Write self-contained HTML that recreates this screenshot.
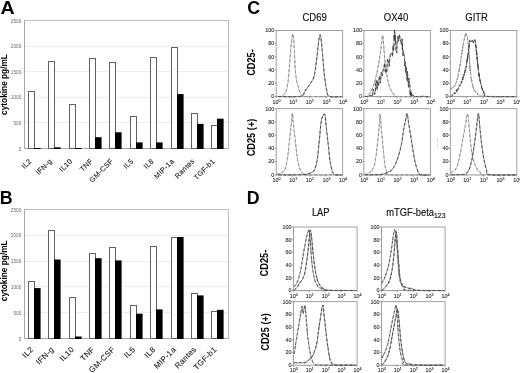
<!DOCTYPE html>
<html><head><meta charset="utf-8"><style>html,body{margin:0;padding:0;background:#fff;overflow:hidden}svg{display:block;will-change:transform}</style></head>
<body><svg width="520" height="373" viewBox="0 0 520 373">
<rect width="520" height="373" fill="#fff"/>
<line x1="24.5" y1="122.50" x2="228.5" y2="122.50" stroke="#ededed" stroke-width="1"/>
<line x1="24.5" y1="97.50" x2="228.5" y2="97.50" stroke="#ededed" stroke-width="1"/>
<line x1="24.5" y1="71.50" x2="228.5" y2="71.50" stroke="#ededed" stroke-width="1"/>
<line x1="24.5" y1="46.50" x2="228.5" y2="46.50" stroke="#ededed" stroke-width="1"/>
<rect x="24.5" y="20.5" width="204.0" height="128.0" fill="none" stroke="#bdbdbd" stroke-width="1"/>
<line x1="24.5" y1="20.5" x2="24.5" y2="148.5" stroke="#a8a8a8" stroke-width="1"/>
<line x1="24.5" y1="148.5" x2="228.5" y2="148.5" stroke="#a8a8a8" stroke-width="1"/>
<text x="21.3" y="150.50" font-family="Liberation Sans, sans-serif" font-size="4.7" fill="#666" text-anchor="end">0</text>
<text x="21.3" y="124.90" font-family="Liberation Sans, sans-serif" font-size="4.7" fill="#666" text-anchor="end">500</text>
<text x="21.3" y="99.30" font-family="Liberation Sans, sans-serif" font-size="4.7" fill="#666" text-anchor="end">1000</text>
<text x="21.3" y="73.70" font-family="Liberation Sans, sans-serif" font-size="4.7" fill="#666" text-anchor="end">1500</text>
<text x="21.3" y="48.10" font-family="Liberation Sans, sans-serif" font-size="4.7" fill="#666" text-anchor="end">2000</text>
<text x="21.3" y="22.50" font-family="Liberation Sans, sans-serif" font-size="4.7" fill="#666" text-anchor="end">2500</text>
<rect x="28.50" y="91.50" width="6" height="57.00" fill="#fff" stroke="#606060" stroke-width="1"/>
<rect x="34.00" y="148.00" width="6.6" height="1.00" fill="#000"/>
<text transform="translate(32.10,161.60) rotate(-45)" font-family="Liberation Sans, sans-serif" font-size="7.2" fill="#222" stroke="#222" stroke-width="0.12" letter-spacing="0.3" text-anchor="end">IL2</text>
<rect x="48.50" y="61.50" width="6" height="87.00" fill="#fff" stroke="#606060" stroke-width="1"/>
<rect x="54.00" y="147.30" width="6.6" height="1.70" fill="#000"/>
<text transform="translate(52.47,161.60) rotate(-45)" font-family="Liberation Sans, sans-serif" font-size="7.2" fill="#222" stroke="#222" stroke-width="0.12" letter-spacing="0.3" text-anchor="end">IFN-g</text>
<rect x="69.50" y="104.50" width="6" height="44.00" fill="#fff" stroke="#606060" stroke-width="1"/>
<rect x="75.00" y="148.00" width="6.6" height="1.00" fill="#000"/>
<text transform="translate(72.84,161.60) rotate(-45)" font-family="Liberation Sans, sans-serif" font-size="7.2" fill="#222" stroke="#222" stroke-width="0.12" letter-spacing="0.3" text-anchor="end">IL10</text>
<rect x="89.50" y="58.50" width="6" height="90.00" fill="#fff" stroke="#606060" stroke-width="1"/>
<rect x="95.00" y="137.20" width="6.6" height="11.80" fill="#000"/>
<text transform="translate(93.21,161.60) rotate(-45)" font-family="Liberation Sans, sans-serif" font-size="7.2" fill="#222" stroke="#222" stroke-width="0.12" letter-spacing="0.3" text-anchor="end">TNF</text>
<rect x="109.50" y="62.50" width="6" height="86.00" fill="#fff" stroke="#606060" stroke-width="1"/>
<rect x="115.00" y="132.30" width="6.6" height="16.70" fill="#000"/>
<text transform="translate(113.58,161.60) rotate(-45)" font-family="Liberation Sans, sans-serif" font-size="7.2" fill="#222" stroke="#222" stroke-width="0.12" letter-spacing="0.3" text-anchor="end">GM-CSF</text>
<rect x="130.50" y="116.50" width="6" height="32.00" fill="#fff" stroke="#606060" stroke-width="1"/>
<rect x="136.00" y="142.40" width="6.6" height="6.60" fill="#000"/>
<text transform="translate(133.95,161.60) rotate(-45)" font-family="Liberation Sans, sans-serif" font-size="7.2" fill="#222" stroke="#222" stroke-width="0.12" letter-spacing="0.3" text-anchor="end">IL5</text>
<rect x="150.50" y="57.50" width="6" height="91.00" fill="#fff" stroke="#606060" stroke-width="1"/>
<rect x="156.00" y="142.40" width="6.6" height="6.60" fill="#000"/>
<text transform="translate(154.32,161.60) rotate(-45)" font-family="Liberation Sans, sans-serif" font-size="7.2" fill="#222" stroke="#222" stroke-width="0.12" letter-spacing="0.3" text-anchor="end">IL8</text>
<rect x="171.50" y="47.50" width="6" height="101.00" fill="#fff" stroke="#606060" stroke-width="1"/>
<rect x="177.00" y="94.10" width="6.6" height="54.90" fill="#000"/>
<text transform="translate(174.69,161.60) rotate(-45)" font-family="Liberation Sans, sans-serif" font-size="7.2" fill="#222" stroke="#222" stroke-width="0.12" letter-spacing="0.3" text-anchor="end">MIP-1a</text>
<rect x="191.50" y="113.50" width="6" height="35.00" fill="#fff" stroke="#606060" stroke-width="1"/>
<rect x="197.00" y="123.90" width="6.6" height="25.10" fill="#000"/>
<text transform="translate(195.06,161.60) rotate(-45)" font-family="Liberation Sans, sans-serif" font-size="7.2" fill="#222" stroke="#222" stroke-width="0.12" letter-spacing="0.3" text-anchor="end">Rantes</text>
<rect x="211.50" y="125.50" width="6" height="23.00" fill="#fff" stroke="#606060" stroke-width="1"/>
<rect x="217.00" y="118.70" width="6.6" height="30.30" fill="#000"/>
<text transform="translate(215.43,161.60) rotate(-45)" font-family="Liberation Sans, sans-serif" font-size="7.2" fill="#222" stroke="#222" stroke-width="0.12" letter-spacing="0.3" text-anchor="end">TGF-b1</text>
<text transform="translate(6.7,84.5) rotate(-90)" font-family="Liberation Sans, sans-serif" font-size="8.3" font-weight="bold" fill="#000" text-anchor="middle">cytokine pg/mL</text>
<text transform="translate(0.6,13.5) scale(1.1,1)" font-family="Liberation Sans, sans-serif" font-size="17.8" font-weight="bold" fill="#000">A</text>
<line x1="24.5" y1="312.50" x2="228.5" y2="312.50" stroke="#ededed" stroke-width="1"/>
<line x1="24.5" y1="286.50" x2="228.5" y2="286.50" stroke="#ededed" stroke-width="1"/>
<line x1="24.5" y1="261.50" x2="228.5" y2="261.50" stroke="#ededed" stroke-width="1"/>
<line x1="24.5" y1="235.50" x2="228.5" y2="235.50" stroke="#ededed" stroke-width="1"/>
<rect x="24.5" y="209.5" width="204.0" height="129.0" fill="none" stroke="#bdbdbd" stroke-width="1"/>
<line x1="24.5" y1="209.5" x2="24.5" y2="338.5" stroke="#a8a8a8" stroke-width="1"/>
<line x1="24.5" y1="338.5" x2="228.5" y2="338.5" stroke="#a8a8a8" stroke-width="1"/>
<text x="21.3" y="340.50" font-family="Liberation Sans, sans-serif" font-size="4.7" fill="#666" text-anchor="end">0</text>
<text x="21.3" y="314.70" font-family="Liberation Sans, sans-serif" font-size="4.7" fill="#666" text-anchor="end">500</text>
<text x="21.3" y="288.90" font-family="Liberation Sans, sans-serif" font-size="4.7" fill="#666" text-anchor="end">1000</text>
<text x="21.3" y="263.10" font-family="Liberation Sans, sans-serif" font-size="4.7" fill="#666" text-anchor="end">1500</text>
<text x="21.3" y="237.30" font-family="Liberation Sans, sans-serif" font-size="4.7" fill="#666" text-anchor="end">2000</text>
<text x="21.3" y="211.50" font-family="Liberation Sans, sans-serif" font-size="4.7" fill="#666" text-anchor="end">2500</text>
<rect x="28.50" y="281.50" width="6" height="57.00" fill="#fff" stroke="#606060" stroke-width="1"/>
<rect x="34.00" y="288.10" width="6.6" height="50.90" fill="#000"/>
<text transform="translate(33.90,350.00) rotate(-45)" font-family="Liberation Sans, sans-serif" font-size="7.9" fill="#222" stroke="#222" stroke-width="0.12" letter-spacing="0.3" text-anchor="end">IL2</text>
<rect x="48.50" y="230.50" width="6" height="108.00" fill="#fff" stroke="#606060" stroke-width="1"/>
<rect x="54.00" y="259.50" width="6.6" height="79.50" fill="#000"/>
<text transform="translate(54.27,350.00) rotate(-45)" font-family="Liberation Sans, sans-serif" font-size="7.9" fill="#222" stroke="#222" stroke-width="0.12" letter-spacing="0.3" text-anchor="end">IFN-g</text>
<rect x="69.50" y="297.50" width="6" height="41.00" fill="#fff" stroke="#606060" stroke-width="1"/>
<rect x="75.00" y="336.50" width="6.6" height="2.50" fill="#000"/>
<text transform="translate(74.64,350.00) rotate(-45)" font-family="Liberation Sans, sans-serif" font-size="7.9" fill="#222" stroke="#222" stroke-width="0.12" letter-spacing="0.3" text-anchor="end">IL10</text>
<rect x="89.50" y="253.50" width="6" height="85.00" fill="#fff" stroke="#606060" stroke-width="1"/>
<rect x="95.00" y="258.20" width="6.6" height="80.80" fill="#000"/>
<text transform="translate(95.01,350.00) rotate(-45)" font-family="Liberation Sans, sans-serif" font-size="7.9" fill="#222" stroke="#222" stroke-width="0.12" letter-spacing="0.3" text-anchor="end">TNF</text>
<rect x="109.50" y="247.50" width="6" height="91.00" fill="#fff" stroke="#606060" stroke-width="1"/>
<rect x="115.00" y="260.40" width="6.6" height="78.60" fill="#000"/>
<text transform="translate(115.38,350.00) rotate(-45)" font-family="Liberation Sans, sans-serif" font-size="7.9" fill="#222" stroke="#222" stroke-width="0.12" letter-spacing="0.3" text-anchor="end">GM-CSF</text>
<rect x="130.50" y="305.50" width="6" height="33.00" fill="#fff" stroke="#606060" stroke-width="1"/>
<rect x="136.00" y="313.70" width="6.6" height="25.30" fill="#000"/>
<text transform="translate(135.75,350.00) rotate(-45)" font-family="Liberation Sans, sans-serif" font-size="7.9" fill="#222" stroke="#222" stroke-width="0.12" letter-spacing="0.3" text-anchor="end">IL5</text>
<rect x="150.50" y="246.50" width="6" height="92.00" fill="#fff" stroke="#606060" stroke-width="1"/>
<rect x="156.00" y="309.40" width="6.6" height="29.60" fill="#000"/>
<text transform="translate(156.12,350.00) rotate(-45)" font-family="Liberation Sans, sans-serif" font-size="7.9" fill="#222" stroke="#222" stroke-width="0.12" letter-spacing="0.3" text-anchor="end">IL8</text>
<rect x="171.50" y="237.50" width="6" height="101.00" fill="#fff" stroke="#606060" stroke-width="1"/>
<rect x="177.00" y="237.00" width="6.6" height="102.00" fill="#000"/>
<text transform="translate(176.49,350.00) rotate(-45)" font-family="Liberation Sans, sans-serif" font-size="7.9" fill="#222" stroke="#222" stroke-width="0.12" letter-spacing="0.3" text-anchor="end">MIP-1a</text>
<rect x="191.50" y="293.50" width="6" height="45.00" fill="#fff" stroke="#606060" stroke-width="1"/>
<rect x="197.00" y="295.40" width="6.6" height="43.60" fill="#000"/>
<text transform="translate(196.86,350.00) rotate(-45)" font-family="Liberation Sans, sans-serif" font-size="7.9" fill="#222" stroke="#222" stroke-width="0.12" letter-spacing="0.3" text-anchor="end">Rantes</text>
<rect x="211.50" y="311.50" width="6" height="27.00" fill="#fff" stroke="#606060" stroke-width="1"/>
<rect x="217.00" y="309.80" width="6.6" height="29.20" fill="#000"/>
<text transform="translate(217.23,350.00) rotate(-45)" font-family="Liberation Sans, sans-serif" font-size="7.9" fill="#222" stroke="#222" stroke-width="0.12" letter-spacing="0.3" text-anchor="end">TGF-b1</text>
<text transform="translate(6.7,270.8) rotate(-90)" font-family="Liberation Sans, sans-serif" font-size="8.3" font-weight="bold" fill="#000" text-anchor="middle">cytokine pg/mL</text>
<text transform="translate(-0.3,203.7) scale(1.0,1)" font-family="Liberation Sans, sans-serif" font-size="17.8" font-weight="bold" fill="#000">B</text>
<rect x="276.2" y="30.4" width="66.5" height="66.2" fill="none" stroke="#8a8a8a" stroke-width="0.8"/>
<line x1="274.4" y1="96.60" x2="276.2" y2="96.60" stroke="#777" stroke-width="0.6"/>
<text x="274.30" y="98.40" font-family="Liberation Sans, sans-serif" font-size="5.4" fill="#333" stroke="#333" stroke-width="0.12" text-anchor="end">0</text>
<line x1="274.4" y1="83.36" x2="276.2" y2="83.36" stroke="#777" stroke-width="0.6"/>
<text x="274.30" y="85.16" font-family="Liberation Sans, sans-serif" font-size="5.4" fill="#333" stroke="#333" stroke-width="0.12" text-anchor="end">20</text>
<line x1="274.4" y1="70.12" x2="276.2" y2="70.12" stroke="#777" stroke-width="0.6"/>
<text x="274.30" y="71.92" font-family="Liberation Sans, sans-serif" font-size="5.4" fill="#333" stroke="#333" stroke-width="0.12" text-anchor="end">40</text>
<line x1="274.4" y1="56.88" x2="276.2" y2="56.88" stroke="#777" stroke-width="0.6"/>
<text x="274.30" y="58.68" font-family="Liberation Sans, sans-serif" font-size="5.4" fill="#333" stroke="#333" stroke-width="0.12" text-anchor="end">60</text>
<line x1="274.4" y1="43.64" x2="276.2" y2="43.64" stroke="#777" stroke-width="0.6"/>
<text x="274.30" y="45.44" font-family="Liberation Sans, sans-serif" font-size="5.4" fill="#333" stroke="#333" stroke-width="0.12" text-anchor="end">80</text>
<line x1="274.4" y1="30.40" x2="276.2" y2="30.40" stroke="#777" stroke-width="0.6"/>
<text x="274.30" y="32.20" font-family="Liberation Sans, sans-serif" font-size="5.4" fill="#333" stroke="#333" stroke-width="0.12" text-anchor="end">100</text>
<line x1="275.3" y1="89.98" x2="276.2" y2="89.98" stroke="#999" stroke-width="0.5"/>
<line x1="275.3" y1="76.74" x2="276.2" y2="76.74" stroke="#999" stroke-width="0.5"/>
<line x1="275.3" y1="63.50" x2="276.2" y2="63.50" stroke="#999" stroke-width="0.5"/>
<line x1="275.3" y1="50.26" x2="276.2" y2="50.26" stroke="#999" stroke-width="0.5"/>
<line x1="275.3" y1="37.02" x2="276.2" y2="37.02" stroke="#999" stroke-width="0.5"/>
<line x1="276.20" y1="96.6" x2="276.20" y2="98.39999999999999" stroke="#777" stroke-width="0.6"/>
<text x="272.60" y="103.60" font-family="Liberation Sans, sans-serif" font-size="5.4" fill="#333" stroke="#333" stroke-width="0.12">10<tspan font-size="3.6" dy="-2">0</tspan></text>
<line x1="281.20" y1="96.6" x2="281.20" y2="97.5" stroke="#999" stroke-width="0.5"/>
<line x1="284.13" y1="96.6" x2="284.13" y2="97.5" stroke="#999" stroke-width="0.5"/>
<line x1="286.21" y1="96.6" x2="286.21" y2="97.5" stroke="#999" stroke-width="0.5"/>
<line x1="287.82" y1="96.6" x2="287.82" y2="97.5" stroke="#999" stroke-width="0.5"/>
<line x1="289.14" y1="96.6" x2="289.14" y2="97.5" stroke="#999" stroke-width="0.5"/>
<line x1="290.25" y1="96.6" x2="290.25" y2="97.5" stroke="#999" stroke-width="0.5"/>
<line x1="291.21" y1="96.6" x2="291.21" y2="97.5" stroke="#999" stroke-width="0.5"/>
<line x1="292.06" y1="96.6" x2="292.06" y2="97.5" stroke="#999" stroke-width="0.5"/>
<line x1="292.82" y1="96.6" x2="292.82" y2="98.39999999999999" stroke="#777" stroke-width="0.6"/>
<text x="289.22" y="103.60" font-family="Liberation Sans, sans-serif" font-size="5.4" fill="#333" stroke="#333" stroke-width="0.12">10<tspan font-size="3.6" dy="-2">1</tspan></text>
<line x1="297.83" y1="96.6" x2="297.83" y2="97.5" stroke="#999" stroke-width="0.5"/>
<line x1="300.76" y1="96.6" x2="300.76" y2="97.5" stroke="#999" stroke-width="0.5"/>
<line x1="302.83" y1="96.6" x2="302.83" y2="97.5" stroke="#999" stroke-width="0.5"/>
<line x1="304.45" y1="96.6" x2="304.45" y2="97.5" stroke="#999" stroke-width="0.5"/>
<line x1="305.76" y1="96.6" x2="305.76" y2="97.5" stroke="#999" stroke-width="0.5"/>
<line x1="306.87" y1="96.6" x2="306.87" y2="97.5" stroke="#999" stroke-width="0.5"/>
<line x1="307.84" y1="96.6" x2="307.84" y2="97.5" stroke="#999" stroke-width="0.5"/>
<line x1="308.69" y1="96.6" x2="308.69" y2="97.5" stroke="#999" stroke-width="0.5"/>
<line x1="309.45" y1="96.6" x2="309.45" y2="98.39999999999999" stroke="#777" stroke-width="0.6"/>
<text x="305.85" y="103.60" font-family="Liberation Sans, sans-serif" font-size="5.4" fill="#333" stroke="#333" stroke-width="0.12">10<tspan font-size="3.6" dy="-2">2</tspan></text>
<line x1="314.45" y1="96.6" x2="314.45" y2="97.5" stroke="#999" stroke-width="0.5"/>
<line x1="317.38" y1="96.6" x2="317.38" y2="97.5" stroke="#999" stroke-width="0.5"/>
<line x1="319.46" y1="96.6" x2="319.46" y2="97.5" stroke="#999" stroke-width="0.5"/>
<line x1="321.07" y1="96.6" x2="321.07" y2="97.5" stroke="#999" stroke-width="0.5"/>
<line x1="322.39" y1="96.6" x2="322.39" y2="97.5" stroke="#999" stroke-width="0.5"/>
<line x1="323.50" y1="96.6" x2="323.50" y2="97.5" stroke="#999" stroke-width="0.5"/>
<line x1="324.46" y1="96.6" x2="324.46" y2="97.5" stroke="#999" stroke-width="0.5"/>
<line x1="325.31" y1="96.6" x2="325.31" y2="97.5" stroke="#999" stroke-width="0.5"/>
<line x1="326.07" y1="96.6" x2="326.07" y2="98.39999999999999" stroke="#777" stroke-width="0.6"/>
<text x="322.47" y="103.60" font-family="Liberation Sans, sans-serif" font-size="5.4" fill="#333" stroke="#333" stroke-width="0.12">10<tspan font-size="3.6" dy="-2">3</tspan></text>
<line x1="331.08" y1="96.6" x2="331.08" y2="97.5" stroke="#999" stroke-width="0.5"/>
<line x1="334.01" y1="96.6" x2="334.01" y2="97.5" stroke="#999" stroke-width="0.5"/>
<line x1="336.08" y1="96.6" x2="336.08" y2="97.5" stroke="#999" stroke-width="0.5"/>
<line x1="337.70" y1="96.6" x2="337.70" y2="97.5" stroke="#999" stroke-width="0.5"/>
<line x1="339.01" y1="96.6" x2="339.01" y2="97.5" stroke="#999" stroke-width="0.5"/>
<line x1="340.12" y1="96.6" x2="340.12" y2="97.5" stroke="#999" stroke-width="0.5"/>
<line x1="341.09" y1="96.6" x2="341.09" y2="97.5" stroke="#999" stroke-width="0.5"/>
<line x1="341.94" y1="96.6" x2="341.94" y2="97.5" stroke="#999" stroke-width="0.5"/>
<line x1="342.70" y1="96.6" x2="342.70" y2="98.39999999999999" stroke="#777" stroke-width="0.6"/>
<text x="339.10" y="103.60" font-family="Liberation Sans, sans-serif" font-size="5.4" fill="#333" stroke="#333" stroke-width="0.12">10<tspan font-size="3.6" dy="-2">4</tspan></text>
<rect x="363.9" y="30.4" width="66.5" height="66.2" fill="none" stroke="#8a8a8a" stroke-width="0.8"/>
<line x1="362.09999999999997" y1="96.60" x2="363.9" y2="96.60" stroke="#777" stroke-width="0.6"/>
<text x="362.00" y="98.40" font-family="Liberation Sans, sans-serif" font-size="5.4" fill="#333" stroke="#333" stroke-width="0.12" text-anchor="end">0</text>
<line x1="362.09999999999997" y1="83.36" x2="363.9" y2="83.36" stroke="#777" stroke-width="0.6"/>
<text x="362.00" y="85.16" font-family="Liberation Sans, sans-serif" font-size="5.4" fill="#333" stroke="#333" stroke-width="0.12" text-anchor="end">20</text>
<line x1="362.09999999999997" y1="70.12" x2="363.9" y2="70.12" stroke="#777" stroke-width="0.6"/>
<text x="362.00" y="71.92" font-family="Liberation Sans, sans-serif" font-size="5.4" fill="#333" stroke="#333" stroke-width="0.12" text-anchor="end">40</text>
<line x1="362.09999999999997" y1="56.88" x2="363.9" y2="56.88" stroke="#777" stroke-width="0.6"/>
<text x="362.00" y="58.68" font-family="Liberation Sans, sans-serif" font-size="5.4" fill="#333" stroke="#333" stroke-width="0.12" text-anchor="end">60</text>
<line x1="362.09999999999997" y1="43.64" x2="363.9" y2="43.64" stroke="#777" stroke-width="0.6"/>
<text x="362.00" y="45.44" font-family="Liberation Sans, sans-serif" font-size="5.4" fill="#333" stroke="#333" stroke-width="0.12" text-anchor="end">80</text>
<line x1="362.09999999999997" y1="30.40" x2="363.9" y2="30.40" stroke="#777" stroke-width="0.6"/>
<text x="362.00" y="32.20" font-family="Liberation Sans, sans-serif" font-size="5.4" fill="#333" stroke="#333" stroke-width="0.12" text-anchor="end">100</text>
<line x1="363.0" y1="89.98" x2="363.9" y2="89.98" stroke="#999" stroke-width="0.5"/>
<line x1="363.0" y1="76.74" x2="363.9" y2="76.74" stroke="#999" stroke-width="0.5"/>
<line x1="363.0" y1="63.50" x2="363.9" y2="63.50" stroke="#999" stroke-width="0.5"/>
<line x1="363.0" y1="50.26" x2="363.9" y2="50.26" stroke="#999" stroke-width="0.5"/>
<line x1="363.0" y1="37.02" x2="363.9" y2="37.02" stroke="#999" stroke-width="0.5"/>
<line x1="363.90" y1="96.6" x2="363.90" y2="98.39999999999999" stroke="#777" stroke-width="0.6"/>
<text x="360.30" y="103.60" font-family="Liberation Sans, sans-serif" font-size="5.4" fill="#333" stroke="#333" stroke-width="0.12">10<tspan font-size="3.6" dy="-2">0</tspan></text>
<line x1="368.90" y1="96.6" x2="368.90" y2="97.5" stroke="#999" stroke-width="0.5"/>
<line x1="371.83" y1="96.6" x2="371.83" y2="97.5" stroke="#999" stroke-width="0.5"/>
<line x1="373.91" y1="96.6" x2="373.91" y2="97.5" stroke="#999" stroke-width="0.5"/>
<line x1="375.52" y1="96.6" x2="375.52" y2="97.5" stroke="#999" stroke-width="0.5"/>
<line x1="376.84" y1="96.6" x2="376.84" y2="97.5" stroke="#999" stroke-width="0.5"/>
<line x1="377.95" y1="96.6" x2="377.95" y2="97.5" stroke="#999" stroke-width="0.5"/>
<line x1="378.91" y1="96.6" x2="378.91" y2="97.5" stroke="#999" stroke-width="0.5"/>
<line x1="379.76" y1="96.6" x2="379.76" y2="97.5" stroke="#999" stroke-width="0.5"/>
<line x1="380.52" y1="96.6" x2="380.52" y2="98.39999999999999" stroke="#777" stroke-width="0.6"/>
<text x="376.92" y="103.60" font-family="Liberation Sans, sans-serif" font-size="5.4" fill="#333" stroke="#333" stroke-width="0.12">10<tspan font-size="3.6" dy="-2">1</tspan></text>
<line x1="385.53" y1="96.6" x2="385.53" y2="97.5" stroke="#999" stroke-width="0.5"/>
<line x1="388.46" y1="96.6" x2="388.46" y2="97.5" stroke="#999" stroke-width="0.5"/>
<line x1="390.53" y1="96.6" x2="390.53" y2="97.5" stroke="#999" stroke-width="0.5"/>
<line x1="392.15" y1="96.6" x2="392.15" y2="97.5" stroke="#999" stroke-width="0.5"/>
<line x1="393.46" y1="96.6" x2="393.46" y2="97.5" stroke="#999" stroke-width="0.5"/>
<line x1="394.57" y1="96.6" x2="394.57" y2="97.5" stroke="#999" stroke-width="0.5"/>
<line x1="395.54" y1="96.6" x2="395.54" y2="97.5" stroke="#999" stroke-width="0.5"/>
<line x1="396.39" y1="96.6" x2="396.39" y2="97.5" stroke="#999" stroke-width="0.5"/>
<line x1="397.15" y1="96.6" x2="397.15" y2="98.39999999999999" stroke="#777" stroke-width="0.6"/>
<text x="393.55" y="103.60" font-family="Liberation Sans, sans-serif" font-size="5.4" fill="#333" stroke="#333" stroke-width="0.12">10<tspan font-size="3.6" dy="-2">2</tspan></text>
<line x1="402.15" y1="96.6" x2="402.15" y2="97.5" stroke="#999" stroke-width="0.5"/>
<line x1="405.08" y1="96.6" x2="405.08" y2="97.5" stroke="#999" stroke-width="0.5"/>
<line x1="407.16" y1="96.6" x2="407.16" y2="97.5" stroke="#999" stroke-width="0.5"/>
<line x1="408.77" y1="96.6" x2="408.77" y2="97.5" stroke="#999" stroke-width="0.5"/>
<line x1="410.09" y1="96.6" x2="410.09" y2="97.5" stroke="#999" stroke-width="0.5"/>
<line x1="411.20" y1="96.6" x2="411.20" y2="97.5" stroke="#999" stroke-width="0.5"/>
<line x1="412.16" y1="96.6" x2="412.16" y2="97.5" stroke="#999" stroke-width="0.5"/>
<line x1="413.01" y1="96.6" x2="413.01" y2="97.5" stroke="#999" stroke-width="0.5"/>
<line x1="413.77" y1="96.6" x2="413.77" y2="98.39999999999999" stroke="#777" stroke-width="0.6"/>
<text x="410.17" y="103.60" font-family="Liberation Sans, sans-serif" font-size="5.4" fill="#333" stroke="#333" stroke-width="0.12">10<tspan font-size="3.6" dy="-2">3</tspan></text>
<line x1="418.78" y1="96.6" x2="418.78" y2="97.5" stroke="#999" stroke-width="0.5"/>
<line x1="421.71" y1="96.6" x2="421.71" y2="97.5" stroke="#999" stroke-width="0.5"/>
<line x1="423.78" y1="96.6" x2="423.78" y2="97.5" stroke="#999" stroke-width="0.5"/>
<line x1="425.40" y1="96.6" x2="425.40" y2="97.5" stroke="#999" stroke-width="0.5"/>
<line x1="426.71" y1="96.6" x2="426.71" y2="97.5" stroke="#999" stroke-width="0.5"/>
<line x1="427.82" y1="96.6" x2="427.82" y2="97.5" stroke="#999" stroke-width="0.5"/>
<line x1="428.79" y1="96.6" x2="428.79" y2="97.5" stroke="#999" stroke-width="0.5"/>
<line x1="429.64" y1="96.6" x2="429.64" y2="97.5" stroke="#999" stroke-width="0.5"/>
<line x1="430.40" y1="96.6" x2="430.40" y2="98.39999999999999" stroke="#777" stroke-width="0.6"/>
<text x="426.80" y="103.60" font-family="Liberation Sans, sans-serif" font-size="5.4" fill="#333" stroke="#333" stroke-width="0.12">10<tspan font-size="3.6" dy="-2">4</tspan></text>
<rect x="450.3" y="30.4" width="66.5" height="66.2" fill="none" stroke="#8a8a8a" stroke-width="0.8"/>
<line x1="448.5" y1="96.60" x2="450.3" y2="96.60" stroke="#777" stroke-width="0.6"/>
<text x="448.40" y="98.40" font-family="Liberation Sans, sans-serif" font-size="5.4" fill="#333" stroke="#333" stroke-width="0.12" text-anchor="end">0</text>
<line x1="448.5" y1="83.36" x2="450.3" y2="83.36" stroke="#777" stroke-width="0.6"/>
<text x="448.40" y="85.16" font-family="Liberation Sans, sans-serif" font-size="5.4" fill="#333" stroke="#333" stroke-width="0.12" text-anchor="end">20</text>
<line x1="448.5" y1="70.12" x2="450.3" y2="70.12" stroke="#777" stroke-width="0.6"/>
<text x="448.40" y="71.92" font-family="Liberation Sans, sans-serif" font-size="5.4" fill="#333" stroke="#333" stroke-width="0.12" text-anchor="end">40</text>
<line x1="448.5" y1="56.88" x2="450.3" y2="56.88" stroke="#777" stroke-width="0.6"/>
<text x="448.40" y="58.68" font-family="Liberation Sans, sans-serif" font-size="5.4" fill="#333" stroke="#333" stroke-width="0.12" text-anchor="end">60</text>
<line x1="448.5" y1="43.64" x2="450.3" y2="43.64" stroke="#777" stroke-width="0.6"/>
<text x="448.40" y="45.44" font-family="Liberation Sans, sans-serif" font-size="5.4" fill="#333" stroke="#333" stroke-width="0.12" text-anchor="end">80</text>
<line x1="448.5" y1="30.40" x2="450.3" y2="30.40" stroke="#777" stroke-width="0.6"/>
<text x="448.40" y="32.20" font-family="Liberation Sans, sans-serif" font-size="5.4" fill="#333" stroke="#333" stroke-width="0.12" text-anchor="end">100</text>
<line x1="449.40000000000003" y1="89.98" x2="450.3" y2="89.98" stroke="#999" stroke-width="0.5"/>
<line x1="449.40000000000003" y1="76.74" x2="450.3" y2="76.74" stroke="#999" stroke-width="0.5"/>
<line x1="449.40000000000003" y1="63.50" x2="450.3" y2="63.50" stroke="#999" stroke-width="0.5"/>
<line x1="449.40000000000003" y1="50.26" x2="450.3" y2="50.26" stroke="#999" stroke-width="0.5"/>
<line x1="449.40000000000003" y1="37.02" x2="450.3" y2="37.02" stroke="#999" stroke-width="0.5"/>
<line x1="450.30" y1="96.6" x2="450.30" y2="98.39999999999999" stroke="#777" stroke-width="0.6"/>
<text x="446.70" y="103.60" font-family="Liberation Sans, sans-serif" font-size="5.4" fill="#333" stroke="#333" stroke-width="0.12">10<tspan font-size="3.6" dy="-2">0</tspan></text>
<line x1="455.30" y1="96.6" x2="455.30" y2="97.5" stroke="#999" stroke-width="0.5"/>
<line x1="458.23" y1="96.6" x2="458.23" y2="97.5" stroke="#999" stroke-width="0.5"/>
<line x1="460.31" y1="96.6" x2="460.31" y2="97.5" stroke="#999" stroke-width="0.5"/>
<line x1="461.92" y1="96.6" x2="461.92" y2="97.5" stroke="#999" stroke-width="0.5"/>
<line x1="463.24" y1="96.6" x2="463.24" y2="97.5" stroke="#999" stroke-width="0.5"/>
<line x1="464.35" y1="96.6" x2="464.35" y2="97.5" stroke="#999" stroke-width="0.5"/>
<line x1="465.31" y1="96.6" x2="465.31" y2="97.5" stroke="#999" stroke-width="0.5"/>
<line x1="466.16" y1="96.6" x2="466.16" y2="97.5" stroke="#999" stroke-width="0.5"/>
<line x1="466.93" y1="96.6" x2="466.93" y2="98.39999999999999" stroke="#777" stroke-width="0.6"/>
<text x="463.32" y="103.60" font-family="Liberation Sans, sans-serif" font-size="5.4" fill="#333" stroke="#333" stroke-width="0.12">10<tspan font-size="3.6" dy="-2">1</tspan></text>
<line x1="471.93" y1="96.6" x2="471.93" y2="97.5" stroke="#999" stroke-width="0.5"/>
<line x1="474.86" y1="96.6" x2="474.86" y2="97.5" stroke="#999" stroke-width="0.5"/>
<line x1="476.93" y1="96.6" x2="476.93" y2="97.5" stroke="#999" stroke-width="0.5"/>
<line x1="478.55" y1="96.6" x2="478.55" y2="97.5" stroke="#999" stroke-width="0.5"/>
<line x1="479.86" y1="96.6" x2="479.86" y2="97.5" stroke="#999" stroke-width="0.5"/>
<line x1="480.97" y1="96.6" x2="480.97" y2="97.5" stroke="#999" stroke-width="0.5"/>
<line x1="481.94" y1="96.6" x2="481.94" y2="97.5" stroke="#999" stroke-width="0.5"/>
<line x1="482.79" y1="96.6" x2="482.79" y2="97.5" stroke="#999" stroke-width="0.5"/>
<line x1="483.55" y1="96.6" x2="483.55" y2="98.39999999999999" stroke="#777" stroke-width="0.6"/>
<text x="479.95" y="103.60" font-family="Liberation Sans, sans-serif" font-size="5.4" fill="#333" stroke="#333" stroke-width="0.12">10<tspan font-size="3.6" dy="-2">2</tspan></text>
<line x1="488.55" y1="96.6" x2="488.55" y2="97.5" stroke="#999" stroke-width="0.5"/>
<line x1="491.48" y1="96.6" x2="491.48" y2="97.5" stroke="#999" stroke-width="0.5"/>
<line x1="493.56" y1="96.6" x2="493.56" y2="97.5" stroke="#999" stroke-width="0.5"/>
<line x1="495.17" y1="96.6" x2="495.17" y2="97.5" stroke="#999" stroke-width="0.5"/>
<line x1="496.49" y1="96.6" x2="496.49" y2="97.5" stroke="#999" stroke-width="0.5"/>
<line x1="497.60" y1="96.6" x2="497.60" y2="97.5" stroke="#999" stroke-width="0.5"/>
<line x1="498.56" y1="96.6" x2="498.56" y2="97.5" stroke="#999" stroke-width="0.5"/>
<line x1="499.41" y1="96.6" x2="499.41" y2="97.5" stroke="#999" stroke-width="0.5"/>
<line x1="500.18" y1="96.6" x2="500.18" y2="98.39999999999999" stroke="#777" stroke-width="0.6"/>
<text x="496.57" y="103.60" font-family="Liberation Sans, sans-serif" font-size="5.4" fill="#333" stroke="#333" stroke-width="0.12">10<tspan font-size="3.6" dy="-2">3</tspan></text>
<line x1="505.18" y1="96.6" x2="505.18" y2="97.5" stroke="#999" stroke-width="0.5"/>
<line x1="508.11" y1="96.6" x2="508.11" y2="97.5" stroke="#999" stroke-width="0.5"/>
<line x1="510.18" y1="96.6" x2="510.18" y2="97.5" stroke="#999" stroke-width="0.5"/>
<line x1="511.80" y1="96.6" x2="511.80" y2="97.5" stroke="#999" stroke-width="0.5"/>
<line x1="513.11" y1="96.6" x2="513.11" y2="97.5" stroke="#999" stroke-width="0.5"/>
<line x1="514.22" y1="96.6" x2="514.22" y2="97.5" stroke="#999" stroke-width="0.5"/>
<line x1="515.19" y1="96.6" x2="515.19" y2="97.5" stroke="#999" stroke-width="0.5"/>
<line x1="516.04" y1="96.6" x2="516.04" y2="97.5" stroke="#999" stroke-width="0.5"/>
<line x1="516.80" y1="96.6" x2="516.80" y2="98.39999999999999" stroke="#777" stroke-width="0.6"/>
<text x="513.20" y="103.60" font-family="Liberation Sans, sans-serif" font-size="5.4" fill="#333" stroke="#333" stroke-width="0.12">10<tspan font-size="3.6" dy="-2">4</tspan></text>
<rect x="276.2" y="108.7" width="66.5" height="66.2" fill="none" stroke="#8a8a8a" stroke-width="0.8"/>
<line x1="274.4" y1="174.90" x2="276.2" y2="174.90" stroke="#777" stroke-width="0.6"/>
<text x="274.30" y="176.70" font-family="Liberation Sans, sans-serif" font-size="5.4" fill="#333" stroke="#333" stroke-width="0.12" text-anchor="end">0</text>
<line x1="274.4" y1="161.66" x2="276.2" y2="161.66" stroke="#777" stroke-width="0.6"/>
<text x="274.30" y="163.46" font-family="Liberation Sans, sans-serif" font-size="5.4" fill="#333" stroke="#333" stroke-width="0.12" text-anchor="end">20</text>
<line x1="274.4" y1="148.42" x2="276.2" y2="148.42" stroke="#777" stroke-width="0.6"/>
<text x="274.30" y="150.22" font-family="Liberation Sans, sans-serif" font-size="5.4" fill="#333" stroke="#333" stroke-width="0.12" text-anchor="end">40</text>
<line x1="274.4" y1="135.18" x2="276.2" y2="135.18" stroke="#777" stroke-width="0.6"/>
<text x="274.30" y="136.98" font-family="Liberation Sans, sans-serif" font-size="5.4" fill="#333" stroke="#333" stroke-width="0.12" text-anchor="end">60</text>
<line x1="274.4" y1="121.94" x2="276.2" y2="121.94" stroke="#777" stroke-width="0.6"/>
<text x="274.30" y="123.74" font-family="Liberation Sans, sans-serif" font-size="5.4" fill="#333" stroke="#333" stroke-width="0.12" text-anchor="end">80</text>
<line x1="274.4" y1="108.70" x2="276.2" y2="108.70" stroke="#777" stroke-width="0.6"/>
<text x="274.30" y="110.50" font-family="Liberation Sans, sans-serif" font-size="5.4" fill="#333" stroke="#333" stroke-width="0.12" text-anchor="end">100</text>
<line x1="275.3" y1="168.28" x2="276.2" y2="168.28" stroke="#999" stroke-width="0.5"/>
<line x1="275.3" y1="155.04" x2="276.2" y2="155.04" stroke="#999" stroke-width="0.5"/>
<line x1="275.3" y1="141.80" x2="276.2" y2="141.80" stroke="#999" stroke-width="0.5"/>
<line x1="275.3" y1="128.56" x2="276.2" y2="128.56" stroke="#999" stroke-width="0.5"/>
<line x1="275.3" y1="115.32" x2="276.2" y2="115.32" stroke="#999" stroke-width="0.5"/>
<line x1="276.20" y1="174.9" x2="276.20" y2="176.70000000000002" stroke="#777" stroke-width="0.6"/>
<text x="272.60" y="181.90" font-family="Liberation Sans, sans-serif" font-size="5.4" fill="#333" stroke="#333" stroke-width="0.12">10<tspan font-size="3.6" dy="-2">0</tspan></text>
<line x1="281.20" y1="174.9" x2="281.20" y2="175.8" stroke="#999" stroke-width="0.5"/>
<line x1="284.13" y1="174.9" x2="284.13" y2="175.8" stroke="#999" stroke-width="0.5"/>
<line x1="286.21" y1="174.9" x2="286.21" y2="175.8" stroke="#999" stroke-width="0.5"/>
<line x1="287.82" y1="174.9" x2="287.82" y2="175.8" stroke="#999" stroke-width="0.5"/>
<line x1="289.14" y1="174.9" x2="289.14" y2="175.8" stroke="#999" stroke-width="0.5"/>
<line x1="290.25" y1="174.9" x2="290.25" y2="175.8" stroke="#999" stroke-width="0.5"/>
<line x1="291.21" y1="174.9" x2="291.21" y2="175.8" stroke="#999" stroke-width="0.5"/>
<line x1="292.06" y1="174.9" x2="292.06" y2="175.8" stroke="#999" stroke-width="0.5"/>
<line x1="292.82" y1="174.9" x2="292.82" y2="176.70000000000002" stroke="#777" stroke-width="0.6"/>
<text x="289.22" y="181.90" font-family="Liberation Sans, sans-serif" font-size="5.4" fill="#333" stroke="#333" stroke-width="0.12">10<tspan font-size="3.6" dy="-2">1</tspan></text>
<line x1="297.83" y1="174.9" x2="297.83" y2="175.8" stroke="#999" stroke-width="0.5"/>
<line x1="300.76" y1="174.9" x2="300.76" y2="175.8" stroke="#999" stroke-width="0.5"/>
<line x1="302.83" y1="174.9" x2="302.83" y2="175.8" stroke="#999" stroke-width="0.5"/>
<line x1="304.45" y1="174.9" x2="304.45" y2="175.8" stroke="#999" stroke-width="0.5"/>
<line x1="305.76" y1="174.9" x2="305.76" y2="175.8" stroke="#999" stroke-width="0.5"/>
<line x1="306.87" y1="174.9" x2="306.87" y2="175.8" stroke="#999" stroke-width="0.5"/>
<line x1="307.84" y1="174.9" x2="307.84" y2="175.8" stroke="#999" stroke-width="0.5"/>
<line x1="308.69" y1="174.9" x2="308.69" y2="175.8" stroke="#999" stroke-width="0.5"/>
<line x1="309.45" y1="174.9" x2="309.45" y2="176.70000000000002" stroke="#777" stroke-width="0.6"/>
<text x="305.85" y="181.90" font-family="Liberation Sans, sans-serif" font-size="5.4" fill="#333" stroke="#333" stroke-width="0.12">10<tspan font-size="3.6" dy="-2">2</tspan></text>
<line x1="314.45" y1="174.9" x2="314.45" y2="175.8" stroke="#999" stroke-width="0.5"/>
<line x1="317.38" y1="174.9" x2="317.38" y2="175.8" stroke="#999" stroke-width="0.5"/>
<line x1="319.46" y1="174.9" x2="319.46" y2="175.8" stroke="#999" stroke-width="0.5"/>
<line x1="321.07" y1="174.9" x2="321.07" y2="175.8" stroke="#999" stroke-width="0.5"/>
<line x1="322.39" y1="174.9" x2="322.39" y2="175.8" stroke="#999" stroke-width="0.5"/>
<line x1="323.50" y1="174.9" x2="323.50" y2="175.8" stroke="#999" stroke-width="0.5"/>
<line x1="324.46" y1="174.9" x2="324.46" y2="175.8" stroke="#999" stroke-width="0.5"/>
<line x1="325.31" y1="174.9" x2="325.31" y2="175.8" stroke="#999" stroke-width="0.5"/>
<line x1="326.07" y1="174.9" x2="326.07" y2="176.70000000000002" stroke="#777" stroke-width="0.6"/>
<text x="322.47" y="181.90" font-family="Liberation Sans, sans-serif" font-size="5.4" fill="#333" stroke="#333" stroke-width="0.12">10<tspan font-size="3.6" dy="-2">3</tspan></text>
<line x1="331.08" y1="174.9" x2="331.08" y2="175.8" stroke="#999" stroke-width="0.5"/>
<line x1="334.01" y1="174.9" x2="334.01" y2="175.8" stroke="#999" stroke-width="0.5"/>
<line x1="336.08" y1="174.9" x2="336.08" y2="175.8" stroke="#999" stroke-width="0.5"/>
<line x1="337.70" y1="174.9" x2="337.70" y2="175.8" stroke="#999" stroke-width="0.5"/>
<line x1="339.01" y1="174.9" x2="339.01" y2="175.8" stroke="#999" stroke-width="0.5"/>
<line x1="340.12" y1="174.9" x2="340.12" y2="175.8" stroke="#999" stroke-width="0.5"/>
<line x1="341.09" y1="174.9" x2="341.09" y2="175.8" stroke="#999" stroke-width="0.5"/>
<line x1="341.94" y1="174.9" x2="341.94" y2="175.8" stroke="#999" stroke-width="0.5"/>
<line x1="342.70" y1="174.9" x2="342.70" y2="176.70000000000002" stroke="#777" stroke-width="0.6"/>
<text x="339.10" y="181.90" font-family="Liberation Sans, sans-serif" font-size="5.4" fill="#333" stroke="#333" stroke-width="0.12">10<tspan font-size="3.6" dy="-2">4</tspan></text>
<rect x="363.9" y="108.7" width="66.5" height="66.2" fill="none" stroke="#8a8a8a" stroke-width="0.8"/>
<line x1="362.09999999999997" y1="174.90" x2="363.9" y2="174.90" stroke="#777" stroke-width="0.6"/>
<text x="362.00" y="176.70" font-family="Liberation Sans, sans-serif" font-size="5.4" fill="#333" stroke="#333" stroke-width="0.12" text-anchor="end">0</text>
<line x1="362.09999999999997" y1="161.66" x2="363.9" y2="161.66" stroke="#777" stroke-width="0.6"/>
<text x="362.00" y="163.46" font-family="Liberation Sans, sans-serif" font-size="5.4" fill="#333" stroke="#333" stroke-width="0.12" text-anchor="end">20</text>
<line x1="362.09999999999997" y1="148.42" x2="363.9" y2="148.42" stroke="#777" stroke-width="0.6"/>
<text x="362.00" y="150.22" font-family="Liberation Sans, sans-serif" font-size="5.4" fill="#333" stroke="#333" stroke-width="0.12" text-anchor="end">40</text>
<line x1="362.09999999999997" y1="135.18" x2="363.9" y2="135.18" stroke="#777" stroke-width="0.6"/>
<text x="362.00" y="136.98" font-family="Liberation Sans, sans-serif" font-size="5.4" fill="#333" stroke="#333" stroke-width="0.12" text-anchor="end">60</text>
<line x1="362.09999999999997" y1="121.94" x2="363.9" y2="121.94" stroke="#777" stroke-width="0.6"/>
<text x="362.00" y="123.74" font-family="Liberation Sans, sans-serif" font-size="5.4" fill="#333" stroke="#333" stroke-width="0.12" text-anchor="end">80</text>
<line x1="362.09999999999997" y1="108.70" x2="363.9" y2="108.70" stroke="#777" stroke-width="0.6"/>
<text x="362.00" y="110.50" font-family="Liberation Sans, sans-serif" font-size="5.4" fill="#333" stroke="#333" stroke-width="0.12" text-anchor="end">100</text>
<line x1="363.0" y1="168.28" x2="363.9" y2="168.28" stroke="#999" stroke-width="0.5"/>
<line x1="363.0" y1="155.04" x2="363.9" y2="155.04" stroke="#999" stroke-width="0.5"/>
<line x1="363.0" y1="141.80" x2="363.9" y2="141.80" stroke="#999" stroke-width="0.5"/>
<line x1="363.0" y1="128.56" x2="363.9" y2="128.56" stroke="#999" stroke-width="0.5"/>
<line x1="363.0" y1="115.32" x2="363.9" y2="115.32" stroke="#999" stroke-width="0.5"/>
<line x1="363.90" y1="174.9" x2="363.90" y2="176.70000000000002" stroke="#777" stroke-width="0.6"/>
<text x="360.30" y="181.90" font-family="Liberation Sans, sans-serif" font-size="5.4" fill="#333" stroke="#333" stroke-width="0.12">10<tspan font-size="3.6" dy="-2">0</tspan></text>
<line x1="368.90" y1="174.9" x2="368.90" y2="175.8" stroke="#999" stroke-width="0.5"/>
<line x1="371.83" y1="174.9" x2="371.83" y2="175.8" stroke="#999" stroke-width="0.5"/>
<line x1="373.91" y1="174.9" x2="373.91" y2="175.8" stroke="#999" stroke-width="0.5"/>
<line x1="375.52" y1="174.9" x2="375.52" y2="175.8" stroke="#999" stroke-width="0.5"/>
<line x1="376.84" y1="174.9" x2="376.84" y2="175.8" stroke="#999" stroke-width="0.5"/>
<line x1="377.95" y1="174.9" x2="377.95" y2="175.8" stroke="#999" stroke-width="0.5"/>
<line x1="378.91" y1="174.9" x2="378.91" y2="175.8" stroke="#999" stroke-width="0.5"/>
<line x1="379.76" y1="174.9" x2="379.76" y2="175.8" stroke="#999" stroke-width="0.5"/>
<line x1="380.52" y1="174.9" x2="380.52" y2="176.70000000000002" stroke="#777" stroke-width="0.6"/>
<text x="376.92" y="181.90" font-family="Liberation Sans, sans-serif" font-size="5.4" fill="#333" stroke="#333" stroke-width="0.12">10<tspan font-size="3.6" dy="-2">1</tspan></text>
<line x1="385.53" y1="174.9" x2="385.53" y2="175.8" stroke="#999" stroke-width="0.5"/>
<line x1="388.46" y1="174.9" x2="388.46" y2="175.8" stroke="#999" stroke-width="0.5"/>
<line x1="390.53" y1="174.9" x2="390.53" y2="175.8" stroke="#999" stroke-width="0.5"/>
<line x1="392.15" y1="174.9" x2="392.15" y2="175.8" stroke="#999" stroke-width="0.5"/>
<line x1="393.46" y1="174.9" x2="393.46" y2="175.8" stroke="#999" stroke-width="0.5"/>
<line x1="394.57" y1="174.9" x2="394.57" y2="175.8" stroke="#999" stroke-width="0.5"/>
<line x1="395.54" y1="174.9" x2="395.54" y2="175.8" stroke="#999" stroke-width="0.5"/>
<line x1="396.39" y1="174.9" x2="396.39" y2="175.8" stroke="#999" stroke-width="0.5"/>
<line x1="397.15" y1="174.9" x2="397.15" y2="176.70000000000002" stroke="#777" stroke-width="0.6"/>
<text x="393.55" y="181.90" font-family="Liberation Sans, sans-serif" font-size="5.4" fill="#333" stroke="#333" stroke-width="0.12">10<tspan font-size="3.6" dy="-2">2</tspan></text>
<line x1="402.15" y1="174.9" x2="402.15" y2="175.8" stroke="#999" stroke-width="0.5"/>
<line x1="405.08" y1="174.9" x2="405.08" y2="175.8" stroke="#999" stroke-width="0.5"/>
<line x1="407.16" y1="174.9" x2="407.16" y2="175.8" stroke="#999" stroke-width="0.5"/>
<line x1="408.77" y1="174.9" x2="408.77" y2="175.8" stroke="#999" stroke-width="0.5"/>
<line x1="410.09" y1="174.9" x2="410.09" y2="175.8" stroke="#999" stroke-width="0.5"/>
<line x1="411.20" y1="174.9" x2="411.20" y2="175.8" stroke="#999" stroke-width="0.5"/>
<line x1="412.16" y1="174.9" x2="412.16" y2="175.8" stroke="#999" stroke-width="0.5"/>
<line x1="413.01" y1="174.9" x2="413.01" y2="175.8" stroke="#999" stroke-width="0.5"/>
<line x1="413.77" y1="174.9" x2="413.77" y2="176.70000000000002" stroke="#777" stroke-width="0.6"/>
<text x="410.17" y="181.90" font-family="Liberation Sans, sans-serif" font-size="5.4" fill="#333" stroke="#333" stroke-width="0.12">10<tspan font-size="3.6" dy="-2">3</tspan></text>
<line x1="418.78" y1="174.9" x2="418.78" y2="175.8" stroke="#999" stroke-width="0.5"/>
<line x1="421.71" y1="174.9" x2="421.71" y2="175.8" stroke="#999" stroke-width="0.5"/>
<line x1="423.78" y1="174.9" x2="423.78" y2="175.8" stroke="#999" stroke-width="0.5"/>
<line x1="425.40" y1="174.9" x2="425.40" y2="175.8" stroke="#999" stroke-width="0.5"/>
<line x1="426.71" y1="174.9" x2="426.71" y2="175.8" stroke="#999" stroke-width="0.5"/>
<line x1="427.82" y1="174.9" x2="427.82" y2="175.8" stroke="#999" stroke-width="0.5"/>
<line x1="428.79" y1="174.9" x2="428.79" y2="175.8" stroke="#999" stroke-width="0.5"/>
<line x1="429.64" y1="174.9" x2="429.64" y2="175.8" stroke="#999" stroke-width="0.5"/>
<line x1="430.40" y1="174.9" x2="430.40" y2="176.70000000000002" stroke="#777" stroke-width="0.6"/>
<text x="426.80" y="181.90" font-family="Liberation Sans, sans-serif" font-size="5.4" fill="#333" stroke="#333" stroke-width="0.12">10<tspan font-size="3.6" dy="-2">4</tspan></text>
<rect x="450.3" y="108.7" width="66.5" height="66.2" fill="none" stroke="#8a8a8a" stroke-width="0.8"/>
<line x1="448.5" y1="174.90" x2="450.3" y2="174.90" stroke="#777" stroke-width="0.6"/>
<text x="448.40" y="176.70" font-family="Liberation Sans, sans-serif" font-size="5.4" fill="#333" stroke="#333" stroke-width="0.12" text-anchor="end">0</text>
<line x1="448.5" y1="161.66" x2="450.3" y2="161.66" stroke="#777" stroke-width="0.6"/>
<text x="448.40" y="163.46" font-family="Liberation Sans, sans-serif" font-size="5.4" fill="#333" stroke="#333" stroke-width="0.12" text-anchor="end">20</text>
<line x1="448.5" y1="148.42" x2="450.3" y2="148.42" stroke="#777" stroke-width="0.6"/>
<text x="448.40" y="150.22" font-family="Liberation Sans, sans-serif" font-size="5.4" fill="#333" stroke="#333" stroke-width="0.12" text-anchor="end">40</text>
<line x1="448.5" y1="135.18" x2="450.3" y2="135.18" stroke="#777" stroke-width="0.6"/>
<text x="448.40" y="136.98" font-family="Liberation Sans, sans-serif" font-size="5.4" fill="#333" stroke="#333" stroke-width="0.12" text-anchor="end">60</text>
<line x1="448.5" y1="121.94" x2="450.3" y2="121.94" stroke="#777" stroke-width="0.6"/>
<text x="448.40" y="123.74" font-family="Liberation Sans, sans-serif" font-size="5.4" fill="#333" stroke="#333" stroke-width="0.12" text-anchor="end">80</text>
<line x1="448.5" y1="108.70" x2="450.3" y2="108.70" stroke="#777" stroke-width="0.6"/>
<text x="448.40" y="110.50" font-family="Liberation Sans, sans-serif" font-size="5.4" fill="#333" stroke="#333" stroke-width="0.12" text-anchor="end">100</text>
<line x1="449.40000000000003" y1="168.28" x2="450.3" y2="168.28" stroke="#999" stroke-width="0.5"/>
<line x1="449.40000000000003" y1="155.04" x2="450.3" y2="155.04" stroke="#999" stroke-width="0.5"/>
<line x1="449.40000000000003" y1="141.80" x2="450.3" y2="141.80" stroke="#999" stroke-width="0.5"/>
<line x1="449.40000000000003" y1="128.56" x2="450.3" y2="128.56" stroke="#999" stroke-width="0.5"/>
<line x1="449.40000000000003" y1="115.32" x2="450.3" y2="115.32" stroke="#999" stroke-width="0.5"/>
<line x1="450.30" y1="174.9" x2="450.30" y2="176.70000000000002" stroke="#777" stroke-width="0.6"/>
<text x="446.70" y="181.90" font-family="Liberation Sans, sans-serif" font-size="5.4" fill="#333" stroke="#333" stroke-width="0.12">10<tspan font-size="3.6" dy="-2">0</tspan></text>
<line x1="455.30" y1="174.9" x2="455.30" y2="175.8" stroke="#999" stroke-width="0.5"/>
<line x1="458.23" y1="174.9" x2="458.23" y2="175.8" stroke="#999" stroke-width="0.5"/>
<line x1="460.31" y1="174.9" x2="460.31" y2="175.8" stroke="#999" stroke-width="0.5"/>
<line x1="461.92" y1="174.9" x2="461.92" y2="175.8" stroke="#999" stroke-width="0.5"/>
<line x1="463.24" y1="174.9" x2="463.24" y2="175.8" stroke="#999" stroke-width="0.5"/>
<line x1="464.35" y1="174.9" x2="464.35" y2="175.8" stroke="#999" stroke-width="0.5"/>
<line x1="465.31" y1="174.9" x2="465.31" y2="175.8" stroke="#999" stroke-width="0.5"/>
<line x1="466.16" y1="174.9" x2="466.16" y2="175.8" stroke="#999" stroke-width="0.5"/>
<line x1="466.93" y1="174.9" x2="466.93" y2="176.70000000000002" stroke="#777" stroke-width="0.6"/>
<text x="463.32" y="181.90" font-family="Liberation Sans, sans-serif" font-size="5.4" fill="#333" stroke="#333" stroke-width="0.12">10<tspan font-size="3.6" dy="-2">1</tspan></text>
<line x1="471.93" y1="174.9" x2="471.93" y2="175.8" stroke="#999" stroke-width="0.5"/>
<line x1="474.86" y1="174.9" x2="474.86" y2="175.8" stroke="#999" stroke-width="0.5"/>
<line x1="476.93" y1="174.9" x2="476.93" y2="175.8" stroke="#999" stroke-width="0.5"/>
<line x1="478.55" y1="174.9" x2="478.55" y2="175.8" stroke="#999" stroke-width="0.5"/>
<line x1="479.86" y1="174.9" x2="479.86" y2="175.8" stroke="#999" stroke-width="0.5"/>
<line x1="480.97" y1="174.9" x2="480.97" y2="175.8" stroke="#999" stroke-width="0.5"/>
<line x1="481.94" y1="174.9" x2="481.94" y2="175.8" stroke="#999" stroke-width="0.5"/>
<line x1="482.79" y1="174.9" x2="482.79" y2="175.8" stroke="#999" stroke-width="0.5"/>
<line x1="483.55" y1="174.9" x2="483.55" y2="176.70000000000002" stroke="#777" stroke-width="0.6"/>
<text x="479.95" y="181.90" font-family="Liberation Sans, sans-serif" font-size="5.4" fill="#333" stroke="#333" stroke-width="0.12">10<tspan font-size="3.6" dy="-2">2</tspan></text>
<line x1="488.55" y1="174.9" x2="488.55" y2="175.8" stroke="#999" stroke-width="0.5"/>
<line x1="491.48" y1="174.9" x2="491.48" y2="175.8" stroke="#999" stroke-width="0.5"/>
<line x1="493.56" y1="174.9" x2="493.56" y2="175.8" stroke="#999" stroke-width="0.5"/>
<line x1="495.17" y1="174.9" x2="495.17" y2="175.8" stroke="#999" stroke-width="0.5"/>
<line x1="496.49" y1="174.9" x2="496.49" y2="175.8" stroke="#999" stroke-width="0.5"/>
<line x1="497.60" y1="174.9" x2="497.60" y2="175.8" stroke="#999" stroke-width="0.5"/>
<line x1="498.56" y1="174.9" x2="498.56" y2="175.8" stroke="#999" stroke-width="0.5"/>
<line x1="499.41" y1="174.9" x2="499.41" y2="175.8" stroke="#999" stroke-width="0.5"/>
<line x1="500.18" y1="174.9" x2="500.18" y2="176.70000000000002" stroke="#777" stroke-width="0.6"/>
<text x="496.57" y="181.90" font-family="Liberation Sans, sans-serif" font-size="5.4" fill="#333" stroke="#333" stroke-width="0.12">10<tspan font-size="3.6" dy="-2">3</tspan></text>
<line x1="505.18" y1="174.9" x2="505.18" y2="175.8" stroke="#999" stroke-width="0.5"/>
<line x1="508.11" y1="174.9" x2="508.11" y2="175.8" stroke="#999" stroke-width="0.5"/>
<line x1="510.18" y1="174.9" x2="510.18" y2="175.8" stroke="#999" stroke-width="0.5"/>
<line x1="511.80" y1="174.9" x2="511.80" y2="175.8" stroke="#999" stroke-width="0.5"/>
<line x1="513.11" y1="174.9" x2="513.11" y2="175.8" stroke="#999" stroke-width="0.5"/>
<line x1="514.22" y1="174.9" x2="514.22" y2="175.8" stroke="#999" stroke-width="0.5"/>
<line x1="515.19" y1="174.9" x2="515.19" y2="175.8" stroke="#999" stroke-width="0.5"/>
<line x1="516.04" y1="174.9" x2="516.04" y2="175.8" stroke="#999" stroke-width="0.5"/>
<line x1="516.80" y1="174.9" x2="516.80" y2="176.70000000000002" stroke="#777" stroke-width="0.6"/>
<text x="513.20" y="181.90" font-family="Liberation Sans, sans-serif" font-size="5.4" fill="#333" stroke="#333" stroke-width="0.12">10<tspan font-size="3.6" dy="-2">4</tspan></text>
<polyline points="278.33,96.58 278.78,96.55 279.43,96.58 280.18,96.49 280.92,96.45 281.56,96.28 282.09,96.05 282.56,95.86 283.01,95.48 283.44,95.15 283.89,94.53 284.36,93.93 284.84,93.46 285.31,92.97 285.77,91.54 286.00,90.98 286.22,90.68 286.44,90.13 286.66,89.03 286.81,88.24 286.95,88.06 287.10,86.67 287.24,86.61 287.38,85.44 287.52,84.61 287.65,83.84 287.78,83.24 287.91,82.90 288.02,81.63 288.13,81.20 288.24,80.49 288.33,79.54 288.42,78.94 288.51,77.82 288.57,77.07 288.64,76.44 288.70,76.08 288.76,75.10 288.82,74.23 288.87,73.66 288.91,72.92 288.96,72.17 289.00,71.93 289.04,71.22 289.10,70.15 289.15,69.71 289.20,68.97 289.26,68.54 289.31,67.76 289.36,66.75 289.42,66.64 289.47,65.29 289.52,64.87 289.57,64.51 289.62,63.40 289.67,63.05 289.72,62.07 289.77,61.94 289.81,61.40 289.86,60.60 289.92,60.20 289.97,59.10 290.02,58.76 290.07,58.04 290.12,57.38 290.17,56.67 290.21,56.37 290.26,55.84 290.31,54.85 290.36,54.39 290.41,53.30 290.46,53.18 290.52,52.51 290.57,52.15 290.62,51.38 290.67,50.32 290.73,49.76 290.79,49.34 290.84,48.17 290.90,47.88 290.97,46.90 291.03,46.11 291.10,45.32 291.16,45.24 291.22,44.07 291.29,43.52 291.38,42.75 291.48,42.25 291.58,40.79 291.69,40.25 291.76,39.74 291.84,39.41 291.91,38.76 291.99,38.17 292.07,37.08 292.15,36.56 292.28,35.73 292.40,35.35 292.65,34.47 292.90,33.89 293.03,34.51 293.16,35.14 293.25,35.83 293.33,36.71 293.42,37.48 293.49,37.91 293.55,38.40 293.62,39.42 293.69,40.07 293.74,40.90 293.79,41.87 293.85,42.32 293.90,42.85 293.95,43.60 294.00,44.27 294.04,44.39 294.08,45.69 294.13,46.21 294.17,46.91 294.22,47.47 294.25,47.79 294.29,48.45 294.32,48.86 294.36,49.93 294.39,50.13 294.43,50.78 294.47,51.54 294.49,52.11 294.52,52.86 294.54,53.24 294.57,53.80 294.60,54.53 294.62,55.10 294.65,55.91 294.67,56.25 294.70,57.54 294.73,57.97 294.75,58.24 294.78,58.96 294.81,59.68 294.83,60.33 294.86,60.78 294.89,62.00 294.91,62.76 294.94,62.97 294.97,63.59 295.00,63.88 295.03,64.50 295.06,65.29 295.09,65.83 295.12,66.89 295.15,66.96 295.18,67.45 295.21,68.80 295.26,69.11 295.30,69.44 295.35,70.40 295.39,70.63 295.44,71.67 295.49,72.68 295.53,73.23 295.61,73.77 295.68,74.11 295.76,74.87 295.83,75.39 295.91,76.56 296.01,77.05 296.11,77.93 296.22,78.25 296.32,78.85 296.47,80.07 296.62,80.97 296.77,81.62 296.93,82.26 297.09,82.95 297.25,83.56 297.42,83.82 297.59,84.72 297.76,85.26 297.95,85.67 298.14,86.34 298.33,87.21 298.53,87.82 298.74,88.79 298.95,89.63 299.16,89.78 299.38,90.74 299.59,91.34 299.91,92.05 300.22,92.33 300.51,92.87 300.80,93.51 301.29,94.45 301.72,95.11 302.14,95.62 302.59,95.96 303.12,96.22 303.26,96.42 302.97,96.54 302.97,96.60 303.96,96.54 304.64,96.60 305.31,96.63 305.99,96.62 306.67,96.62 307.27,96.60 307.88,96.57 308.49,96.64 309.09,96.60 309.70,96.64 310.30,96.66 310.91,96.61 311.52,96.61 312.12,96.67 312.77,96.65 313.41,96.59 314.06,96.59 314.70,96.59 315.35,96.67 315.99,96.66 316.64,96.59 317.28,96.66 317.93,96.67 318.57,96.64 319.22,96.61 319.86,96.63 320.46,96.59 321.07,96.58 321.67,96.67 322.28,96.64 322.88,96.63 323.48,96.67 324.09,96.62 324.69,96.66 325.29,96.65 325.90,96.59 326.50,96.60 327.10,96.60 327.71,96.60 328.31,96.63 328.94,96.60 329.58,96.61 330.21,96.58 330.84,96.65 331.48,96.60 332.11,96.61 332.74,96.62 333.37,96.65 334.01,96.60 334.64,96.65 335.27,96.61 335.91,96.61 336.55,96.61 337.20,96.56 337.85,96.60 338.49,96.57 339.14,96.55 339.79,96.63 340.43,96.57 341.08,96.60" fill="none" stroke="#b8b8b8" stroke-width="0.9" stroke-linejoin="round"/>
<polyline points="278.33,96.58 278.78,96.55 279.43,96.58 280.18,96.49 280.92,96.45 281.56,96.28 282.09,96.05 282.56,95.86 283.01,95.48 283.44,95.15 283.89,94.53 284.36,93.93 284.84,93.46 285.31,92.97 285.77,91.54 286.00,90.98 286.22,90.68 286.44,90.13 286.66,89.03 286.81,88.24 286.95,88.06 287.10,86.67 287.24,86.61 287.38,85.44 287.52,84.61 287.65,83.84 287.78,83.24 287.91,82.90 288.02,81.63 288.13,81.20 288.24,80.49 288.33,79.54 288.42,78.94 288.51,77.82 288.57,77.07 288.64,76.44 288.70,76.08 288.76,75.10 288.82,74.23 288.87,73.66 288.91,72.92 288.96,72.17 289.00,71.93 289.04,71.22 289.10,70.15 289.15,69.71 289.20,68.97 289.26,68.54 289.31,67.76 289.36,66.75 289.42,66.64 289.47,65.29 289.52,64.87 289.57,64.51 289.62,63.40 289.67,63.05 289.72,62.07 289.77,61.94 289.81,61.40 289.86,60.60 289.92,60.20 289.97,59.10 290.02,58.76 290.07,58.04 290.12,57.38 290.17,56.67 290.21,56.37 290.26,55.84 290.31,54.85 290.36,54.39 290.41,53.30 290.46,53.18 290.52,52.51 290.57,52.15 290.62,51.38 290.67,50.32 290.73,49.76 290.79,49.34 290.84,48.17 290.90,47.88 290.97,46.90 291.03,46.11 291.10,45.32 291.16,45.24 291.22,44.07 291.29,43.52 291.38,42.75 291.48,42.25 291.58,40.79 291.69,40.25 291.76,39.74 291.84,39.41 291.91,38.76 291.99,38.17 292.07,37.08 292.15,36.56 292.28,35.73 292.40,35.35 292.65,34.47 292.90,33.89 293.03,34.51 293.16,35.14 293.25,35.83 293.33,36.71 293.42,37.48 293.49,37.91 293.55,38.40 293.62,39.42 293.69,40.07 293.74,40.90 293.79,41.87 293.85,42.32 293.90,42.85 293.95,43.60 294.00,44.27 294.04,44.39 294.08,45.69 294.13,46.21 294.17,46.91 294.22,47.47 294.25,47.79 294.29,48.45 294.32,48.86 294.36,49.93 294.39,50.13 294.43,50.78 294.47,51.54 294.49,52.11 294.52,52.86 294.54,53.24 294.57,53.80 294.60,54.53 294.62,55.10 294.65,55.91 294.67,56.25 294.70,57.54 294.73,57.97 294.75,58.24 294.78,58.96 294.81,59.68 294.83,60.33 294.86,60.78 294.89,62.00 294.91,62.76 294.94,62.97 294.97,63.59 295.00,63.88 295.03,64.50 295.06,65.29 295.09,65.83 295.12,66.89 295.15,66.96 295.18,67.45 295.21,68.80 295.26,69.11 295.30,69.44 295.35,70.40 295.39,70.63 295.44,71.67 295.49,72.68 295.53,73.23 295.61,73.77 295.68,74.11 295.76,74.87 295.83,75.39 295.91,76.56 296.01,77.05 296.11,77.93 296.22,78.25 296.32,78.85 296.47,80.07 296.62,80.97 296.77,81.62 296.93,82.26 297.09,82.95 297.25,83.56 297.42,83.82 297.59,84.72 297.76,85.26 297.95,85.67 298.14,86.34 298.33,87.21 298.53,87.82 298.74,88.79 298.95,89.63 299.16,89.78 299.38,90.74 299.59,91.34 299.91,92.05 300.22,92.33 300.51,92.87 300.80,93.51 301.29,94.45 301.72,95.11 302.14,95.62 302.59,95.96 303.12,96.22 303.26,96.42 302.97,96.54 302.97,96.60 303.96,96.54 304.64,96.60 305.31,96.63 305.99,96.62 306.67,96.62 307.27,96.60 307.88,96.57 308.49,96.64 309.09,96.60 309.70,96.64 310.30,96.66 310.91,96.61 311.52,96.61 312.12,96.67 312.77,96.65 313.41,96.59 314.06,96.59 314.70,96.59 315.35,96.67 315.99,96.66 316.64,96.59 317.28,96.66 317.93,96.67 318.57,96.64 319.22,96.61 319.86,96.63 320.46,96.59 321.07,96.58 321.67,96.67 322.28,96.64 322.88,96.63 323.48,96.67 324.09,96.62 324.69,96.66 325.29,96.65 325.90,96.59 326.50,96.60 327.10,96.60 327.71,96.60 328.31,96.63 328.94,96.60 329.58,96.61 330.21,96.58 330.84,96.65 331.48,96.60 332.11,96.61 332.74,96.62 333.37,96.65 334.01,96.60 334.64,96.65 335.27,96.61 335.91,96.61 336.55,96.61 337.20,96.56 337.85,96.60 338.49,96.57 339.14,96.55 339.79,96.63 340.43,96.57 341.08,96.60" fill="none" stroke="#7a7a7a" stroke-width="0.9" stroke-linejoin="round" stroke-dasharray="2.5 2.5"/>
<polyline points="278.33,96.60 279.00,96.63 279.67,96.62 280.35,96.60 281.02,96.63 281.70,96.64 282.31,96.67 282.93,96.62 283.55,96.67 284.16,96.66 284.78,96.67 285.40,96.73 286.02,96.71 286.63,96.73 287.24,96.75 287.86,96.77 288.47,96.73 289.08,96.76 289.69,96.75 290.30,96.76 290.92,96.78 291.53,96.76 292.14,96.77 292.78,96.75 293.41,96.78 294.05,96.75 294.68,96.75 295.32,96.74 295.96,96.66 296.59,96.68 297.23,96.70 297.84,96.63 298.45,96.50 299.06,96.44 299.67,96.41 300.29,96.31 300.90,96.27 301.54,96.01 302.18,95.89 302.82,95.70 303.24,95.32 303.65,94.64 303.90,93.83 304.06,92.66 304.35,91.64 304.64,91.60 305.17,90.98 305.70,89.69 306.10,89.77 306.50,88.81 306.90,88.37 307.32,88.23 307.74,87.57 308.15,86.49 308.55,86.16 308.95,85.68 309.35,85.00 309.71,84.35 310.06,83.93 310.41,83.72 310.86,82.49 311.30,82.25 311.70,81.60 312.10,80.69 312.46,80.33 312.82,79.96 313.16,79.07 313.50,77.91 313.72,77.89 313.94,76.98 314.16,76.37 314.28,75.05 314.41,74.55 314.54,73.73 314.67,73.69 314.80,72.66 314.90,71.90 315.00,71.49 315.10,71.24 315.20,70.52 315.30,69.43 315.40,68.70 315.48,68.72 315.56,67.83 315.64,67.34 315.72,66.24 315.80,65.62 315.89,65.52 315.97,64.71 316.04,63.82 316.12,63.91 316.19,63.06 316.27,62.59 316.35,61.41 316.42,61.42 316.50,60.18 316.58,60.17 316.66,59.19 316.74,58.44 316.83,57.96 316.91,57.61 316.99,56.43 317.07,55.69 317.14,55.39 317.22,54.53 317.29,53.80 317.37,53.22 317.44,52.50 317.51,51.99 317.58,51.44 317.65,50.80 317.72,50.52 317.79,49.51 317.85,49.04 317.92,48.18 317.98,47.71 318.04,46.84 318.11,46.42 318.17,45.62 318.23,45.59 318.30,44.79 318.37,43.86 318.44,43.44 318.51,43.16 318.58,41.85 318.67,41.77 318.75,40.82 318.83,40.22 318.91,39.85 319.01,38.83 319.11,38.26 319.21,37.74 319.34,37.21 319.47,35.92 319.72,35.28 319.96,34.74 320.23,34.89 320.51,35.57 320.65,36.25 320.78,36.75 320.88,37.50 320.98,38.14 321.07,39.37 321.15,39.67 321.23,40.27 321.31,40.89 321.39,42.17 321.46,42.88 321.53,43.39 321.60,43.76 321.68,44.41 321.75,45.13 321.81,45.90 321.87,46.30 321.92,47.17 321.98,47.66 322.04,48.86 322.10,49.51 322.16,49.81 322.21,50.18 322.26,51.37 322.31,51.46 322.36,52.12 322.41,52.45 322.46,53.37 322.51,54.06 322.57,54.70 322.62,55.07 322.66,55.92 322.71,56.12 322.76,56.92 322.81,57.38 322.86,58.23 322.91,58.54 322.95,59.12 323.00,59.95 323.05,60.49 323.10,61.37 323.15,61.97 323.21,62.79 323.26,63.37 323.32,64.06 323.37,64.83 323.43,65.09 323.48,65.68 323.54,66.86 323.59,66.83 323.65,67.92 323.71,68.48 323.77,68.63 323.83,69.88 323.89,70.56 323.95,70.97 324.02,71.68 324.08,72.37 324.14,72.43 324.21,73.34 324.28,73.93 324.35,74.79 324.41,75.37 324.48,75.99 324.55,76.39 324.63,77.28 324.71,77.75 324.78,78.39 324.86,78.66 324.94,79.14 325.02,79.86 325.12,80.73 325.21,81.21 325.31,82.48 325.40,82.95 325.50,83.69 325.60,84.29 325.70,84.95 325.79,85.40 325.89,85.62 325.99,86.86 326.12,87.48 326.25,87.94 326.38,88.63 326.51,89.38 326.64,89.63 326.77,90.90 326.90,91.24 327.04,91.98 327.18,93.02 327.36,93.96 327.54,94.40 327.87,95.12 328.20,95.68 328.77,95.98 329.34,96.38 329.99,96.56 330.65,96.74 331.31,96.91 331.97,96.92 332.63,96.95 333.29,96.92 333.96,96.95 334.67,96.93 335.38,96.95 336.09,96.88 336.80,96.87 337.44,96.77 338.07,96.73 338.71,96.71 339.34,96.70 340.21,96.66 341.08,96.60" fill="none" stroke="#8a8a8a" stroke-width="0.9" stroke-linejoin="round"/>
<polyline points="278.33,96.60 279.00,96.63 279.67,96.62 280.35,96.60 281.02,96.63 281.70,96.64 282.31,96.67 282.93,96.62 283.55,96.67 284.16,96.66 284.78,96.67 285.40,96.73 286.02,96.71 286.63,96.73 287.24,96.75 287.86,96.77 288.47,96.73 289.08,96.76 289.69,96.75 290.30,96.76 290.92,96.78 291.53,96.76 292.14,96.77 292.78,96.75 293.41,96.78 294.05,96.75 294.68,96.75 295.32,96.74 295.96,96.66 296.59,96.68 297.23,96.70 297.84,96.63 298.45,96.50 299.06,96.44 299.67,96.41 300.29,96.31 300.90,96.27 301.54,96.01 302.18,95.89 302.82,95.70 303.24,95.32 303.65,94.64 303.90,93.83 304.06,92.66 304.35,91.64 304.64,91.60 305.17,90.98 305.70,89.69 306.10,89.77 306.50,88.81 306.90,88.37 307.32,88.23 307.74,87.57 308.15,86.49 308.55,86.16 308.95,85.68 309.35,85.00 309.71,84.35 310.06,83.93 310.41,83.72 310.86,82.49 311.30,82.25 311.70,81.60 312.10,80.69 312.46,80.33 312.82,79.96 313.16,79.07 313.50,77.91 313.72,77.89 313.94,76.98 314.16,76.37 314.28,75.05 314.41,74.55 314.54,73.73 314.67,73.69 314.80,72.66 314.90,71.90 315.00,71.49 315.10,71.24 315.20,70.52 315.30,69.43 315.40,68.70 315.48,68.72 315.56,67.83 315.64,67.34 315.72,66.24 315.80,65.62 315.89,65.52 315.97,64.71 316.04,63.82 316.12,63.91 316.19,63.06 316.27,62.59 316.35,61.41 316.42,61.42 316.50,60.18 316.58,60.17 316.66,59.19 316.74,58.44 316.83,57.96 316.91,57.61 316.99,56.43 317.07,55.69 317.14,55.39 317.22,54.53 317.29,53.80 317.37,53.22 317.44,52.50 317.51,51.99 317.58,51.44 317.65,50.80 317.72,50.52 317.79,49.51 317.85,49.04 317.92,48.18 317.98,47.71 318.04,46.84 318.11,46.42 318.17,45.62 318.23,45.59 318.30,44.79 318.37,43.86 318.44,43.44 318.51,43.16 318.58,41.85 318.67,41.77 318.75,40.82 318.83,40.22 318.91,39.85 319.01,38.83 319.11,38.26 319.21,37.74 319.34,37.21 319.47,35.92 319.72,35.28 319.96,34.74 320.23,34.89 320.51,35.57 320.65,36.25 320.78,36.75 320.88,37.50 320.98,38.14 321.07,39.37 321.15,39.67 321.23,40.27 321.31,40.89 321.39,42.17 321.46,42.88 321.53,43.39 321.60,43.76 321.68,44.41 321.75,45.13 321.81,45.90 321.87,46.30 321.92,47.17 321.98,47.66 322.04,48.86 322.10,49.51 322.16,49.81 322.21,50.18 322.26,51.37 322.31,51.46 322.36,52.12 322.41,52.45 322.46,53.37 322.51,54.06 322.57,54.70 322.62,55.07 322.66,55.92 322.71,56.12 322.76,56.92 322.81,57.38 322.86,58.23 322.91,58.54 322.95,59.12 323.00,59.95 323.05,60.49 323.10,61.37 323.15,61.97 323.21,62.79 323.26,63.37 323.32,64.06 323.37,64.83 323.43,65.09 323.48,65.68 323.54,66.86 323.59,66.83 323.65,67.92 323.71,68.48 323.77,68.63 323.83,69.88 323.89,70.56 323.95,70.97 324.02,71.68 324.08,72.37 324.14,72.43 324.21,73.34 324.28,73.93 324.35,74.79 324.41,75.37 324.48,75.99 324.55,76.39 324.63,77.28 324.71,77.75 324.78,78.39 324.86,78.66 324.94,79.14 325.02,79.86 325.12,80.73 325.21,81.21 325.31,82.48 325.40,82.95 325.50,83.69 325.60,84.29 325.70,84.95 325.79,85.40 325.89,85.62 325.99,86.86 326.12,87.48 326.25,87.94 326.38,88.63 326.51,89.38 326.64,89.63 326.77,90.90 326.90,91.24 327.04,91.98 327.18,93.02 327.36,93.96 327.54,94.40 327.87,95.12 328.20,95.68 328.77,95.98 329.34,96.38 329.99,96.56 330.65,96.74 331.31,96.91 331.97,96.92 332.63,96.95 333.29,96.92 333.96,96.95 334.67,96.93 335.38,96.95 336.09,96.88 336.80,96.87 337.44,96.77 338.07,96.73 338.71,96.71 339.34,96.70 340.21,96.66 341.08,96.60" fill="none" stroke="#333" stroke-width="0.9" stroke-linejoin="round" stroke-dasharray="3 2"/>
<polyline points="365.02,96.62 365.38,96.57 365.89,96.61 366.48,96.60 367.06,96.51 367.57,96.25 367.97,96.00 368.33,95.38 368.67,95.08 369.02,94.50 369.40,93.34 369.81,92.98 370.22,92.65 370.66,92.12 371.13,90.76 371.64,89.53 371.92,88.89 372.21,89.04 372.51,87.68 372.82,87.43 373.14,86.27 373.47,85.93 373.69,85.78 373.91,84.37 374.13,84.48 374.35,83.45 374.57,83.12 374.80,82.22 374.97,81.08 375.14,81.08 375.31,80.00 375.48,78.88 375.62,78.24 375.77,78.10 375.91,77.44 376.05,76.67 376.19,75.89 376.34,75.42 376.48,74.72 376.62,74.56 376.77,73.05 376.91,73.12 377.05,72.51 377.19,71.09 377.33,71.19 377.47,70.28 377.61,69.77 377.74,68.46 377.87,67.85 378.00,67.18 378.13,67.09 378.26,65.99 378.38,65.05 378.50,64.41 378.63,63.55 378.75,62.62 378.87,61.97 378.97,62.08 379.07,60.92 379.17,60.95 379.27,59.65 379.37,59.04 379.46,58.67 379.56,57.73 379.65,57.29 379.74,57.26 379.84,56.56 379.93,55.87 380.02,55.07 380.11,54.75 380.20,54.18 380.28,53.19 380.37,52.77 380.46,51.50 380.54,51.58 380.64,50.64 380.73,50.28 380.82,49.51 380.92,48.49 381.01,47.60 381.09,47.80 381.17,46.33 381.25,46.00 381.33,45.19 381.41,44.47 381.48,44.21 381.55,43.74 381.62,42.31 381.69,42.00 381.76,40.94 381.82,40.56 381.88,39.76 381.95,38.90 382.01,38.26 382.07,37.67 382.17,37.60 382.26,36.43 382.36,35.39 382.64,35.19 382.90,36.16 382.98,36.38 383.06,36.84 383.14,37.65 383.18,38.19 383.23,39.07 383.27,39.46 383.32,40.24 383.36,40.90 383.41,41.92 383.46,42.94 383.50,43.51 383.55,43.88 383.60,44.59 383.65,45.37 383.70,45.90 383.75,46.54 383.81,46.93 383.86,47.82 383.92,49.18 383.97,48.99 384.03,50.03 384.09,50.82 384.14,51.71 384.19,51.66 384.24,52.32 384.29,52.89 384.33,53.64 384.38,54.29 384.43,55.39 384.48,55.91 384.53,56.55 384.58,56.32 384.63,56.95 384.69,58.25 384.74,59.06 384.80,59.25 384.85,59.98 384.91,60.01 384.97,61.02 385.03,62.17 385.09,62.69 385.17,63.43 385.25,64.25 385.33,64.23 385.41,64.80 385.49,65.55 385.58,66.61 385.68,67.45 385.77,68.40 385.86,68.87 385.95,69.48 386.06,70.28 386.16,70.66 386.26,71.44 386.37,71.62 386.47,73.05 386.58,73.17 386.69,74.52 386.80,74.91 386.92,75.24 387.03,75.73 387.15,76.47 387.26,77.48 387.38,78.17 387.50,78.20 387.62,78.79 387.77,79.94 387.93,80.70 388.08,81.20 388.24,81.74 388.41,82.74 388.58,82.77 388.75,83.68 388.91,84.47 389.16,85.72 389.41,86.16 389.65,87.15 389.90,87.41 390.15,87.84 390.40,88.52 390.65,89.80 390.89,90.12 391.14,90.30 391.47,90.72 391.80,91.91 392.40,93.05 392.95,93.47 393.47,93.75 393.97,94.27 394.45,94.75 394.42,94.95 393.88,95.40 393.57,95.93 394.22,96.32 395.01,96.44 395.80,96.47 396.59,96.64 397.23,96.65 397.86,96.63 398.50,96.61 399.14,96.72 399.77,96.66 400.41,96.74 401.04,96.68 401.68,96.70 402.29,96.76 402.90,96.71 403.51,96.79 404.12,96.74 404.73,96.70 405.34,96.71 405.95,96.73 406.56,96.76 407.17,96.80 407.78,96.70 408.39,96.73 409.00,96.71 409.61,96.80 410.23,96.70 410.85,96.68 411.47,96.68 412.09,96.72 412.70,96.77 413.32,96.77 413.94,96.74 414.56,96.77 415.17,96.76 415.79,96.68 416.41,96.66 417.03,96.75 417.63,96.72 418.23,96.63 418.84,96.70 419.44,96.66 420.04,96.66 420.64,96.65 421.25,96.62 421.85,96.59 422.45,96.62 423.05,96.63 423.66,96.69 424.26,96.59 424.87,96.68 425.49,96.59 426.10,96.60 426.72,96.65 427.33,96.65 427.95,96.60 428.56,96.55 429.18,96.60" fill="none" stroke="#b8b8b8" stroke-width="0.9" stroke-linejoin="round"/>
<polyline points="365.02,96.62 365.38,96.57 365.89,96.61 366.48,96.60 367.06,96.51 367.57,96.25 367.97,96.00 368.33,95.38 368.67,95.08 369.02,94.50 369.40,93.34 369.81,92.98 370.22,92.65 370.66,92.12 371.13,90.76 371.64,89.53 371.92,88.89 372.21,89.04 372.51,87.68 372.82,87.43 373.14,86.27 373.47,85.93 373.69,85.78 373.91,84.37 374.13,84.48 374.35,83.45 374.57,83.12 374.80,82.22 374.97,81.08 375.14,81.08 375.31,80.00 375.48,78.88 375.62,78.24 375.77,78.10 375.91,77.44 376.05,76.67 376.19,75.89 376.34,75.42 376.48,74.72 376.62,74.56 376.77,73.05 376.91,73.12 377.05,72.51 377.19,71.09 377.33,71.19 377.47,70.28 377.61,69.77 377.74,68.46 377.87,67.85 378.00,67.18 378.13,67.09 378.26,65.99 378.38,65.05 378.50,64.41 378.63,63.55 378.75,62.62 378.87,61.97 378.97,62.08 379.07,60.92 379.17,60.95 379.27,59.65 379.37,59.04 379.46,58.67 379.56,57.73 379.65,57.29 379.74,57.26 379.84,56.56 379.93,55.87 380.02,55.07 380.11,54.75 380.20,54.18 380.28,53.19 380.37,52.77 380.46,51.50 380.54,51.58 380.64,50.64 380.73,50.28 380.82,49.51 380.92,48.49 381.01,47.60 381.09,47.80 381.17,46.33 381.25,46.00 381.33,45.19 381.41,44.47 381.48,44.21 381.55,43.74 381.62,42.31 381.69,42.00 381.76,40.94 381.82,40.56 381.88,39.76 381.95,38.90 382.01,38.26 382.07,37.67 382.17,37.60 382.26,36.43 382.36,35.39 382.64,35.19 382.90,36.16 382.98,36.38 383.06,36.84 383.14,37.65 383.18,38.19 383.23,39.07 383.27,39.46 383.32,40.24 383.36,40.90 383.41,41.92 383.46,42.94 383.50,43.51 383.55,43.88 383.60,44.59 383.65,45.37 383.70,45.90 383.75,46.54 383.81,46.93 383.86,47.82 383.92,49.18 383.97,48.99 384.03,50.03 384.09,50.82 384.14,51.71 384.19,51.66 384.24,52.32 384.29,52.89 384.33,53.64 384.38,54.29 384.43,55.39 384.48,55.91 384.53,56.55 384.58,56.32 384.63,56.95 384.69,58.25 384.74,59.06 384.80,59.25 384.85,59.98 384.91,60.01 384.97,61.02 385.03,62.17 385.09,62.69 385.17,63.43 385.25,64.25 385.33,64.23 385.41,64.80 385.49,65.55 385.58,66.61 385.68,67.45 385.77,68.40 385.86,68.87 385.95,69.48 386.06,70.28 386.16,70.66 386.26,71.44 386.37,71.62 386.47,73.05 386.58,73.17 386.69,74.52 386.80,74.91 386.92,75.24 387.03,75.73 387.15,76.47 387.26,77.48 387.38,78.17 387.50,78.20 387.62,78.79 387.77,79.94 387.93,80.70 388.08,81.20 388.24,81.74 388.41,82.74 388.58,82.77 388.75,83.68 388.91,84.47 389.16,85.72 389.41,86.16 389.65,87.15 389.90,87.41 390.15,87.84 390.40,88.52 390.65,89.80 390.89,90.12 391.14,90.30 391.47,90.72 391.80,91.91 392.40,93.05 392.95,93.47 393.47,93.75 393.97,94.27 394.45,94.75 394.42,94.95 393.88,95.40 393.57,95.93 394.22,96.32 395.01,96.44 395.80,96.47 396.59,96.64 397.23,96.65 397.86,96.63 398.50,96.61 399.14,96.72 399.77,96.66 400.41,96.74 401.04,96.68 401.68,96.70 402.29,96.76 402.90,96.71 403.51,96.79 404.12,96.74 404.73,96.70 405.34,96.71 405.95,96.73 406.56,96.76 407.17,96.80 407.78,96.70 408.39,96.73 409.00,96.71 409.61,96.80 410.23,96.70 410.85,96.68 411.47,96.68 412.09,96.72 412.70,96.77 413.32,96.77 413.94,96.74 414.56,96.77 415.17,96.76 415.79,96.68 416.41,96.66 417.03,96.75 417.63,96.72 418.23,96.63 418.84,96.70 419.44,96.66 420.04,96.66 420.64,96.65 421.25,96.62 421.85,96.59 422.45,96.62 423.05,96.63 423.66,96.69 424.26,96.59 424.87,96.68 425.49,96.59 426.10,96.60 426.72,96.65 427.33,96.65 427.95,96.60 428.56,96.55 429.18,96.60" fill="none" stroke="#7a7a7a" stroke-width="0.9" stroke-linejoin="round" stroke-dasharray="2.5 2.5"/>
<polyline points="365.02,96.56 366.04,96.31 367.49,97.06 369.18,95.81 370.89,95.26 372.45,96.66 373.16,89.28 373.88,91.16 374.58,94.40 375.29,92.37 375.74,82.55 376.20,81.37 376.66,80.59 377.10,89.79 377.53,80.74 377.97,85.53 378.57,85.95 379.18,77.84 379.73,75.87 380.29,82.93 380.81,77.77 381.32,72.45 382.28,75.96 383.16,69.45 383.96,67.49 384.64,63.18 385.20,71.56 385.70,72.99 386.22,68.96 386.81,71.62 387.52,59.04 388.29,59.68 388.69,61.55 389.09,66.30 389.48,65.22 389.87,57.36 390.58,53.73 391.26,54.02 391.92,52.98 392.54,56.37 393.09,45.51 393.53,50.86 393.68,48.74 393.83,48.41 393.92,46.18 394.00,42.56 394.05,37.63 394.11,35.95 394.17,35.26 394.24,39.12 394.45,29.73 394.77,32.37 394.96,40.50 395.15,35.90 395.29,34.90 395.43,35.72 395.56,43.14 395.77,41.98 395.98,51.39 396.39,51.83 396.77,52.75 397.17,42.52 397.55,38.20 397.94,36.22 398.32,39.56 398.69,41.22 399.06,37.39 399.42,34.40 399.78,36.45 400.15,39.09 400.55,40.32 400.97,42.17 401.38,44.59 401.77,43.81 402.09,38.81 402.32,49.11 402.48,44.44 402.61,49.72 402.77,49.44 403.01,55.80 403.31,51.16 403.66,53.47 404.05,55.23 404.48,56.09 404.71,66.00 404.94,63.47 405.20,61.81 405.45,64.01 405.73,72.70 406.01,68.42 406.31,66.73 406.60,75.28 406.90,75.03 407.20,80.70 407.50,71.55 407.79,77.53 408.08,83.13 408.36,84.85 408.65,87.21 408.93,78.20 409.21,82.65 409.50,81.97 409.80,84.08 410.10,94.76 410.42,91.14 410.75,96.36 411.27,91.61 411.67,96.45 412.18,94.78 413.05,95.10 414.51,96.69 415.75,97.12 416.98,96.10 418.09,96.84 419.19,96.91 420.30,96.37 421.48,96.57 422.66,96.23 423.84,96.30 425.43,96.33 427.01,96.78 429.18,96.60" fill="none" stroke="#8a8a8a" stroke-width="0.8" stroke-linejoin="round"/>
<polyline points="365.02,96.56 366.04,96.31 367.49,97.06 369.18,95.81 370.89,95.26 372.45,96.66 373.16,89.28 373.88,91.16 374.58,94.40 375.29,92.37 375.74,82.55 376.20,81.37 376.66,80.59 377.10,89.79 377.53,80.74 377.97,85.53 378.57,85.95 379.18,77.84 379.73,75.87 380.29,82.93 380.81,77.77 381.32,72.45 382.28,75.96 383.16,69.45 383.96,67.49 384.64,63.18 385.20,71.56 385.70,72.99 386.22,68.96 386.81,71.62 387.52,59.04 388.29,59.68 388.69,61.55 389.09,66.30 389.48,65.22 389.87,57.36 390.58,53.73 391.26,54.02 391.92,52.98 392.54,56.37 393.09,45.51 393.53,50.86 393.68,48.74 393.83,48.41 393.92,46.18 394.00,42.56 394.05,37.63 394.11,35.95 394.17,35.26 394.24,39.12 394.45,29.73 394.77,32.37 394.96,40.50 395.15,35.90 395.29,34.90 395.43,35.72 395.56,43.14 395.77,41.98 395.98,51.39 396.39,51.83 396.77,52.75 397.17,42.52 397.55,38.20 397.94,36.22 398.32,39.56 398.69,41.22 399.06,37.39 399.42,34.40 399.78,36.45 400.15,39.09 400.55,40.32 400.97,42.17 401.38,44.59 401.77,43.81 402.09,38.81 402.32,49.11 402.48,44.44 402.61,49.72 402.77,49.44 403.01,55.80 403.31,51.16 403.66,53.47 404.05,55.23 404.48,56.09 404.71,66.00 404.94,63.47 405.20,61.81 405.45,64.01 405.73,72.70 406.01,68.42 406.31,66.73 406.60,75.28 406.90,75.03 407.20,80.70 407.50,71.55 407.79,77.53 408.08,83.13 408.36,84.85 408.65,87.21 408.93,78.20 409.21,82.65 409.50,81.97 409.80,84.08 410.10,94.76 410.42,91.14 410.75,96.36 411.27,91.61 411.67,96.45 412.18,94.78 413.05,95.10 414.51,96.69 415.75,97.12 416.98,96.10 418.09,96.84 419.19,96.91 420.30,96.37 421.48,96.57 422.66,96.23 423.84,96.30 425.43,96.33 427.01,96.78 429.18,96.60" fill="none" stroke="#333" stroke-width="0.8" stroke-linejoin="round" stroke-dasharray="3 2"/>
<polyline points="450.91,89.56 451.62,88.07 452.13,87.32 452.64,87.59 453.22,87.79 453.81,86.30 454.20,86.08 454.59,85.39 454.98,86.11 455.32,84.95 455.66,83.33 456.00,82.75 456.22,82.66 456.44,82.30 456.65,81.81 456.87,80.05 457.03,79.53 457.20,79.94 457.36,78.70 457.52,77.79 457.69,77.18 457.82,77.86 457.94,75.96 458.07,75.86 458.20,74.83 458.33,74.33 458.46,74.61 458.58,74.24 458.70,72.34 458.82,71.36 458.94,71.79 459.06,70.10 459.18,69.07 459.30,70.23 459.41,68.65 459.53,68.82 459.64,67.37 459.76,67.70 459.87,66.23 459.98,65.00 460.08,64.07 460.19,64.51 460.30,64.05 460.40,63.96 460.51,61.68 460.60,62.08 460.70,60.91 460.80,60.50 460.89,59.12 460.99,58.72 461.09,58.53 461.18,58.67 461.27,56.37 461.36,56.46 461.45,56.42 461.54,56.07 461.63,53.87 461.72,53.09 461.81,54.08 461.90,53.51 461.99,51.89 462.08,50.39 462.17,51.50 462.28,49.74 462.39,50.09 462.50,48.84 462.61,48.56 462.72,46.55 462.84,47.17 462.96,45.41 463.08,45.14 463.19,45.40 463.31,44.73 463.43,42.83 463.55,42.30 463.67,42.05 463.79,41.68 463.91,40.81 464.06,39.61 464.20,39.19 464.35,39.47 464.50,39.14 464.69,36.71 464.88,37.03 465.06,36.70 465.32,34.56 465.58,35.46 466.03,33.41 466.44,34.43 466.81,34.97 466.99,35.70 467.16,35.64 467.34,36.68 467.51,37.81 467.62,38.23 467.73,39.43 467.85,39.74 467.92,40.43 468.00,40.31 468.08,42.21 468.16,42.66 468.22,42.80 468.28,44.51 468.34,45.20 468.40,45.21 468.46,45.31 468.52,46.59 468.58,46.56 468.64,47.30 468.69,48.60 468.75,48.62 468.81,50.02 468.87,50.86 468.92,50.62 468.98,52.51 469.04,52.11 469.08,54.02 469.12,54.71 469.16,54.79 469.21,54.48 469.25,55.99 469.29,56.35 469.33,58.15 469.36,57.17 469.40,59.27 469.44,60.20 469.47,60.33 469.51,61.15 469.55,60.58 469.58,62.82 469.62,62.51 469.66,64.11 469.70,64.70 469.73,63.87 469.78,65.77 469.82,66.71 469.87,65.64 469.91,66.86 469.96,68.33 470.00,67.79 470.06,69.87 470.12,69.24 470.18,70.93 470.24,70.19 470.30,71.52 470.36,72.96 470.45,72.23 470.55,73.03 470.64,74.21 470.73,74.53 470.82,74.65 470.93,75.62 471.03,76.26 471.14,78.49 471.24,78.66 471.35,79.77 471.47,78.96 471.58,80.83 471.70,80.13 471.82,81.60 471.93,82.45 472.09,82.61 472.25,84.35 472.40,84.43 472.56,85.20 472.72,86.40 472.89,85.44 473.05,87.81 473.21,87.68 473.43,87.81 473.66,89.21 473.88,88.74 474.22,90.84 474.56,90.67 474.92,90.72 475.28,92.01 476.08,92.20 476.53,92.20 476.98,93.48 477.58,93.50 477.86,95.01 478.42,95.30 479.14,95.76 479.87,96.12 480.60,96.10 481.33,96.23 482.06,96.25 482.79,96.28 483.46,96.31 484.13,96.37 484.79,96.51 485.46,96.50 486.13,96.55 486.80,96.67 487.47,96.52 488.14,96.57 488.76,96.68 489.37,96.53 489.99,96.53 490.61,96.63 491.22,96.57 491.84,96.64 492.45,96.61 493.07,96.70 493.69,96.71 494.30,96.62 494.92,96.73 495.53,96.70 496.15,96.62 496.76,96.81 497.38,96.64 497.99,96.62 498.61,96.60 499.22,96.73 499.84,96.78 500.45,96.76 501.07,96.66 501.68,96.63 502.30,96.57 502.91,96.72 503.53,96.69 504.18,96.64 504.83,96.70 505.48,96.65 506.13,96.76 506.78,96.71 507.43,96.59 508.08,96.74 508.73,96.53 509.38,96.64 510.04,96.60 510.69,96.56 511.30,96.51 511.91,96.68 512.52,96.50 513.13,96.62 513.74,96.71 514.36,96.52 514.97,96.53 515.58,96.60" fill="none" stroke="#b8b8b8" stroke-width="0.9" stroke-linejoin="round"/>
<polyline points="450.91,89.56 451.62,88.07 452.13,87.32 452.64,87.59 453.22,87.79 453.81,86.30 454.20,86.08 454.59,85.39 454.98,86.11 455.32,84.95 455.66,83.33 456.00,82.75 456.22,82.66 456.44,82.30 456.65,81.81 456.87,80.05 457.03,79.53 457.20,79.94 457.36,78.70 457.52,77.79 457.69,77.18 457.82,77.86 457.94,75.96 458.07,75.86 458.20,74.83 458.33,74.33 458.46,74.61 458.58,74.24 458.70,72.34 458.82,71.36 458.94,71.79 459.06,70.10 459.18,69.07 459.30,70.23 459.41,68.65 459.53,68.82 459.64,67.37 459.76,67.70 459.87,66.23 459.98,65.00 460.08,64.07 460.19,64.51 460.30,64.05 460.40,63.96 460.51,61.68 460.60,62.08 460.70,60.91 460.80,60.50 460.89,59.12 460.99,58.72 461.09,58.53 461.18,58.67 461.27,56.37 461.36,56.46 461.45,56.42 461.54,56.07 461.63,53.87 461.72,53.09 461.81,54.08 461.90,53.51 461.99,51.89 462.08,50.39 462.17,51.50 462.28,49.74 462.39,50.09 462.50,48.84 462.61,48.56 462.72,46.55 462.84,47.17 462.96,45.41 463.08,45.14 463.19,45.40 463.31,44.73 463.43,42.83 463.55,42.30 463.67,42.05 463.79,41.68 463.91,40.81 464.06,39.61 464.20,39.19 464.35,39.47 464.50,39.14 464.69,36.71 464.88,37.03 465.06,36.70 465.32,34.56 465.58,35.46 466.03,33.41 466.44,34.43 466.81,34.97 466.99,35.70 467.16,35.64 467.34,36.68 467.51,37.81 467.62,38.23 467.73,39.43 467.85,39.74 467.92,40.43 468.00,40.31 468.08,42.21 468.16,42.66 468.22,42.80 468.28,44.51 468.34,45.20 468.40,45.21 468.46,45.31 468.52,46.59 468.58,46.56 468.64,47.30 468.69,48.60 468.75,48.62 468.81,50.02 468.87,50.86 468.92,50.62 468.98,52.51 469.04,52.11 469.08,54.02 469.12,54.71 469.16,54.79 469.21,54.48 469.25,55.99 469.29,56.35 469.33,58.15 469.36,57.17 469.40,59.27 469.44,60.20 469.47,60.33 469.51,61.15 469.55,60.58 469.58,62.82 469.62,62.51 469.66,64.11 469.70,64.70 469.73,63.87 469.78,65.77 469.82,66.71 469.87,65.64 469.91,66.86 469.96,68.33 470.00,67.79 470.06,69.87 470.12,69.24 470.18,70.93 470.24,70.19 470.30,71.52 470.36,72.96 470.45,72.23 470.55,73.03 470.64,74.21 470.73,74.53 470.82,74.65 470.93,75.62 471.03,76.26 471.14,78.49 471.24,78.66 471.35,79.77 471.47,78.96 471.58,80.83 471.70,80.13 471.82,81.60 471.93,82.45 472.09,82.61 472.25,84.35 472.40,84.43 472.56,85.20 472.72,86.40 472.89,85.44 473.05,87.81 473.21,87.68 473.43,87.81 473.66,89.21 473.88,88.74 474.22,90.84 474.56,90.67 474.92,90.72 475.28,92.01 476.08,92.20 476.53,92.20 476.98,93.48 477.58,93.50 477.86,95.01 478.42,95.30 479.14,95.76 479.87,96.12 480.60,96.10 481.33,96.23 482.06,96.25 482.79,96.28 483.46,96.31 484.13,96.37 484.79,96.51 485.46,96.50 486.13,96.55 486.80,96.67 487.47,96.52 488.14,96.57 488.76,96.68 489.37,96.53 489.99,96.53 490.61,96.63 491.22,96.57 491.84,96.64 492.45,96.61 493.07,96.70 493.69,96.71 494.30,96.62 494.92,96.73 495.53,96.70 496.15,96.62 496.76,96.81 497.38,96.64 497.99,96.62 498.61,96.60 499.22,96.73 499.84,96.78 500.45,96.76 501.07,96.66 501.68,96.63 502.30,96.57 502.91,96.72 503.53,96.69 504.18,96.64 504.83,96.70 505.48,96.65 506.13,96.76 506.78,96.71 507.43,96.59 508.08,96.74 508.73,96.53 509.38,96.64 510.04,96.60 510.69,96.56 511.30,96.51 511.91,96.68 512.52,96.50 513.13,96.62 513.74,96.71 514.36,96.52 514.97,96.53 515.58,96.60" fill="none" stroke="#7a7a7a" stroke-width="0.9" stroke-linejoin="round" stroke-dasharray="2.5 2.5"/>
<polyline points="450.91,96.64 451.40,96.15 451.89,95.78 452.35,95.55 452.82,94.54 453.28,94.23 453.81,93.66 454.35,92.62 454.89,93.83 455.43,93.12 455.96,92.44 456.50,89.75 456.86,91.77 457.22,90.98 457.58,89.64 457.94,89.98 458.25,88.56 458.57,87.32 458.88,86.40 459.19,86.23 459.49,85.02 459.80,85.29 460.10,85.90 460.40,85.12 460.69,84.89 460.98,83.80 461.27,81.79 461.56,81.97 461.77,81.04 461.99,81.51 462.21,80.14 462.42,78.79 462.64,79.34 462.84,79.70 463.04,76.85 463.24,78.24 463.44,75.04 463.64,75.17 463.83,74.46 464.01,75.33 464.20,75.29 464.38,74.05 464.56,72.14 464.74,73.11 464.91,70.76 465.08,69.79 465.25,71.10 465.42,69.58 465.55,69.16 465.68,68.48 465.81,68.83 465.94,66.70 466.07,67.21 466.20,66.19 466.31,66.08 466.43,64.22 466.55,64.49 466.66,63.44 466.78,62.06 466.90,61.18 467.02,61.73 467.14,59.42 467.26,61.24 467.39,58.27 467.51,57.24 467.61,56.80 467.71,58.59 467.81,56.16 467.91,54.87 468.01,53.86 468.08,53.20 468.16,54.46 468.23,53.59 468.31,53.08 468.39,52.51 468.45,49.83 468.51,50.74 468.57,49.40 468.64,50.10 468.70,49.44 468.78,48.93 468.85,45.73 468.93,47.42 469.00,46.83 469.12,46.18 469.23,42.92 469.34,42.47 469.53,41.47 469.72,40.51 470.11,42.13 470.50,41.64 470.89,40.97 471.28,41.47 471.67,41.01 472.05,40.39 472.44,40.38 472.83,40.87 473.21,43.11 473.60,41.17 473.99,40.80 474.38,40.45 474.77,39.08 475.15,40.58 475.27,41.33 475.40,43.30 475.52,42.92 475.61,43.50 475.70,46.15 475.79,45.49 475.88,47.26 475.96,47.25 476.03,46.17 476.10,48.00 476.17,48.76 476.25,50.45 476.31,49.78 476.37,51.46 476.43,51.56 476.49,51.20 476.55,53.74 476.61,52.03 476.68,54.91 476.76,53.65 476.83,53.84 476.91,55.13 476.98,57.50 477.05,58.83 477.13,56.59 477.20,58.72 477.27,59.40 477.35,61.00 477.42,59.87 477.49,61.51 477.56,61.78 477.63,63.95 477.70,62.94 477.77,65.59 477.83,64.21 477.89,64.60 477.95,66.65 478.01,66.64 478.07,66.07 478.15,68.35 478.23,67.38 478.31,70.19 478.39,70.62 478.47,71.58 478.56,71.75 478.65,71.58 478.74,72.36 478.83,72.99 478.92,75.13 479.02,73.32 479.12,76.34 479.22,74.36 479.32,75.51 479.43,76.29 479.57,78.94 479.71,78.47 479.85,78.84 479.99,81.09 480.13,79.83 480.28,81.21 480.43,82.11 480.58,83.47 480.73,84.10 480.88,84.40 481.03,84.14 481.18,84.70 481.37,84.92 481.57,87.72 481.77,87.91 481.97,88.76 482.17,87.65 482.37,89.07 482.68,90.83 483.00,91.01 483.31,90.28 483.62,91.93 483.91,93.51 484.20,92.55 484.72,93.57 484.72,94.61 484.23,95.55 483.92,95.99 484.47,96.01 485.16,96.10 485.86,96.22 486.55,96.33 487.20,96.43 487.85,96.33 488.50,96.41 489.14,96.39 489.79,96.70 490.44,96.63 491.08,96.43 491.73,96.75 492.39,96.45 493.04,96.55 493.69,96.78 494.34,96.72 494.99,96.70 495.64,96.60 496.30,96.52 496.95,96.68 497.60,96.50 498.25,96.54 498.90,96.60 499.55,96.47 500.20,96.60 500.85,96.74 501.50,96.71 502.15,96.64 502.80,96.69 503.45,96.62 504.10,96.51 504.75,96.67 505.40,96.60 506.04,96.72 506.69,96.77 507.33,96.60 507.97,96.65 508.62,96.71 509.26,96.59 509.91,96.51 510.55,96.69 511.20,96.74 511.82,96.70 512.45,96.68 513.07,96.73 513.70,96.67 514.33,96.65 514.95,96.58 515.58,96.60" fill="none" stroke="#8a8a8a" stroke-width="0.9" stroke-linejoin="round"/>
<polyline points="450.91,96.64 451.40,96.15 451.89,95.78 452.35,95.55 452.82,94.54 453.28,94.23 453.81,93.66 454.35,92.62 454.89,93.83 455.43,93.12 455.96,92.44 456.50,89.75 456.86,91.77 457.22,90.98 457.58,89.64 457.94,89.98 458.25,88.56 458.57,87.32 458.88,86.40 459.19,86.23 459.49,85.02 459.80,85.29 460.10,85.90 460.40,85.12 460.69,84.89 460.98,83.80 461.27,81.79 461.56,81.97 461.77,81.04 461.99,81.51 462.21,80.14 462.42,78.79 462.64,79.34 462.84,79.70 463.04,76.85 463.24,78.24 463.44,75.04 463.64,75.17 463.83,74.46 464.01,75.33 464.20,75.29 464.38,74.05 464.56,72.14 464.74,73.11 464.91,70.76 465.08,69.79 465.25,71.10 465.42,69.58 465.55,69.16 465.68,68.48 465.81,68.83 465.94,66.70 466.07,67.21 466.20,66.19 466.31,66.08 466.43,64.22 466.55,64.49 466.66,63.44 466.78,62.06 466.90,61.18 467.02,61.73 467.14,59.42 467.26,61.24 467.39,58.27 467.51,57.24 467.61,56.80 467.71,58.59 467.81,56.16 467.91,54.87 468.01,53.86 468.08,53.20 468.16,54.46 468.23,53.59 468.31,53.08 468.39,52.51 468.45,49.83 468.51,50.74 468.57,49.40 468.64,50.10 468.70,49.44 468.78,48.93 468.85,45.73 468.93,47.42 469.00,46.83 469.12,46.18 469.23,42.92 469.34,42.47 469.53,41.47 469.72,40.51 470.11,42.13 470.50,41.64 470.89,40.97 471.28,41.47 471.67,41.01 472.05,40.39 472.44,40.38 472.83,40.87 473.21,43.11 473.60,41.17 473.99,40.80 474.38,40.45 474.77,39.08 475.15,40.58 475.27,41.33 475.40,43.30 475.52,42.92 475.61,43.50 475.70,46.15 475.79,45.49 475.88,47.26 475.96,47.25 476.03,46.17 476.10,48.00 476.17,48.76 476.25,50.45 476.31,49.78 476.37,51.46 476.43,51.56 476.49,51.20 476.55,53.74 476.61,52.03 476.68,54.91 476.76,53.65 476.83,53.84 476.91,55.13 476.98,57.50 477.05,58.83 477.13,56.59 477.20,58.72 477.27,59.40 477.35,61.00 477.42,59.87 477.49,61.51 477.56,61.78 477.63,63.95 477.70,62.94 477.77,65.59 477.83,64.21 477.89,64.60 477.95,66.65 478.01,66.64 478.07,66.07 478.15,68.35 478.23,67.38 478.31,70.19 478.39,70.62 478.47,71.58 478.56,71.75 478.65,71.58 478.74,72.36 478.83,72.99 478.92,75.13 479.02,73.32 479.12,76.34 479.22,74.36 479.32,75.51 479.43,76.29 479.57,78.94 479.71,78.47 479.85,78.84 479.99,81.09 480.13,79.83 480.28,81.21 480.43,82.11 480.58,83.47 480.73,84.10 480.88,84.40 481.03,84.14 481.18,84.70 481.37,84.92 481.57,87.72 481.77,87.91 481.97,88.76 482.17,87.65 482.37,89.07 482.68,90.83 483.00,91.01 483.31,90.28 483.62,91.93 483.91,93.51 484.20,92.55 484.72,93.57 484.72,94.61 484.23,95.55 483.92,95.99 484.47,96.01 485.16,96.10 485.86,96.22 486.55,96.33 487.20,96.43 487.85,96.33 488.50,96.41 489.14,96.39 489.79,96.70 490.44,96.63 491.08,96.43 491.73,96.75 492.39,96.45 493.04,96.55 493.69,96.78 494.34,96.72 494.99,96.70 495.64,96.60 496.30,96.52 496.95,96.68 497.60,96.50 498.25,96.54 498.90,96.60 499.55,96.47 500.20,96.60 500.85,96.74 501.50,96.71 502.15,96.64 502.80,96.69 503.45,96.62 504.10,96.51 504.75,96.67 505.40,96.60 506.04,96.72 506.69,96.77 507.33,96.60 507.97,96.65 508.62,96.71 509.26,96.59 509.91,96.51 510.55,96.69 511.20,96.74 511.82,96.70 512.45,96.68 513.07,96.73 513.70,96.67 514.33,96.65 514.95,96.58 515.58,96.60" fill="none" stroke="#333" stroke-width="0.9" stroke-linejoin="round" stroke-dasharray="3 2"/>
<polyline points="276.81,174.36 277.39,174.21 278.20,173.85 279.15,173.60 280.11,173.34 280.99,172.92 281.78,172.55 282.57,172.09 283.33,171.79 284.07,171.11 284.41,170.64 284.75,169.83 284.97,169.51 285.18,169.18 285.39,167.85 285.59,167.61 285.79,167.01 285.99,165.91 286.13,165.38 286.27,165.23 286.41,163.66 286.55,163.54 286.68,162.43 286.81,162.33 286.95,161.76 287.08,160.62 287.19,159.55 287.29,159.38 287.40,158.70 287.50,158.23 287.61,157.38 287.69,156.86 287.78,156.41 287.86,155.46 287.95,154.71 288.03,154.60 288.12,153.22 288.19,153.06 288.26,152.13 288.33,151.86 288.40,150.58 288.48,150.80 288.55,149.53 288.62,148.59 288.69,148.14 288.75,147.59 288.82,146.54 288.89,146.27 288.96,145.60 289.03,145.21 289.09,144.19 289.16,143.46 289.22,142.77 289.29,142.64 289.35,142.20 289.41,141.14 289.48,140.18 289.54,140.12 289.61,139.06 289.68,138.22 289.74,137.48 289.81,137.47 289.88,136.85 289.95,136.02 290.02,135.19 290.10,134.63 290.17,133.63 290.24,133.71 290.32,132.44 290.40,131.99 290.48,131.43 290.56,130.70 290.65,129.61 290.72,128.78 290.80,128.37 290.87,127.29 290.95,127.33 291.02,126.25 291.09,126.14 291.15,124.95 291.22,124.45 291.31,123.57 291.39,122.98 291.48,121.98 291.55,121.01 291.62,120.94 291.70,119.71 291.74,119.07 291.79,118.53 291.84,118.10 291.88,117.45 291.94,116.96 291.99,116.29 292.05,115.29 292.13,115.14 292.21,114.35 292.39,113.13 292.57,114.69 292.66,115.65 292.74,116.41 292.79,116.38 292.83,117.68 292.88,118.09 292.93,118.08 292.98,118.78 293.03,120.42 293.09,120.83 293.14,121.13 293.21,121.70 293.28,122.46 293.34,123.28 293.41,124.54 293.48,124.73 293.55,125.16 293.62,126.53 293.69,127.03 293.76,127.03 293.84,128.45 293.92,128.87 294.00,129.74 294.08,130.33 294.16,131.26 294.23,131.77 294.31,132.44 294.38,132.42 294.45,133.53 294.53,133.99 294.60,134.82 294.67,135.13 294.74,136.20 294.82,136.49 294.89,136.82 294.96,137.40 295.04,137.93 295.12,138.98 295.20,139.25 295.28,140.36 295.37,140.74 295.45,141.79 295.52,142.48 295.60,143.19 295.67,144.19 295.75,144.02 295.83,145.53 295.90,145.83 295.97,146.61 296.04,147.39 296.12,148.24 296.19,148.46 296.26,149.16 296.33,150.36 296.41,150.13 296.48,151.35 296.55,152.01 296.62,152.02 296.69,153.21 296.77,153.90 296.84,154.76 296.91,154.78 297.00,156.11 297.10,156.32 297.19,156.98 297.28,158.07 297.41,158.00 297.53,159.47 297.66,160.16 297.79,160.56 297.91,161.78 298.04,161.97 298.17,162.69 298.30,163.35 298.43,164.20 298.62,164.45 298.82,165.49 299.02,166.20 299.22,167.07 299.41,167.98 299.61,168.08 300.00,169.66 300.40,170.11 300.81,170.97 301.25,171.53 301.72,172.34 302.21,173.07 302.72,173.39 303.25,173.80 303.80,174.04 303.87,174.33 303.47,174.53 303.33,174.71 304.21,174.83 304.87,174.87 305.53,174.80 306.19,174.90 306.85,174.95 307.46,174.91 308.07,174.86 308.67,174.89 309.28,174.86 309.89,174.89 310.49,174.99 311.10,174.95 311.71,174.97 312.31,174.99 312.96,175.00 313.61,174.97 314.26,174.97 314.91,174.97 315.55,174.98 316.20,174.97 316.85,174.98 317.50,174.92 318.15,174.98 318.80,174.95 319.44,174.99 320.09,174.91 320.70,174.92 321.31,174.90 321.92,174.99 322.52,175.00 323.13,174.97 323.74,174.94 324.35,174.99 324.96,174.98 325.57,174.95 326.17,174.92 326.78,174.92 327.39,174.93 328.00,174.92 328.61,174.93 329.24,174.95 329.88,174.99 330.52,174.88 331.16,174.94 331.80,174.87 332.43,174.88 333.07,174.96 333.71,174.93 334.35,174.97 334.99,174.91 335.63,174.86 336.26,174.90 336.92,174.92 337.57,174.96 338.22,174.97 338.87,174.90 339.52,174.89 340.17,174.86 340.83,174.92 341.48,174.90" fill="none" stroke="#b8b8b8" stroke-width="0.9" stroke-linejoin="round"/>
<polyline points="276.81,174.36 277.39,174.21 278.20,173.85 279.15,173.60 280.11,173.34 280.99,172.92 281.78,172.55 282.57,172.09 283.33,171.79 284.07,171.11 284.41,170.64 284.75,169.83 284.97,169.51 285.18,169.18 285.39,167.85 285.59,167.61 285.79,167.01 285.99,165.91 286.13,165.38 286.27,165.23 286.41,163.66 286.55,163.54 286.68,162.43 286.81,162.33 286.95,161.76 287.08,160.62 287.19,159.55 287.29,159.38 287.40,158.70 287.50,158.23 287.61,157.38 287.69,156.86 287.78,156.41 287.86,155.46 287.95,154.71 288.03,154.60 288.12,153.22 288.19,153.06 288.26,152.13 288.33,151.86 288.40,150.58 288.48,150.80 288.55,149.53 288.62,148.59 288.69,148.14 288.75,147.59 288.82,146.54 288.89,146.27 288.96,145.60 289.03,145.21 289.09,144.19 289.16,143.46 289.22,142.77 289.29,142.64 289.35,142.20 289.41,141.14 289.48,140.18 289.54,140.12 289.61,139.06 289.68,138.22 289.74,137.48 289.81,137.47 289.88,136.85 289.95,136.02 290.02,135.19 290.10,134.63 290.17,133.63 290.24,133.71 290.32,132.44 290.40,131.99 290.48,131.43 290.56,130.70 290.65,129.61 290.72,128.78 290.80,128.37 290.87,127.29 290.95,127.33 291.02,126.25 291.09,126.14 291.15,124.95 291.22,124.45 291.31,123.57 291.39,122.98 291.48,121.98 291.55,121.01 291.62,120.94 291.70,119.71 291.74,119.07 291.79,118.53 291.84,118.10 291.88,117.45 291.94,116.96 291.99,116.29 292.05,115.29 292.13,115.14 292.21,114.35 292.39,113.13 292.57,114.69 292.66,115.65 292.74,116.41 292.79,116.38 292.83,117.68 292.88,118.09 292.93,118.08 292.98,118.78 293.03,120.42 293.09,120.83 293.14,121.13 293.21,121.70 293.28,122.46 293.34,123.28 293.41,124.54 293.48,124.73 293.55,125.16 293.62,126.53 293.69,127.03 293.76,127.03 293.84,128.45 293.92,128.87 294.00,129.74 294.08,130.33 294.16,131.26 294.23,131.77 294.31,132.44 294.38,132.42 294.45,133.53 294.53,133.99 294.60,134.82 294.67,135.13 294.74,136.20 294.82,136.49 294.89,136.82 294.96,137.40 295.04,137.93 295.12,138.98 295.20,139.25 295.28,140.36 295.37,140.74 295.45,141.79 295.52,142.48 295.60,143.19 295.67,144.19 295.75,144.02 295.83,145.53 295.90,145.83 295.97,146.61 296.04,147.39 296.12,148.24 296.19,148.46 296.26,149.16 296.33,150.36 296.41,150.13 296.48,151.35 296.55,152.01 296.62,152.02 296.69,153.21 296.77,153.90 296.84,154.76 296.91,154.78 297.00,156.11 297.10,156.32 297.19,156.98 297.28,158.07 297.41,158.00 297.53,159.47 297.66,160.16 297.79,160.56 297.91,161.78 298.04,161.97 298.17,162.69 298.30,163.35 298.43,164.20 298.62,164.45 298.82,165.49 299.02,166.20 299.22,167.07 299.41,167.98 299.61,168.08 300.00,169.66 300.40,170.11 300.81,170.97 301.25,171.53 301.72,172.34 302.21,173.07 302.72,173.39 303.25,173.80 303.80,174.04 303.87,174.33 303.47,174.53 303.33,174.71 304.21,174.83 304.87,174.87 305.53,174.80 306.19,174.90 306.85,174.95 307.46,174.91 308.07,174.86 308.67,174.89 309.28,174.86 309.89,174.89 310.49,174.99 311.10,174.95 311.71,174.97 312.31,174.99 312.96,175.00 313.61,174.97 314.26,174.97 314.91,174.97 315.55,174.98 316.20,174.97 316.85,174.98 317.50,174.92 318.15,174.98 318.80,174.95 319.44,174.99 320.09,174.91 320.70,174.92 321.31,174.90 321.92,174.99 322.52,175.00 323.13,174.97 323.74,174.94 324.35,174.99 324.96,174.98 325.57,174.95 326.17,174.92 326.78,174.92 327.39,174.93 328.00,174.92 328.61,174.93 329.24,174.95 329.88,174.99 330.52,174.88 331.16,174.94 331.80,174.87 332.43,174.88 333.07,174.96 333.71,174.93 334.35,174.97 334.99,174.91 335.63,174.86 336.26,174.90 336.92,174.92 337.57,174.96 338.22,174.97 338.87,174.90 339.52,174.89 340.17,174.86 340.83,174.92 341.48,174.90" fill="none" stroke="#7a7a7a" stroke-width="0.9" stroke-linejoin="round" stroke-dasharray="2.5 2.5"/>
<polyline points="278.34,174.87 278.94,174.86 279.54,174.85 280.14,174.84 280.74,174.90 281.34,174.85 281.95,174.93 282.60,174.84 283.26,174.91 283.91,174.84 284.57,174.83 285.23,174.89 285.88,174.85 286.54,174.89 287.20,174.84 287.85,174.82 288.51,174.89 289.16,174.88 289.82,174.89 290.47,174.87 291.13,174.80 291.78,174.85 292.44,174.86 293.10,174.83 293.71,174.86 294.33,174.79 294.95,174.85 295.57,174.82 296.18,174.74 296.80,174.73 297.42,174.78 298.04,174.79 298.66,174.71 299.26,174.71 299.86,174.73 300.47,174.65 301.07,174.69 301.67,174.63 302.28,174.57 302.88,174.58 303.55,174.54 304.22,174.46 304.90,174.42 305.57,174.31 306.17,174.28 306.77,174.13 307.38,174.06 308.00,173.89 308.62,173.67 309.60,173.24 310.62,172.92 311.64,172.62 312.46,172.24 313.14,171.72 313.76,170.88 314.07,170.15 314.39,170.30 314.71,169.33 315.03,168.67 315.24,167.66 315.44,167.27 315.64,166.95 315.83,166.13 316.02,165.23 316.21,164.29 316.34,163.78 316.48,163.54 316.61,162.53 316.74,162.17 316.87,161.43 316.99,160.99 317.12,160.25 317.24,159.16 317.33,158.33 317.42,157.93 317.51,157.46 317.60,156.98 317.69,156.56 317.77,155.94 317.84,154.58 317.92,154.54 318.00,153.84 318.08,153.21 318.14,152.37 318.20,151.53 318.26,151.38 318.32,150.74 318.38,150.04 318.45,149.62 318.51,148.54 318.56,147.71 318.62,147.46 318.68,147.03 318.74,145.93 318.80,145.74 318.87,145.27 318.93,144.08 318.99,143.76 319.05,143.19 319.11,142.40 319.18,141.57 319.24,140.94 319.30,140.67 319.37,140.04 319.43,139.12 319.50,138.16 319.56,138.07 319.62,137.43 319.67,136.38 319.73,136.05 319.78,135.69 319.84,135.07 319.89,134.16 319.95,133.51 320.00,133.00 320.06,132.07 320.12,131.46 320.17,130.85 320.23,130.65 320.28,129.78 320.34,129.33 320.40,128.56 320.47,128.00 320.53,127.07 320.59,126.34 320.66,126.46 320.72,125.31 320.80,124.48 320.88,124.27 320.96,123.77 321.03,122.64 321.11,122.37 321.24,121.41 321.37,120.79 321.50,119.63 321.69,118.82 321.89,118.75 322.08,118.05 322.28,117.14 322.66,116.29 323.05,115.25 323.43,114.90 323.81,113.98 324.19,114.05 324.55,114.01 324.88,114.77 325.02,115.60 325.17,115.76 325.25,116.27 325.33,117.09 325.42,117.75 325.47,118.30 325.53,118.91 325.59,119.94 325.65,120.82 325.72,121.19 325.78,122.28 325.84,122.95 325.91,122.97 325.98,124.12 326.05,124.69 326.13,125.20 326.20,126.60 326.27,126.67 326.34,127.54 326.41,128.23 326.48,129.11 326.55,129.51 326.63,129.98 326.70,130.72 326.78,131.18 326.86,132.52 326.93,133.23 327.00,133.22 327.07,133.68 327.13,134.47 327.20,135.15 327.27,136.20 327.33,136.81 327.40,137.37 327.47,137.35 327.54,138.56 327.60,139.11 327.67,139.68 327.74,140.57 327.81,140.42 327.87,141.09 327.94,142.18 328.00,142.93 328.07,143.31 328.14,143.61 328.20,144.45 328.26,145.18 328.33,145.26 328.39,146.03 328.45,146.58 328.52,147.07 328.58,147.98 328.64,148.34 328.70,149.02 328.76,149.56 328.82,150.60 328.89,150.69 328.95,151.86 329.01,152.05 329.07,152.53 329.14,153.85 329.20,153.90 329.26,155.08 329.34,155.71 329.42,156.41 329.50,156.50 329.57,157.43 329.65,157.83 329.74,159.11 329.82,159.65 329.90,160.09 329.99,160.56 330.07,161.08 330.18,162.13 330.30,162.52 330.41,163.31 330.52,163.60 330.64,164.26 330.76,164.74 330.88,165.87 330.99,166.34 331.16,166.73 331.32,168.02 331.48,168.25 331.65,168.98 331.82,169.38 331.99,170.10 332.25,171.24 332.52,171.70 332.76,172.20 333.01,172.90 333.47,173.59 333.97,174.15 334.58,174.37 335.37,174.74 336.48,174.87 337.17,174.98 337.87,175.00 338.59,174.94 339.32,174.96 339.96,174.92 340.59,174.89 341.48,174.90" fill="none" stroke="#8a8a8a" stroke-width="0.9" stroke-linejoin="round"/>
<polyline points="278.34,174.87 278.94,174.86 279.54,174.85 280.14,174.84 280.74,174.90 281.34,174.85 281.95,174.93 282.60,174.84 283.26,174.91 283.91,174.84 284.57,174.83 285.23,174.89 285.88,174.85 286.54,174.89 287.20,174.84 287.85,174.82 288.51,174.89 289.16,174.88 289.82,174.89 290.47,174.87 291.13,174.80 291.78,174.85 292.44,174.86 293.10,174.83 293.71,174.86 294.33,174.79 294.95,174.85 295.57,174.82 296.18,174.74 296.80,174.73 297.42,174.78 298.04,174.79 298.66,174.71 299.26,174.71 299.86,174.73 300.47,174.65 301.07,174.69 301.67,174.63 302.28,174.57 302.88,174.58 303.55,174.54 304.22,174.46 304.90,174.42 305.57,174.31 306.17,174.28 306.77,174.13 307.38,174.06 308.00,173.89 308.62,173.67 309.60,173.24 310.62,172.92 311.64,172.62 312.46,172.24 313.14,171.72 313.76,170.88 314.07,170.15 314.39,170.30 314.71,169.33 315.03,168.67 315.24,167.66 315.44,167.27 315.64,166.95 315.83,166.13 316.02,165.23 316.21,164.29 316.34,163.78 316.48,163.54 316.61,162.53 316.74,162.17 316.87,161.43 316.99,160.99 317.12,160.25 317.24,159.16 317.33,158.33 317.42,157.93 317.51,157.46 317.60,156.98 317.69,156.56 317.77,155.94 317.84,154.58 317.92,154.54 318.00,153.84 318.08,153.21 318.14,152.37 318.20,151.53 318.26,151.38 318.32,150.74 318.38,150.04 318.45,149.62 318.51,148.54 318.56,147.71 318.62,147.46 318.68,147.03 318.74,145.93 318.80,145.74 318.87,145.27 318.93,144.08 318.99,143.76 319.05,143.19 319.11,142.40 319.18,141.57 319.24,140.94 319.30,140.67 319.37,140.04 319.43,139.12 319.50,138.16 319.56,138.07 319.62,137.43 319.67,136.38 319.73,136.05 319.78,135.69 319.84,135.07 319.89,134.16 319.95,133.51 320.00,133.00 320.06,132.07 320.12,131.46 320.17,130.85 320.23,130.65 320.28,129.78 320.34,129.33 320.40,128.56 320.47,128.00 320.53,127.07 320.59,126.34 320.66,126.46 320.72,125.31 320.80,124.48 320.88,124.27 320.96,123.77 321.03,122.64 321.11,122.37 321.24,121.41 321.37,120.79 321.50,119.63 321.69,118.82 321.89,118.75 322.08,118.05 322.28,117.14 322.66,116.29 323.05,115.25 323.43,114.90 323.81,113.98 324.19,114.05 324.55,114.01 324.88,114.77 325.02,115.60 325.17,115.76 325.25,116.27 325.33,117.09 325.42,117.75 325.47,118.30 325.53,118.91 325.59,119.94 325.65,120.82 325.72,121.19 325.78,122.28 325.84,122.95 325.91,122.97 325.98,124.12 326.05,124.69 326.13,125.20 326.20,126.60 326.27,126.67 326.34,127.54 326.41,128.23 326.48,129.11 326.55,129.51 326.63,129.98 326.70,130.72 326.78,131.18 326.86,132.52 326.93,133.23 327.00,133.22 327.07,133.68 327.13,134.47 327.20,135.15 327.27,136.20 327.33,136.81 327.40,137.37 327.47,137.35 327.54,138.56 327.60,139.11 327.67,139.68 327.74,140.57 327.81,140.42 327.87,141.09 327.94,142.18 328.00,142.93 328.07,143.31 328.14,143.61 328.20,144.45 328.26,145.18 328.33,145.26 328.39,146.03 328.45,146.58 328.52,147.07 328.58,147.98 328.64,148.34 328.70,149.02 328.76,149.56 328.82,150.60 328.89,150.69 328.95,151.86 329.01,152.05 329.07,152.53 329.14,153.85 329.20,153.90 329.26,155.08 329.34,155.71 329.42,156.41 329.50,156.50 329.57,157.43 329.65,157.83 329.74,159.11 329.82,159.65 329.90,160.09 329.99,160.56 330.07,161.08 330.18,162.13 330.30,162.52 330.41,163.31 330.52,163.60 330.64,164.26 330.76,164.74 330.88,165.87 330.99,166.34 331.16,166.73 331.32,168.02 331.48,168.25 331.65,168.98 331.82,169.38 331.99,170.10 332.25,171.24 332.52,171.70 332.76,172.20 333.01,172.90 333.47,173.59 333.97,174.15 334.58,174.37 335.37,174.74 336.48,174.87 337.17,174.98 337.87,175.00 338.59,174.94 339.32,174.96 339.96,174.92 340.59,174.89 341.48,174.90" fill="none" stroke="#333" stroke-width="0.9" stroke-linejoin="round" stroke-dasharray="3 2"/>
<polyline points="364.51,174.35 365.21,174.25 366.20,174.23 367.34,174.04 367.93,173.84 368.52,173.46 369.06,173.13 369.60,172.96 370.11,172.16 370.61,171.98 371.12,171.20 371.63,171.08 372.13,169.68 372.63,169.61 372.94,168.63 373.25,167.86 373.56,167.14 373.77,167.21 373.98,166.36 374.18,165.49 374.39,165.09 374.53,164.85 374.67,163.66 374.81,163.32 374.96,162.34 375.10,161.74 375.20,161.58 375.30,160.90 375.41,159.85 375.51,159.12 375.61,158.50 375.71,158.28 375.79,157.59 375.87,156.81 375.95,156.16 376.03,155.89 376.10,155.37 376.18,154.85 376.26,154.07 376.33,153.15 376.40,152.43 376.47,152.35 376.55,151.48 376.62,151.12 376.69,149.98 376.76,149.97 376.84,148.91 376.92,148.64 377.00,147.97 377.08,146.99 377.16,145.93 377.24,145.97 377.32,144.95 377.39,144.61 377.47,143.45 377.55,142.72 377.63,142.58 377.70,141.54 377.77,140.69 377.84,140.18 377.92,139.67 377.99,138.52 378.06,138.25 378.13,137.50 378.19,136.89 378.26,135.90 378.32,135.70 378.39,135.11 378.45,134.47 378.52,133.36 378.58,133.04 378.64,132.14 378.69,131.80 378.75,130.61 378.81,130.62 378.87,130.05 378.93,128.99 378.99,128.31 379.05,127.64 379.11,126.96 379.18,125.85 379.23,125.94 379.27,124.67 379.32,123.96 379.37,123.22 379.42,122.67 379.46,122.44 379.50,121.13 379.54,120.51 379.57,120.31 379.61,119.23 379.65,118.34 379.69,118.06 379.73,117.30 379.77,116.51 379.82,115.95 379.87,114.77 379.92,114.68 380.09,113.75 380.28,114.02 380.34,114.78 380.39,115.78 380.45,116.49 380.50,117.06 380.55,117.68 380.59,118.65 380.64,119.18 380.68,120.22 380.73,121.12 380.77,121.23 380.81,122.25 380.85,123.06 380.90,123.27 380.96,124.48 381.01,125.24 381.06,125.47 381.11,126.17 381.17,127.20 381.24,127.64 381.30,128.22 381.36,129.35 381.42,129.90 381.48,130.19 381.54,130.75 381.60,131.46 381.66,132.18 381.72,133.25 381.78,133.75 381.84,134.51 381.91,135.11 381.97,135.80 382.04,135.84 382.10,136.89 382.16,137.91 382.23,138.58 382.30,138.71 382.36,139.53 382.43,140.38 382.49,140.85 382.56,141.67 382.62,141.97 382.69,142.92 382.75,143.65 382.81,143.92 382.88,144.68 382.94,146.01 383.01,146.54 383.07,147.36 383.13,147.80 383.20,148.62 383.26,149.36 383.32,150.05 383.38,149.98 383.43,151.09 383.49,151.40 383.54,152.35 383.60,152.64 383.66,153.47 383.71,154.39 383.77,154.75 383.82,155.06 383.88,155.87 383.93,156.41 383.99,157.42 384.04,157.49 384.10,158.11 384.16,159.02 384.23,159.23 384.29,160.24 384.36,161.16 384.42,161.44 384.49,161.88 384.57,162.66 384.65,163.33 384.72,163.63 384.80,164.23 384.88,164.85 385.01,165.72 385.14,166.55 385.27,167.19 385.46,167.93 385.65,168.58 386.04,170.05 386.43,171.13 386.81,171.84 386.58,172.68 385.74,173.39 385.20,173.85 385.90,174.37 386.61,174.43 387.32,174.52 388.04,174.62 388.75,174.69 389.38,174.70 390.00,174.71 390.63,174.73 391.26,174.78 391.88,174.79 392.51,174.83 393.14,174.80 393.76,174.85 394.39,174.92 395.02,174.88 395.62,174.92 396.23,174.92 396.83,174.90 397.44,174.98 398.04,174.91 398.65,174.96 399.25,174.91 399.86,174.91 400.46,174.99 401.07,174.95 401.67,174.92 402.27,174.95 402.88,174.96 403.48,175.00 404.09,174.94 404.71,174.95 405.34,175.02 405.96,175.00 406.58,174.94 407.21,174.96 407.83,174.96 408.46,174.99 409.08,174.98 409.70,175.00 410.33,175.00 410.95,174.97 411.57,174.99 412.20,174.99 412.82,174.99 413.45,174.96 414.07,174.99 414.71,174.98 415.35,174.99 416.00,174.92 416.64,174.98 417.28,174.90 417.92,174.97 418.57,174.95 419.21,174.93 419.85,174.98 420.49,174.94 421.14,174.92 421.78,174.95 422.42,174.95 423.06,174.93 423.68,174.90 424.29,174.91 424.90,174.91 425.51,174.93 426.12,174.89 426.73,174.90 427.34,174.91 427.96,174.89 428.57,174.88 429.18,174.90" fill="none" stroke="#b8b8b8" stroke-width="0.9" stroke-linejoin="round"/>
<polyline points="364.51,174.35 365.21,174.25 366.20,174.23 367.34,174.04 367.93,173.84 368.52,173.46 369.06,173.13 369.60,172.96 370.11,172.16 370.61,171.98 371.12,171.20 371.63,171.08 372.13,169.68 372.63,169.61 372.94,168.63 373.25,167.86 373.56,167.14 373.77,167.21 373.98,166.36 374.18,165.49 374.39,165.09 374.53,164.85 374.67,163.66 374.81,163.32 374.96,162.34 375.10,161.74 375.20,161.58 375.30,160.90 375.41,159.85 375.51,159.12 375.61,158.50 375.71,158.28 375.79,157.59 375.87,156.81 375.95,156.16 376.03,155.89 376.10,155.37 376.18,154.85 376.26,154.07 376.33,153.15 376.40,152.43 376.47,152.35 376.55,151.48 376.62,151.12 376.69,149.98 376.76,149.97 376.84,148.91 376.92,148.64 377.00,147.97 377.08,146.99 377.16,145.93 377.24,145.97 377.32,144.95 377.39,144.61 377.47,143.45 377.55,142.72 377.63,142.58 377.70,141.54 377.77,140.69 377.84,140.18 377.92,139.67 377.99,138.52 378.06,138.25 378.13,137.50 378.19,136.89 378.26,135.90 378.32,135.70 378.39,135.11 378.45,134.47 378.52,133.36 378.58,133.04 378.64,132.14 378.69,131.80 378.75,130.61 378.81,130.62 378.87,130.05 378.93,128.99 378.99,128.31 379.05,127.64 379.11,126.96 379.18,125.85 379.23,125.94 379.27,124.67 379.32,123.96 379.37,123.22 379.42,122.67 379.46,122.44 379.50,121.13 379.54,120.51 379.57,120.31 379.61,119.23 379.65,118.34 379.69,118.06 379.73,117.30 379.77,116.51 379.82,115.95 379.87,114.77 379.92,114.68 380.09,113.75 380.28,114.02 380.34,114.78 380.39,115.78 380.45,116.49 380.50,117.06 380.55,117.68 380.59,118.65 380.64,119.18 380.68,120.22 380.73,121.12 380.77,121.23 380.81,122.25 380.85,123.06 380.90,123.27 380.96,124.48 381.01,125.24 381.06,125.47 381.11,126.17 381.17,127.20 381.24,127.64 381.30,128.22 381.36,129.35 381.42,129.90 381.48,130.19 381.54,130.75 381.60,131.46 381.66,132.18 381.72,133.25 381.78,133.75 381.84,134.51 381.91,135.11 381.97,135.80 382.04,135.84 382.10,136.89 382.16,137.91 382.23,138.58 382.30,138.71 382.36,139.53 382.43,140.38 382.49,140.85 382.56,141.67 382.62,141.97 382.69,142.92 382.75,143.65 382.81,143.92 382.88,144.68 382.94,146.01 383.01,146.54 383.07,147.36 383.13,147.80 383.20,148.62 383.26,149.36 383.32,150.05 383.38,149.98 383.43,151.09 383.49,151.40 383.54,152.35 383.60,152.64 383.66,153.47 383.71,154.39 383.77,154.75 383.82,155.06 383.88,155.87 383.93,156.41 383.99,157.42 384.04,157.49 384.10,158.11 384.16,159.02 384.23,159.23 384.29,160.24 384.36,161.16 384.42,161.44 384.49,161.88 384.57,162.66 384.65,163.33 384.72,163.63 384.80,164.23 384.88,164.85 385.01,165.72 385.14,166.55 385.27,167.19 385.46,167.93 385.65,168.58 386.04,170.05 386.43,171.13 386.81,171.84 386.58,172.68 385.74,173.39 385.20,173.85 385.90,174.37 386.61,174.43 387.32,174.52 388.04,174.62 388.75,174.69 389.38,174.70 390.00,174.71 390.63,174.73 391.26,174.78 391.88,174.79 392.51,174.83 393.14,174.80 393.76,174.85 394.39,174.92 395.02,174.88 395.62,174.92 396.23,174.92 396.83,174.90 397.44,174.98 398.04,174.91 398.65,174.96 399.25,174.91 399.86,174.91 400.46,174.99 401.07,174.95 401.67,174.92 402.27,174.95 402.88,174.96 403.48,175.00 404.09,174.94 404.71,174.95 405.34,175.02 405.96,175.00 406.58,174.94 407.21,174.96 407.83,174.96 408.46,174.99 409.08,174.98 409.70,175.00 410.33,175.00 410.95,174.97 411.57,174.99 412.20,174.99 412.82,174.99 413.45,174.96 414.07,174.99 414.71,174.98 415.35,174.99 416.00,174.92 416.64,174.98 417.28,174.90 417.92,174.97 418.57,174.95 419.21,174.93 419.85,174.98 420.49,174.94 421.14,174.92 421.78,174.95 422.42,174.95 423.06,174.93 423.68,174.90 424.29,174.91 424.90,174.91 425.51,174.93 426.12,174.89 426.73,174.90 427.34,174.91 427.96,174.89 428.57,174.88 429.18,174.90" fill="none" stroke="#7a7a7a" stroke-width="0.9" stroke-linejoin="round" stroke-dasharray="2.5 2.5"/>
<polyline points="365.02,174.93 365.70,174.93 366.37,174.89 367.05,174.88 367.78,174.85 368.51,174.86 369.24,174.84 369.98,174.87 370.64,174.87 371.31,174.81 371.97,174.89 372.64,174.82 373.30,174.87 373.95,174.85 374.60,174.84 375.24,174.75 375.89,174.76 376.54,174.79 377.20,174.66 377.86,174.63 378.52,174.64 379.18,174.59 379.83,174.55 380.49,174.47 381.15,174.37 381.97,174.30 382.79,174.09 383.50,173.92 384.21,173.79 384.86,173.51 385.51,173.29 386.16,173.11 386.81,172.77 387.45,172.74 388.09,172.36 388.69,172.01 389.28,171.50 389.84,171.30 390.39,170.97 390.93,170.64 391.47,170.22 391.99,169.88 392.52,169.36 392.86,168.48 393.20,167.94 393.55,167.59 393.88,167.30 394.21,166.20 394.54,165.76 394.86,165.33 395.18,164.16 395.50,163.62 395.81,163.43 396.11,162.59 396.42,161.63 396.64,160.74 396.86,160.79 397.08,160.06 397.30,159.59 397.52,159.12 397.73,158.42 397.94,157.43 398.16,156.61 398.36,156.06 398.57,155.57 398.78,154.90 398.99,153.99 399.18,153.29 399.38,152.95 399.57,152.23 399.77,151.33 399.95,151.12 400.14,150.11 400.32,148.92 400.50,148.49 400.67,148.06 400.84,146.95 401.01,146.52 401.17,145.24 401.29,144.87 401.41,144.68 401.53,143.86 401.64,143.30 401.76,142.31 401.86,141.89 401.97,141.28 402.07,140.40 402.17,140.04 402.28,139.29 402.37,139.01 402.46,138.01 402.56,137.22 402.65,136.33 402.74,135.70 402.83,135.55 402.92,134.41 403.01,133.78 403.10,133.21 403.18,132.86 403.29,132.41 403.40,131.55 403.51,131.01 403.62,129.72 403.72,129.09 403.83,129.11 403.94,128.16 404.04,127.88 404.18,126.89 404.31,126.04 404.45,125.42 404.58,124.66 404.70,124.68 404.83,123.79 405.02,122.74 405.20,121.95 405.38,121.06 405.55,119.97 405.66,120.03 405.77,119.17 405.88,118.87 405.98,117.81 406.08,117.31 406.18,116.37 406.33,115.36 406.47,115.22 406.77,114.05 407.08,113.43 407.39,114.81 407.50,115.33 407.60,115.52 407.70,116.35 407.78,117.23 407.87,117.46 407.95,118.42 408.03,118.45 408.12,119.26 408.21,120.21 408.30,120.50 408.39,121.26 408.49,122.42 408.60,122.82 408.71,123.78 408.81,124.06 408.91,124.62 409.01,125.38 409.11,125.85 409.21,127.10 409.31,127.17 409.42,128.07 409.53,128.41 409.65,129.43 409.76,130.00 409.87,130.71 409.97,131.05 410.07,131.71 410.17,132.88 410.27,133.11 410.37,133.64 410.47,134.21 410.57,134.90 410.67,135.49 410.77,135.95 410.87,137.07 410.97,137.44 411.07,137.91 411.17,138.95 411.27,139.06 411.37,139.81 411.47,140.86 411.56,140.90 411.66,141.75 411.76,142.67 411.85,143.25 411.95,143.34 412.04,144.09 412.14,144.99 412.23,145.32 412.33,146.41 412.42,146.43 412.52,147.64 412.61,147.91 412.71,148.31 412.80,149.11 412.90,149.47 412.99,150.54 413.09,150.79 413.18,151.92 413.28,152.28 413.37,152.72 413.49,153.31 413.60,154.29 413.71,154.66 413.83,155.88 413.94,155.97 414.06,156.90 414.17,157.53 414.29,157.93 414.40,158.94 414.51,159.24 414.66,160.13 414.80,160.72 414.94,161.18 415.08,161.90 415.23,162.25 415.37,162.91 415.51,164.04 415.65,164.21 415.84,165.18 416.03,165.43 416.22,166.49 416.41,166.94 416.60,167.67 416.79,168.12 417.08,168.76 417.36,169.77 417.60,170.42 417.84,171.09 418.02,172.00 418.21,172.37 418.64,173.36 419.25,174.19 420.22,174.72 420.99,174.90 421.76,175.06 422.44,175.02 423.11,175.06 423.79,175.07 424.51,175.11 425.23,175.09 425.95,175.04 426.58,175.01 427.22,175.00 427.86,174.96 428.52,174.90 429.18,174.90" fill="none" stroke="#8a8a8a" stroke-width="0.9" stroke-linejoin="round"/>
<polyline points="365.02,174.93 365.70,174.93 366.37,174.89 367.05,174.88 367.78,174.85 368.51,174.86 369.24,174.84 369.98,174.87 370.64,174.87 371.31,174.81 371.97,174.89 372.64,174.82 373.30,174.87 373.95,174.85 374.60,174.84 375.24,174.75 375.89,174.76 376.54,174.79 377.20,174.66 377.86,174.63 378.52,174.64 379.18,174.59 379.83,174.55 380.49,174.47 381.15,174.37 381.97,174.30 382.79,174.09 383.50,173.92 384.21,173.79 384.86,173.51 385.51,173.29 386.16,173.11 386.81,172.77 387.45,172.74 388.09,172.36 388.69,172.01 389.28,171.50 389.84,171.30 390.39,170.97 390.93,170.64 391.47,170.22 391.99,169.88 392.52,169.36 392.86,168.48 393.20,167.94 393.55,167.59 393.88,167.30 394.21,166.20 394.54,165.76 394.86,165.33 395.18,164.16 395.50,163.62 395.81,163.43 396.11,162.59 396.42,161.63 396.64,160.74 396.86,160.79 397.08,160.06 397.30,159.59 397.52,159.12 397.73,158.42 397.94,157.43 398.16,156.61 398.36,156.06 398.57,155.57 398.78,154.90 398.99,153.99 399.18,153.29 399.38,152.95 399.57,152.23 399.77,151.33 399.95,151.12 400.14,150.11 400.32,148.92 400.50,148.49 400.67,148.06 400.84,146.95 401.01,146.52 401.17,145.24 401.29,144.87 401.41,144.68 401.53,143.86 401.64,143.30 401.76,142.31 401.86,141.89 401.97,141.28 402.07,140.40 402.17,140.04 402.28,139.29 402.37,139.01 402.46,138.01 402.56,137.22 402.65,136.33 402.74,135.70 402.83,135.55 402.92,134.41 403.01,133.78 403.10,133.21 403.18,132.86 403.29,132.41 403.40,131.55 403.51,131.01 403.62,129.72 403.72,129.09 403.83,129.11 403.94,128.16 404.04,127.88 404.18,126.89 404.31,126.04 404.45,125.42 404.58,124.66 404.70,124.68 404.83,123.79 405.02,122.74 405.20,121.95 405.38,121.06 405.55,119.97 405.66,120.03 405.77,119.17 405.88,118.87 405.98,117.81 406.08,117.31 406.18,116.37 406.33,115.36 406.47,115.22 406.77,114.05 407.08,113.43 407.39,114.81 407.50,115.33 407.60,115.52 407.70,116.35 407.78,117.23 407.87,117.46 407.95,118.42 408.03,118.45 408.12,119.26 408.21,120.21 408.30,120.50 408.39,121.26 408.49,122.42 408.60,122.82 408.71,123.78 408.81,124.06 408.91,124.62 409.01,125.38 409.11,125.85 409.21,127.10 409.31,127.17 409.42,128.07 409.53,128.41 409.65,129.43 409.76,130.00 409.87,130.71 409.97,131.05 410.07,131.71 410.17,132.88 410.27,133.11 410.37,133.64 410.47,134.21 410.57,134.90 410.67,135.49 410.77,135.95 410.87,137.07 410.97,137.44 411.07,137.91 411.17,138.95 411.27,139.06 411.37,139.81 411.47,140.86 411.56,140.90 411.66,141.75 411.76,142.67 411.85,143.25 411.95,143.34 412.04,144.09 412.14,144.99 412.23,145.32 412.33,146.41 412.42,146.43 412.52,147.64 412.61,147.91 412.71,148.31 412.80,149.11 412.90,149.47 412.99,150.54 413.09,150.79 413.18,151.92 413.28,152.28 413.37,152.72 413.49,153.31 413.60,154.29 413.71,154.66 413.83,155.88 413.94,155.97 414.06,156.90 414.17,157.53 414.29,157.93 414.40,158.94 414.51,159.24 414.66,160.13 414.80,160.72 414.94,161.18 415.08,161.90 415.23,162.25 415.37,162.91 415.51,164.04 415.65,164.21 415.84,165.18 416.03,165.43 416.22,166.49 416.41,166.94 416.60,167.67 416.79,168.12 417.08,168.76 417.36,169.77 417.60,170.42 417.84,171.09 418.02,172.00 418.21,172.37 418.64,173.36 419.25,174.19 420.22,174.72 420.99,174.90 421.76,175.06 422.44,175.02 423.11,175.06 423.79,175.07 424.51,175.11 425.23,175.09 425.95,175.04 426.58,175.01 427.22,175.00 427.86,174.96 428.52,174.90 429.18,174.90" fill="none" stroke="#333" stroke-width="0.9" stroke-linejoin="round" stroke-dasharray="3 2"/>
<polyline points="450.91,172.94 451.35,172.55 451.96,172.36 452.68,171.78 453.41,171.28 454.07,171.22 454.66,170.61 455.23,170.11 455.79,168.95 456.35,168.05 456.63,167.50 456.92,166.88 457.11,166.37 457.31,165.84 457.51,164.97 457.70,164.47 457.90,164.01 458.10,162.92 458.25,162.84 458.40,162.01 458.54,161.52 458.69,160.54 458.84,160.03 458.99,159.57 459.14,158.65 459.29,157.71 459.43,157.70 459.58,156.97 459.73,155.90 459.87,155.03 460.02,154.96 460.16,154.05 460.31,152.88 460.45,152.32 460.56,151.60 460.68,151.53 460.79,150.44 460.91,150.39 461.02,149.64 461.13,148.47 461.25,148.32 461.36,147.44 461.47,147.08 461.59,146.50 461.70,145.42 461.82,144.62 461.93,144.65 462.04,143.59 462.16,143.35 462.27,142.52 462.38,141.92 462.50,141.36 462.61,140.57 462.72,139.79 462.84,138.83 462.96,138.71 463.08,137.86 463.19,137.29 463.31,136.98 463.43,135.69 463.55,135.54 463.67,134.31 463.79,134.18 463.91,133.61 464.03,132.53 464.15,132.11 464.26,131.81 464.38,130.89 464.50,130.17 464.61,129.32 464.73,128.56 464.84,128.18 464.95,127.61 465.06,126.83 465.19,126.21 465.32,125.37 465.45,125.13 465.58,124.40 465.69,123.35 465.80,122.65 465.91,122.16 466.03,121.40 466.13,121.06 466.23,119.86 466.33,119.09 466.44,118.83 466.53,117.59 466.62,117.28 466.72,116.45 466.81,116.19 466.93,115.38 467.05,114.95 467.16,113.88 467.51,113.71 467.84,114.59 467.94,115.19 468.04,116.14 468.14,116.90 468.21,117.06 468.28,117.93 468.35,118.72 468.42,119.33 468.48,119.88 468.54,120.72 468.60,121.32 468.66,122.39 468.72,122.86 468.78,123.26 468.85,124.09 468.91,124.88 468.97,125.46 469.04,125.97 469.11,126.60 469.17,127.26 469.24,128.75 469.31,129.27 469.38,129.44 469.44,130.62 469.49,131.50 469.55,131.83 469.61,132.14 469.67,133.11 469.72,133.73 469.79,134.23 469.85,135.21 469.91,135.48 469.97,136.91 470.03,137.38 470.09,138.07 470.15,138.99 470.21,139.44 470.28,139.79 470.34,140.46 470.40,141.05 470.47,141.64 470.53,142.84 470.60,143.50 470.67,143.66 470.74,144.18 470.80,145.15 470.87,145.92 470.95,146.61 471.04,146.64 471.12,147.77 471.20,148.44 471.28,149.00 471.39,149.40 471.49,150.01 471.60,151.25 471.70,151.58 471.81,152.29 471.93,153.11 472.04,153.64 472.15,154.69 472.27,154.84 472.40,155.32 472.52,156.37 472.65,157.05 472.79,157.80 472.93,158.31 473.07,159.06 473.21,159.69 473.43,160.09 473.65,160.86 473.87,161.34 474.12,162.17 474.37,163.11 474.61,163.43 474.87,164.57 475.14,164.81 475.40,165.69 475.67,166.70 475.93,166.58 476.20,167.12 476.59,168.19 476.98,168.74 477.37,169.75 477.77,169.78 478.57,171.25 479.37,171.89 480.14,172.40 480.85,172.80 481.02,173.30 480.67,173.82 480.52,174.16 481.29,174.45 481.89,174.50 482.50,174.57 483.10,174.65 483.70,174.72 484.33,174.75 484.96,174.70 485.59,174.73 486.22,174.76 486.84,174.79 487.47,174.79 488.10,174.80 488.73,174.80 489.38,174.83 490.03,174.85 490.68,174.91 491.33,174.91 491.99,174.91 492.64,174.92 493.29,174.93 493.94,174.90 494.59,174.92 495.24,174.86 495.89,174.92 496.50,174.92 497.10,174.89 497.70,174.91 498.30,174.95 498.91,174.91 499.51,174.92 500.11,174.89 500.72,174.89 501.32,174.95 501.92,174.86 502.52,174.88 503.13,174.93 503.73,174.91 504.37,174.87 505.01,174.92 505.65,174.90 506.29,174.91 506.93,174.90 507.57,174.91 508.22,174.91 508.86,174.89 509.50,174.86 510.14,174.87 510.78,174.94 511.46,174.90 512.15,174.86 512.84,174.93 513.52,174.88 514.21,174.86 514.89,174.90 515.58,174.90" fill="none" stroke="#b8b8b8" stroke-width="0.9" stroke-linejoin="round"/>
<polyline points="450.91,172.94 451.35,172.55 451.96,172.36 452.68,171.78 453.41,171.28 454.07,171.22 454.66,170.61 455.23,170.11 455.79,168.95 456.35,168.05 456.63,167.50 456.92,166.88 457.11,166.37 457.31,165.84 457.51,164.97 457.70,164.47 457.90,164.01 458.10,162.92 458.25,162.84 458.40,162.01 458.54,161.52 458.69,160.54 458.84,160.03 458.99,159.57 459.14,158.65 459.29,157.71 459.43,157.70 459.58,156.97 459.73,155.90 459.87,155.03 460.02,154.96 460.16,154.05 460.31,152.88 460.45,152.32 460.56,151.60 460.68,151.53 460.79,150.44 460.91,150.39 461.02,149.64 461.13,148.47 461.25,148.32 461.36,147.44 461.47,147.08 461.59,146.50 461.70,145.42 461.82,144.62 461.93,144.65 462.04,143.59 462.16,143.35 462.27,142.52 462.38,141.92 462.50,141.36 462.61,140.57 462.72,139.79 462.84,138.83 462.96,138.71 463.08,137.86 463.19,137.29 463.31,136.98 463.43,135.69 463.55,135.54 463.67,134.31 463.79,134.18 463.91,133.61 464.03,132.53 464.15,132.11 464.26,131.81 464.38,130.89 464.50,130.17 464.61,129.32 464.73,128.56 464.84,128.18 464.95,127.61 465.06,126.83 465.19,126.21 465.32,125.37 465.45,125.13 465.58,124.40 465.69,123.35 465.80,122.65 465.91,122.16 466.03,121.40 466.13,121.06 466.23,119.86 466.33,119.09 466.44,118.83 466.53,117.59 466.62,117.28 466.72,116.45 466.81,116.19 466.93,115.38 467.05,114.95 467.16,113.88 467.51,113.71 467.84,114.59 467.94,115.19 468.04,116.14 468.14,116.90 468.21,117.06 468.28,117.93 468.35,118.72 468.42,119.33 468.48,119.88 468.54,120.72 468.60,121.32 468.66,122.39 468.72,122.86 468.78,123.26 468.85,124.09 468.91,124.88 468.97,125.46 469.04,125.97 469.11,126.60 469.17,127.26 469.24,128.75 469.31,129.27 469.38,129.44 469.44,130.62 469.49,131.50 469.55,131.83 469.61,132.14 469.67,133.11 469.72,133.73 469.79,134.23 469.85,135.21 469.91,135.48 469.97,136.91 470.03,137.38 470.09,138.07 470.15,138.99 470.21,139.44 470.28,139.79 470.34,140.46 470.40,141.05 470.47,141.64 470.53,142.84 470.60,143.50 470.67,143.66 470.74,144.18 470.80,145.15 470.87,145.92 470.95,146.61 471.04,146.64 471.12,147.77 471.20,148.44 471.28,149.00 471.39,149.40 471.49,150.01 471.60,151.25 471.70,151.58 471.81,152.29 471.93,153.11 472.04,153.64 472.15,154.69 472.27,154.84 472.40,155.32 472.52,156.37 472.65,157.05 472.79,157.80 472.93,158.31 473.07,159.06 473.21,159.69 473.43,160.09 473.65,160.86 473.87,161.34 474.12,162.17 474.37,163.11 474.61,163.43 474.87,164.57 475.14,164.81 475.40,165.69 475.67,166.70 475.93,166.58 476.20,167.12 476.59,168.19 476.98,168.74 477.37,169.75 477.77,169.78 478.57,171.25 479.37,171.89 480.14,172.40 480.85,172.80 481.02,173.30 480.67,173.82 480.52,174.16 481.29,174.45 481.89,174.50 482.50,174.57 483.10,174.65 483.70,174.72 484.33,174.75 484.96,174.70 485.59,174.73 486.22,174.76 486.84,174.79 487.47,174.79 488.10,174.80 488.73,174.80 489.38,174.83 490.03,174.85 490.68,174.91 491.33,174.91 491.99,174.91 492.64,174.92 493.29,174.93 493.94,174.90 494.59,174.92 495.24,174.86 495.89,174.92 496.50,174.92 497.10,174.89 497.70,174.91 498.30,174.95 498.91,174.91 499.51,174.92 500.11,174.89 500.72,174.89 501.32,174.95 501.92,174.86 502.52,174.88 503.13,174.93 503.73,174.91 504.37,174.87 505.01,174.92 505.65,174.90 506.29,174.91 506.93,174.90 507.57,174.91 508.22,174.91 508.86,174.89 509.50,174.86 510.14,174.87 510.78,174.94 511.46,174.90 512.15,174.86 512.84,174.93 513.52,174.88 514.21,174.86 514.89,174.90 515.58,174.90" fill="none" stroke="#7a7a7a" stroke-width="0.9" stroke-linejoin="round" stroke-dasharray="2.5 2.5"/>
<polyline points="451.42,174.88 452.61,174.86 453.47,174.85 454.32,174.79 454.98,174.80 455.63,174.74 456.28,174.76 456.93,174.74 457.58,174.67 458.22,174.67 459.05,174.59 459.87,174.58 460.55,174.60 461.22,174.54 461.83,174.55 462.44,174.55 463.57,174.43 464.60,174.35 465.58,173.91 466.47,173.14 467.26,172.67 467.99,171.56 468.33,170.83 468.67,170.80 469.01,169.77 469.34,169.21 469.56,168.09 469.78,167.99 469.99,166.80 470.20,166.23 470.40,165.62 470.61,164.62 470.75,164.49 470.90,163.59 471.05,163.06 471.19,162.79 471.33,161.92 471.47,161.65 471.61,160.79 471.75,160.35 471.89,159.43 472.02,159.04 472.16,158.33 472.30,157.10 472.43,156.85 472.56,155.81 472.69,155.43 472.83,154.65 472.93,154.15 473.03,152.97 473.13,152.55 473.23,152.23 473.34,151.78 473.43,150.96 473.53,149.77 473.63,149.58 473.73,148.54 473.82,148.25 473.92,147.81 474.01,146.61 474.11,146.61 474.20,145.76 474.29,144.78 474.38,144.10 474.47,143.66 474.56,143.34 474.65,142.50 474.74,141.49 474.83,140.78 474.91,140.22 474.99,140.14 475.08,139.02 475.16,138.68 475.24,137.83 475.32,137.51 475.40,136.62 475.48,135.79 475.56,135.74 475.64,134.83 475.71,134.31 475.79,133.77 475.87,133.25 475.94,131.86 476.01,131.51 476.09,130.74 476.16,130.40 476.24,130.08 476.31,129.40 476.40,128.06 476.49,127.45 476.58,127.22 476.68,126.38 476.75,125.52 476.82,124.96 476.89,124.07 476.97,123.99 477.04,123.00 477.11,122.70 477.18,121.80 477.25,120.69 477.32,120.21 477.39,119.43 477.46,119.35 477.53,118.48 477.60,117.42 477.67,116.90 477.74,116.43 477.85,115.78 477.96,115.12 478.08,114.23 478.41,113.46 478.72,114.30 478.80,115.41 478.87,115.86 478.94,116.25 479.02,117.25 479.08,118.37 479.14,118.32 479.19,119.09 479.25,120.21 479.31,120.59 479.36,121.22 479.41,122.04 479.46,122.48 479.51,123.36 479.56,123.96 479.61,124.94 479.68,125.67 479.74,125.61 479.81,126.74 479.87,127.61 479.93,128.40 480.00,128.99 480.07,129.55 480.14,130.22 480.20,130.67 480.27,131.27 480.34,132.40 480.41,133.17 480.48,133.93 480.54,134.43 480.61,134.84 480.67,135.81 480.73,136.40 480.79,136.82 480.85,137.52 480.91,137.90 480.97,138.66 481.03,139.15 481.10,139.47 481.16,140.29 481.22,140.87 481.29,142.00 481.35,142.20 481.43,142.79 481.52,143.38 481.60,144.06 481.68,144.83 481.77,145.35 481.86,145.91 481.96,147.28 482.05,147.61 482.14,148.27 482.24,149.04 482.34,149.50 482.44,150.06 482.54,150.65 482.65,151.51 482.75,152.18 482.86,153.16 482.96,153.67 483.07,154.62 483.18,154.79 483.28,155.90 483.39,156.23 483.50,156.43 483.60,157.11 483.71,158.03 483.81,158.95 483.94,159.11 484.06,160.10 484.19,160.49 484.31,161.50 484.47,161.61 484.62,162.69 484.77,163.77 484.92,163.91 485.06,164.54 485.20,164.99 485.42,165.94 485.63,166.86 485.85,167.96 486.07,168.31 486.31,169.15 486.55,169.68 486.63,170.63 486.71,171.43 486.53,172.40 486.56,173.21 487.33,174.13 488.02,174.35 488.71,174.50 489.41,174.65 490.10,174.78 490.79,174.84 491.49,174.85 492.18,174.88 492.87,174.94 493.57,175.03 494.22,175.07 494.87,175.06 495.53,175.10 496.18,175.04 496.84,175.06 497.49,175.11 498.14,175.11 498.80,175.10 499.45,175.13 500.09,175.09 500.74,175.06 501.38,175.09 502.02,175.05 502.66,175.09 503.31,175.06 503.95,175.07 504.59,175.07 505.23,175.03 505.87,175.05 506.52,174.99 507.16,175.07 507.80,175.02 508.44,175.05 509.08,174.95 509.72,174.99 510.36,174.99 511.00,174.94 511.65,174.91 512.30,174.90 512.96,174.90 513.61,174.95 514.27,174.88 514.92,174.94 515.58,174.90" fill="none" stroke="#8a8a8a" stroke-width="0.9" stroke-linejoin="round"/>
<polyline points="451.42,174.88 452.61,174.86 453.47,174.85 454.32,174.79 454.98,174.80 455.63,174.74 456.28,174.76 456.93,174.74 457.58,174.67 458.22,174.67 459.05,174.59 459.87,174.58 460.55,174.60 461.22,174.54 461.83,174.55 462.44,174.55 463.57,174.43 464.60,174.35 465.58,173.91 466.47,173.14 467.26,172.67 467.99,171.56 468.33,170.83 468.67,170.80 469.01,169.77 469.34,169.21 469.56,168.09 469.78,167.99 469.99,166.80 470.20,166.23 470.40,165.62 470.61,164.62 470.75,164.49 470.90,163.59 471.05,163.06 471.19,162.79 471.33,161.92 471.47,161.65 471.61,160.79 471.75,160.35 471.89,159.43 472.02,159.04 472.16,158.33 472.30,157.10 472.43,156.85 472.56,155.81 472.69,155.43 472.83,154.65 472.93,154.15 473.03,152.97 473.13,152.55 473.23,152.23 473.34,151.78 473.43,150.96 473.53,149.77 473.63,149.58 473.73,148.54 473.82,148.25 473.92,147.81 474.01,146.61 474.11,146.61 474.20,145.76 474.29,144.78 474.38,144.10 474.47,143.66 474.56,143.34 474.65,142.50 474.74,141.49 474.83,140.78 474.91,140.22 474.99,140.14 475.08,139.02 475.16,138.68 475.24,137.83 475.32,137.51 475.40,136.62 475.48,135.79 475.56,135.74 475.64,134.83 475.71,134.31 475.79,133.77 475.87,133.25 475.94,131.86 476.01,131.51 476.09,130.74 476.16,130.40 476.24,130.08 476.31,129.40 476.40,128.06 476.49,127.45 476.58,127.22 476.68,126.38 476.75,125.52 476.82,124.96 476.89,124.07 476.97,123.99 477.04,123.00 477.11,122.70 477.18,121.80 477.25,120.69 477.32,120.21 477.39,119.43 477.46,119.35 477.53,118.48 477.60,117.42 477.67,116.90 477.74,116.43 477.85,115.78 477.96,115.12 478.08,114.23 478.41,113.46 478.72,114.30 478.80,115.41 478.87,115.86 478.94,116.25 479.02,117.25 479.08,118.37 479.14,118.32 479.19,119.09 479.25,120.21 479.31,120.59 479.36,121.22 479.41,122.04 479.46,122.48 479.51,123.36 479.56,123.96 479.61,124.94 479.68,125.67 479.74,125.61 479.81,126.74 479.87,127.61 479.93,128.40 480.00,128.99 480.07,129.55 480.14,130.22 480.20,130.67 480.27,131.27 480.34,132.40 480.41,133.17 480.48,133.93 480.54,134.43 480.61,134.84 480.67,135.81 480.73,136.40 480.79,136.82 480.85,137.52 480.91,137.90 480.97,138.66 481.03,139.15 481.10,139.47 481.16,140.29 481.22,140.87 481.29,142.00 481.35,142.20 481.43,142.79 481.52,143.38 481.60,144.06 481.68,144.83 481.77,145.35 481.86,145.91 481.96,147.28 482.05,147.61 482.14,148.27 482.24,149.04 482.34,149.50 482.44,150.06 482.54,150.65 482.65,151.51 482.75,152.18 482.86,153.16 482.96,153.67 483.07,154.62 483.18,154.79 483.28,155.90 483.39,156.23 483.50,156.43 483.60,157.11 483.71,158.03 483.81,158.95 483.94,159.11 484.06,160.10 484.19,160.49 484.31,161.50 484.47,161.61 484.62,162.69 484.77,163.77 484.92,163.91 485.06,164.54 485.20,164.99 485.42,165.94 485.63,166.86 485.85,167.96 486.07,168.31 486.31,169.15 486.55,169.68 486.63,170.63 486.71,171.43 486.53,172.40 486.56,173.21 487.33,174.13 488.02,174.35 488.71,174.50 489.41,174.65 490.10,174.78 490.79,174.84 491.49,174.85 492.18,174.88 492.87,174.94 493.57,175.03 494.22,175.07 494.87,175.06 495.53,175.10 496.18,175.04 496.84,175.06 497.49,175.11 498.14,175.11 498.80,175.10 499.45,175.13 500.09,175.09 500.74,175.06 501.38,175.09 502.02,175.05 502.66,175.09 503.31,175.06 503.95,175.07 504.59,175.07 505.23,175.03 505.87,175.05 506.52,174.99 507.16,175.07 507.80,175.02 508.44,175.05 509.08,174.95 509.72,174.99 510.36,174.99 511.00,174.94 511.65,174.91 512.30,174.90 512.96,174.90 513.61,174.95 514.27,174.88 514.92,174.94 515.58,174.90" fill="none" stroke="#333" stroke-width="0.9" stroke-linejoin="round" stroke-dasharray="3 2"/>
<text x="0" y="0" transform="translate(247.2,13.5)" font-family="Liberation Sans, sans-serif" font-size="17.8" font-weight="bold">C</text>
<text transform="translate(314.6,20.8) scale(0.9,1)" font-family="Liberation Sans, sans-serif" font-size="10.6" text-anchor="middle" fill="#111" stroke="#111" stroke-width="0.15">CD69</text>
<text transform="translate(396.0,20.8) scale(0.9,1)" font-family="Liberation Sans, sans-serif" font-size="10.6" text-anchor="middle" fill="#111" stroke="#111" stroke-width="0.15">OX40</text>
<text transform="translate(476.6,20.8) scale(0.9,1)" font-family="Liberation Sans, sans-serif" font-size="10.6" text-anchor="middle" fill="#111" stroke="#111" stroke-width="0.15">GITR</text>
<text transform="translate(255.2,62.5) rotate(-90) scale(0.84,1)" font-family="Liberation Sans, sans-serif" font-size="11" font-weight="bold" text-anchor="middle">CD25-</text>
<text transform="translate(255.4,137.5) rotate(-90) scale(0.84,1)" font-family="Liberation Sans, sans-serif" font-size="11" font-weight="bold" text-anchor="middle">CD25 (+)</text>
<text transform="translate(438.2,143) rotate(-90)" font-family="Liberation Sans, sans-serif" font-size="2.2" fill="#888" text-anchor="middle">% of Max</text>
<rect x="293.4" y="227.0" width="63.7" height="63.5" fill="none" stroke="#8a8a8a" stroke-width="0.8"/>
<line x1="291.59999999999997" y1="290.50" x2="293.4" y2="290.50" stroke="#777" stroke-width="0.6"/>
<text x="291.50" y="292.30" font-family="Liberation Sans, sans-serif" font-size="5.4" fill="#333" stroke="#333" stroke-width="0.12" text-anchor="end">0</text>
<line x1="291.59999999999997" y1="277.80" x2="293.4" y2="277.80" stroke="#777" stroke-width="0.6"/>
<text x="291.50" y="279.60" font-family="Liberation Sans, sans-serif" font-size="5.4" fill="#333" stroke="#333" stroke-width="0.12" text-anchor="end">20</text>
<line x1="291.59999999999997" y1="265.10" x2="293.4" y2="265.10" stroke="#777" stroke-width="0.6"/>
<text x="291.50" y="266.90" font-family="Liberation Sans, sans-serif" font-size="5.4" fill="#333" stroke="#333" stroke-width="0.12" text-anchor="end">40</text>
<line x1="291.59999999999997" y1="252.40" x2="293.4" y2="252.40" stroke="#777" stroke-width="0.6"/>
<text x="291.50" y="254.20" font-family="Liberation Sans, sans-serif" font-size="5.4" fill="#333" stroke="#333" stroke-width="0.12" text-anchor="end">60</text>
<line x1="291.59999999999997" y1="239.70" x2="293.4" y2="239.70" stroke="#777" stroke-width="0.6"/>
<text x="291.50" y="241.50" font-family="Liberation Sans, sans-serif" font-size="5.4" fill="#333" stroke="#333" stroke-width="0.12" text-anchor="end">80</text>
<line x1="291.59999999999997" y1="227.00" x2="293.4" y2="227.00" stroke="#777" stroke-width="0.6"/>
<text x="291.50" y="228.80" font-family="Liberation Sans, sans-serif" font-size="5.4" fill="#333" stroke="#333" stroke-width="0.12" text-anchor="end">100</text>
<line x1="292.5" y1="284.15" x2="293.4" y2="284.15" stroke="#999" stroke-width="0.5"/>
<line x1="292.5" y1="271.45" x2="293.4" y2="271.45" stroke="#999" stroke-width="0.5"/>
<line x1="292.5" y1="258.75" x2="293.4" y2="258.75" stroke="#999" stroke-width="0.5"/>
<line x1="292.5" y1="246.05" x2="293.4" y2="246.05" stroke="#999" stroke-width="0.5"/>
<line x1="292.5" y1="233.35" x2="293.4" y2="233.35" stroke="#999" stroke-width="0.5"/>
<line x1="293.40" y1="290.5" x2="293.40" y2="292.3" stroke="#777" stroke-width="0.6"/>
<text x="289.80" y="297.50" font-family="Liberation Sans, sans-serif" font-size="5.4" fill="#333" stroke="#333" stroke-width="0.12">10<tspan font-size="3.6" dy="-2">0</tspan></text>
<line x1="298.19" y1="290.5" x2="298.19" y2="291.4" stroke="#999" stroke-width="0.5"/>
<line x1="301.00" y1="290.5" x2="301.00" y2="291.4" stroke="#999" stroke-width="0.5"/>
<line x1="302.99" y1="290.5" x2="302.99" y2="291.4" stroke="#999" stroke-width="0.5"/>
<line x1="304.53" y1="290.5" x2="304.53" y2="291.4" stroke="#999" stroke-width="0.5"/>
<line x1="305.79" y1="290.5" x2="305.79" y2="291.4" stroke="#999" stroke-width="0.5"/>
<line x1="306.86" y1="290.5" x2="306.86" y2="291.4" stroke="#999" stroke-width="0.5"/>
<line x1="307.78" y1="290.5" x2="307.78" y2="291.4" stroke="#999" stroke-width="0.5"/>
<line x1="308.60" y1="290.5" x2="308.60" y2="291.4" stroke="#999" stroke-width="0.5"/>
<line x1="309.32" y1="290.5" x2="309.32" y2="292.3" stroke="#777" stroke-width="0.6"/>
<text x="305.72" y="297.50" font-family="Liberation Sans, sans-serif" font-size="5.4" fill="#333" stroke="#333" stroke-width="0.12">10<tspan font-size="3.6" dy="-2">1</tspan></text>
<line x1="314.12" y1="290.5" x2="314.12" y2="291.4" stroke="#999" stroke-width="0.5"/>
<line x1="316.92" y1="290.5" x2="316.92" y2="291.4" stroke="#999" stroke-width="0.5"/>
<line x1="318.91" y1="290.5" x2="318.91" y2="291.4" stroke="#999" stroke-width="0.5"/>
<line x1="320.46" y1="290.5" x2="320.46" y2="291.4" stroke="#999" stroke-width="0.5"/>
<line x1="321.72" y1="290.5" x2="321.72" y2="291.4" stroke="#999" stroke-width="0.5"/>
<line x1="322.78" y1="290.5" x2="322.78" y2="291.4" stroke="#999" stroke-width="0.5"/>
<line x1="323.71" y1="290.5" x2="323.71" y2="291.4" stroke="#999" stroke-width="0.5"/>
<line x1="324.52" y1="290.5" x2="324.52" y2="291.4" stroke="#999" stroke-width="0.5"/>
<line x1="325.25" y1="290.5" x2="325.25" y2="292.3" stroke="#777" stroke-width="0.6"/>
<text x="321.65" y="297.50" font-family="Liberation Sans, sans-serif" font-size="5.4" fill="#333" stroke="#333" stroke-width="0.12">10<tspan font-size="3.6" dy="-2">2</tspan></text>
<line x1="330.04" y1="290.5" x2="330.04" y2="291.4" stroke="#999" stroke-width="0.5"/>
<line x1="332.85" y1="290.5" x2="332.85" y2="291.4" stroke="#999" stroke-width="0.5"/>
<line x1="334.84" y1="290.5" x2="334.84" y2="291.4" stroke="#999" stroke-width="0.5"/>
<line x1="336.38" y1="290.5" x2="336.38" y2="291.4" stroke="#999" stroke-width="0.5"/>
<line x1="337.64" y1="290.5" x2="337.64" y2="291.4" stroke="#999" stroke-width="0.5"/>
<line x1="338.71" y1="290.5" x2="338.71" y2="291.4" stroke="#999" stroke-width="0.5"/>
<line x1="339.63" y1="290.5" x2="339.63" y2="291.4" stroke="#999" stroke-width="0.5"/>
<line x1="340.45" y1="290.5" x2="340.45" y2="291.4" stroke="#999" stroke-width="0.5"/>
<line x1="341.17" y1="290.5" x2="341.17" y2="292.3" stroke="#777" stroke-width="0.6"/>
<text x="337.57" y="297.50" font-family="Liberation Sans, sans-serif" font-size="5.4" fill="#333" stroke="#333" stroke-width="0.12">10<tspan font-size="3.6" dy="-2">3</tspan></text>
<line x1="345.97" y1="290.5" x2="345.97" y2="291.4" stroke="#999" stroke-width="0.5"/>
<line x1="348.77" y1="290.5" x2="348.77" y2="291.4" stroke="#999" stroke-width="0.5"/>
<line x1="350.76" y1="290.5" x2="350.76" y2="291.4" stroke="#999" stroke-width="0.5"/>
<line x1="352.31" y1="290.5" x2="352.31" y2="291.4" stroke="#999" stroke-width="0.5"/>
<line x1="353.57" y1="290.5" x2="353.57" y2="291.4" stroke="#999" stroke-width="0.5"/>
<line x1="354.63" y1="290.5" x2="354.63" y2="291.4" stroke="#999" stroke-width="0.5"/>
<line x1="355.56" y1="290.5" x2="355.56" y2="291.4" stroke="#999" stroke-width="0.5"/>
<line x1="356.37" y1="290.5" x2="356.37" y2="291.4" stroke="#999" stroke-width="0.5"/>
<line x1="357.10" y1="290.5" x2="357.10" y2="292.3" stroke="#777" stroke-width="0.6"/>
<text x="353.50" y="297.50" font-family="Liberation Sans, sans-serif" font-size="5.4" fill="#333" stroke="#333" stroke-width="0.12">10<tspan font-size="3.6" dy="-2">4</tspan></text>
<rect x="381.4" y="227.0" width="63.7" height="63.5" fill="none" stroke="#8a8a8a" stroke-width="0.8"/>
<line x1="379.59999999999997" y1="290.50" x2="381.4" y2="290.50" stroke="#777" stroke-width="0.6"/>
<text x="379.50" y="292.30" font-family="Liberation Sans, sans-serif" font-size="5.4" fill="#333" stroke="#333" stroke-width="0.12" text-anchor="end">0</text>
<line x1="379.59999999999997" y1="277.80" x2="381.4" y2="277.80" stroke="#777" stroke-width="0.6"/>
<text x="379.50" y="279.60" font-family="Liberation Sans, sans-serif" font-size="5.4" fill="#333" stroke="#333" stroke-width="0.12" text-anchor="end">20</text>
<line x1="379.59999999999997" y1="265.10" x2="381.4" y2="265.10" stroke="#777" stroke-width="0.6"/>
<text x="379.50" y="266.90" font-family="Liberation Sans, sans-serif" font-size="5.4" fill="#333" stroke="#333" stroke-width="0.12" text-anchor="end">40</text>
<line x1="379.59999999999997" y1="252.40" x2="381.4" y2="252.40" stroke="#777" stroke-width="0.6"/>
<text x="379.50" y="254.20" font-family="Liberation Sans, sans-serif" font-size="5.4" fill="#333" stroke="#333" stroke-width="0.12" text-anchor="end">60</text>
<line x1="379.59999999999997" y1="239.70" x2="381.4" y2="239.70" stroke="#777" stroke-width="0.6"/>
<text x="379.50" y="241.50" font-family="Liberation Sans, sans-serif" font-size="5.4" fill="#333" stroke="#333" stroke-width="0.12" text-anchor="end">80</text>
<line x1="379.59999999999997" y1="227.00" x2="381.4" y2="227.00" stroke="#777" stroke-width="0.6"/>
<text x="379.50" y="228.80" font-family="Liberation Sans, sans-serif" font-size="5.4" fill="#333" stroke="#333" stroke-width="0.12" text-anchor="end">100</text>
<line x1="380.5" y1="284.15" x2="381.4" y2="284.15" stroke="#999" stroke-width="0.5"/>
<line x1="380.5" y1="271.45" x2="381.4" y2="271.45" stroke="#999" stroke-width="0.5"/>
<line x1="380.5" y1="258.75" x2="381.4" y2="258.75" stroke="#999" stroke-width="0.5"/>
<line x1="380.5" y1="246.05" x2="381.4" y2="246.05" stroke="#999" stroke-width="0.5"/>
<line x1="380.5" y1="233.35" x2="381.4" y2="233.35" stroke="#999" stroke-width="0.5"/>
<line x1="381.40" y1="290.5" x2="381.40" y2="292.3" stroke="#777" stroke-width="0.6"/>
<text x="377.80" y="297.50" font-family="Liberation Sans, sans-serif" font-size="5.4" fill="#333" stroke="#333" stroke-width="0.12">10<tspan font-size="3.6" dy="-2">0</tspan></text>
<line x1="386.19" y1="290.5" x2="386.19" y2="291.4" stroke="#999" stroke-width="0.5"/>
<line x1="389.00" y1="290.5" x2="389.00" y2="291.4" stroke="#999" stroke-width="0.5"/>
<line x1="390.99" y1="290.5" x2="390.99" y2="291.4" stroke="#999" stroke-width="0.5"/>
<line x1="392.53" y1="290.5" x2="392.53" y2="291.4" stroke="#999" stroke-width="0.5"/>
<line x1="393.79" y1="290.5" x2="393.79" y2="291.4" stroke="#999" stroke-width="0.5"/>
<line x1="394.86" y1="290.5" x2="394.86" y2="291.4" stroke="#999" stroke-width="0.5"/>
<line x1="395.78" y1="290.5" x2="395.78" y2="291.4" stroke="#999" stroke-width="0.5"/>
<line x1="396.60" y1="290.5" x2="396.60" y2="291.4" stroke="#999" stroke-width="0.5"/>
<line x1="397.32" y1="290.5" x2="397.32" y2="292.3" stroke="#777" stroke-width="0.6"/>
<text x="393.72" y="297.50" font-family="Liberation Sans, sans-serif" font-size="5.4" fill="#333" stroke="#333" stroke-width="0.12">10<tspan font-size="3.6" dy="-2">1</tspan></text>
<line x1="402.12" y1="290.5" x2="402.12" y2="291.4" stroke="#999" stroke-width="0.5"/>
<line x1="404.92" y1="290.5" x2="404.92" y2="291.4" stroke="#999" stroke-width="0.5"/>
<line x1="406.91" y1="290.5" x2="406.91" y2="291.4" stroke="#999" stroke-width="0.5"/>
<line x1="408.46" y1="290.5" x2="408.46" y2="291.4" stroke="#999" stroke-width="0.5"/>
<line x1="409.72" y1="290.5" x2="409.72" y2="291.4" stroke="#999" stroke-width="0.5"/>
<line x1="410.78" y1="290.5" x2="410.78" y2="291.4" stroke="#999" stroke-width="0.5"/>
<line x1="411.71" y1="290.5" x2="411.71" y2="291.4" stroke="#999" stroke-width="0.5"/>
<line x1="412.52" y1="290.5" x2="412.52" y2="291.4" stroke="#999" stroke-width="0.5"/>
<line x1="413.25" y1="290.5" x2="413.25" y2="292.3" stroke="#777" stroke-width="0.6"/>
<text x="409.65" y="297.50" font-family="Liberation Sans, sans-serif" font-size="5.4" fill="#333" stroke="#333" stroke-width="0.12">10<tspan font-size="3.6" dy="-2">2</tspan></text>
<line x1="418.04" y1="290.5" x2="418.04" y2="291.4" stroke="#999" stroke-width="0.5"/>
<line x1="420.85" y1="290.5" x2="420.85" y2="291.4" stroke="#999" stroke-width="0.5"/>
<line x1="422.84" y1="290.5" x2="422.84" y2="291.4" stroke="#999" stroke-width="0.5"/>
<line x1="424.38" y1="290.5" x2="424.38" y2="291.4" stroke="#999" stroke-width="0.5"/>
<line x1="425.64" y1="290.5" x2="425.64" y2="291.4" stroke="#999" stroke-width="0.5"/>
<line x1="426.71" y1="290.5" x2="426.71" y2="291.4" stroke="#999" stroke-width="0.5"/>
<line x1="427.63" y1="290.5" x2="427.63" y2="291.4" stroke="#999" stroke-width="0.5"/>
<line x1="428.45" y1="290.5" x2="428.45" y2="291.4" stroke="#999" stroke-width="0.5"/>
<line x1="429.17" y1="290.5" x2="429.17" y2="292.3" stroke="#777" stroke-width="0.6"/>
<text x="425.57" y="297.50" font-family="Liberation Sans, sans-serif" font-size="5.4" fill="#333" stroke="#333" stroke-width="0.12">10<tspan font-size="3.6" dy="-2">3</tspan></text>
<line x1="433.97" y1="290.5" x2="433.97" y2="291.4" stroke="#999" stroke-width="0.5"/>
<line x1="436.77" y1="290.5" x2="436.77" y2="291.4" stroke="#999" stroke-width="0.5"/>
<line x1="438.76" y1="290.5" x2="438.76" y2="291.4" stroke="#999" stroke-width="0.5"/>
<line x1="440.31" y1="290.5" x2="440.31" y2="291.4" stroke="#999" stroke-width="0.5"/>
<line x1="441.57" y1="290.5" x2="441.57" y2="291.4" stroke="#999" stroke-width="0.5"/>
<line x1="442.63" y1="290.5" x2="442.63" y2="291.4" stroke="#999" stroke-width="0.5"/>
<line x1="443.56" y1="290.5" x2="443.56" y2="291.4" stroke="#999" stroke-width="0.5"/>
<line x1="444.37" y1="290.5" x2="444.37" y2="291.4" stroke="#999" stroke-width="0.5"/>
<line x1="445.10" y1="290.5" x2="445.10" y2="292.3" stroke="#777" stroke-width="0.6"/>
<text x="441.50" y="297.50" font-family="Liberation Sans, sans-serif" font-size="5.4" fill="#333" stroke="#333" stroke-width="0.12">10<tspan font-size="3.6" dy="-2">4</tspan></text>
<rect x="293.4" y="301.7" width="63.7" height="63.5" fill="none" stroke="#8a8a8a" stroke-width="0.8"/>
<line x1="291.59999999999997" y1="365.20" x2="293.4" y2="365.20" stroke="#777" stroke-width="0.6"/>
<text x="291.50" y="367.00" font-family="Liberation Sans, sans-serif" font-size="5.4" fill="#333" stroke="#333" stroke-width="0.12" text-anchor="end">0</text>
<line x1="291.59999999999997" y1="352.50" x2="293.4" y2="352.50" stroke="#777" stroke-width="0.6"/>
<text x="291.50" y="354.30" font-family="Liberation Sans, sans-serif" font-size="5.4" fill="#333" stroke="#333" stroke-width="0.12" text-anchor="end">20</text>
<line x1="291.59999999999997" y1="339.80" x2="293.4" y2="339.80" stroke="#777" stroke-width="0.6"/>
<text x="291.50" y="341.60" font-family="Liberation Sans, sans-serif" font-size="5.4" fill="#333" stroke="#333" stroke-width="0.12" text-anchor="end">40</text>
<line x1="291.59999999999997" y1="327.10" x2="293.4" y2="327.10" stroke="#777" stroke-width="0.6"/>
<text x="291.50" y="328.90" font-family="Liberation Sans, sans-serif" font-size="5.4" fill="#333" stroke="#333" stroke-width="0.12" text-anchor="end">60</text>
<line x1="291.59999999999997" y1="314.40" x2="293.4" y2="314.40" stroke="#777" stroke-width="0.6"/>
<text x="291.50" y="316.20" font-family="Liberation Sans, sans-serif" font-size="5.4" fill="#333" stroke="#333" stroke-width="0.12" text-anchor="end">80</text>
<line x1="291.59999999999997" y1="301.70" x2="293.4" y2="301.70" stroke="#777" stroke-width="0.6"/>
<text x="291.50" y="303.50" font-family="Liberation Sans, sans-serif" font-size="5.4" fill="#333" stroke="#333" stroke-width="0.12" text-anchor="end">100</text>
<line x1="292.5" y1="358.85" x2="293.4" y2="358.85" stroke="#999" stroke-width="0.5"/>
<line x1="292.5" y1="346.15" x2="293.4" y2="346.15" stroke="#999" stroke-width="0.5"/>
<line x1="292.5" y1="333.45" x2="293.4" y2="333.45" stroke="#999" stroke-width="0.5"/>
<line x1="292.5" y1="320.75" x2="293.4" y2="320.75" stroke="#999" stroke-width="0.5"/>
<line x1="292.5" y1="308.05" x2="293.4" y2="308.05" stroke="#999" stroke-width="0.5"/>
<line x1="293.40" y1="365.2" x2="293.40" y2="367.0" stroke="#777" stroke-width="0.6"/>
<text x="289.80" y="372.20" font-family="Liberation Sans, sans-serif" font-size="5.4" fill="#333" stroke="#333" stroke-width="0.12">10<tspan font-size="3.6" dy="-2">0</tspan></text>
<line x1="298.19" y1="365.2" x2="298.19" y2="366.09999999999997" stroke="#999" stroke-width="0.5"/>
<line x1="301.00" y1="365.2" x2="301.00" y2="366.09999999999997" stroke="#999" stroke-width="0.5"/>
<line x1="302.99" y1="365.2" x2="302.99" y2="366.09999999999997" stroke="#999" stroke-width="0.5"/>
<line x1="304.53" y1="365.2" x2="304.53" y2="366.09999999999997" stroke="#999" stroke-width="0.5"/>
<line x1="305.79" y1="365.2" x2="305.79" y2="366.09999999999997" stroke="#999" stroke-width="0.5"/>
<line x1="306.86" y1="365.2" x2="306.86" y2="366.09999999999997" stroke="#999" stroke-width="0.5"/>
<line x1="307.78" y1="365.2" x2="307.78" y2="366.09999999999997" stroke="#999" stroke-width="0.5"/>
<line x1="308.60" y1="365.2" x2="308.60" y2="366.09999999999997" stroke="#999" stroke-width="0.5"/>
<line x1="309.32" y1="365.2" x2="309.32" y2="367.0" stroke="#777" stroke-width="0.6"/>
<text x="305.72" y="372.20" font-family="Liberation Sans, sans-serif" font-size="5.4" fill="#333" stroke="#333" stroke-width="0.12">10<tspan font-size="3.6" dy="-2">1</tspan></text>
<line x1="314.12" y1="365.2" x2="314.12" y2="366.09999999999997" stroke="#999" stroke-width="0.5"/>
<line x1="316.92" y1="365.2" x2="316.92" y2="366.09999999999997" stroke="#999" stroke-width="0.5"/>
<line x1="318.91" y1="365.2" x2="318.91" y2="366.09999999999997" stroke="#999" stroke-width="0.5"/>
<line x1="320.46" y1="365.2" x2="320.46" y2="366.09999999999997" stroke="#999" stroke-width="0.5"/>
<line x1="321.72" y1="365.2" x2="321.72" y2="366.09999999999997" stroke="#999" stroke-width="0.5"/>
<line x1="322.78" y1="365.2" x2="322.78" y2="366.09999999999997" stroke="#999" stroke-width="0.5"/>
<line x1="323.71" y1="365.2" x2="323.71" y2="366.09999999999997" stroke="#999" stroke-width="0.5"/>
<line x1="324.52" y1="365.2" x2="324.52" y2="366.09999999999997" stroke="#999" stroke-width="0.5"/>
<line x1="325.25" y1="365.2" x2="325.25" y2="367.0" stroke="#777" stroke-width="0.6"/>
<text x="321.65" y="372.20" font-family="Liberation Sans, sans-serif" font-size="5.4" fill="#333" stroke="#333" stroke-width="0.12">10<tspan font-size="3.6" dy="-2">2</tspan></text>
<line x1="330.04" y1="365.2" x2="330.04" y2="366.09999999999997" stroke="#999" stroke-width="0.5"/>
<line x1="332.85" y1="365.2" x2="332.85" y2="366.09999999999997" stroke="#999" stroke-width="0.5"/>
<line x1="334.84" y1="365.2" x2="334.84" y2="366.09999999999997" stroke="#999" stroke-width="0.5"/>
<line x1="336.38" y1="365.2" x2="336.38" y2="366.09999999999997" stroke="#999" stroke-width="0.5"/>
<line x1="337.64" y1="365.2" x2="337.64" y2="366.09999999999997" stroke="#999" stroke-width="0.5"/>
<line x1="338.71" y1="365.2" x2="338.71" y2="366.09999999999997" stroke="#999" stroke-width="0.5"/>
<line x1="339.63" y1="365.2" x2="339.63" y2="366.09999999999997" stroke="#999" stroke-width="0.5"/>
<line x1="340.45" y1="365.2" x2="340.45" y2="366.09999999999997" stroke="#999" stroke-width="0.5"/>
<line x1="341.17" y1="365.2" x2="341.17" y2="367.0" stroke="#777" stroke-width="0.6"/>
<text x="337.57" y="372.20" font-family="Liberation Sans, sans-serif" font-size="5.4" fill="#333" stroke="#333" stroke-width="0.12">10<tspan font-size="3.6" dy="-2">3</tspan></text>
<line x1="345.97" y1="365.2" x2="345.97" y2="366.09999999999997" stroke="#999" stroke-width="0.5"/>
<line x1="348.77" y1="365.2" x2="348.77" y2="366.09999999999997" stroke="#999" stroke-width="0.5"/>
<line x1="350.76" y1="365.2" x2="350.76" y2="366.09999999999997" stroke="#999" stroke-width="0.5"/>
<line x1="352.31" y1="365.2" x2="352.31" y2="366.09999999999997" stroke="#999" stroke-width="0.5"/>
<line x1="353.57" y1="365.2" x2="353.57" y2="366.09999999999997" stroke="#999" stroke-width="0.5"/>
<line x1="354.63" y1="365.2" x2="354.63" y2="366.09999999999997" stroke="#999" stroke-width="0.5"/>
<line x1="355.56" y1="365.2" x2="355.56" y2="366.09999999999997" stroke="#999" stroke-width="0.5"/>
<line x1="356.37" y1="365.2" x2="356.37" y2="366.09999999999997" stroke="#999" stroke-width="0.5"/>
<line x1="357.10" y1="365.2" x2="357.10" y2="367.0" stroke="#777" stroke-width="0.6"/>
<text x="353.50" y="372.20" font-family="Liberation Sans, sans-serif" font-size="5.4" fill="#333" stroke="#333" stroke-width="0.12">10<tspan font-size="3.6" dy="-2">4</tspan></text>
<rect x="381.4" y="301.7" width="63.7" height="63.5" fill="none" stroke="#8a8a8a" stroke-width="0.8"/>
<line x1="379.59999999999997" y1="365.20" x2="381.4" y2="365.20" stroke="#777" stroke-width="0.6"/>
<text x="379.50" y="367.00" font-family="Liberation Sans, sans-serif" font-size="5.4" fill="#333" stroke="#333" stroke-width="0.12" text-anchor="end">0</text>
<line x1="379.59999999999997" y1="352.50" x2="381.4" y2="352.50" stroke="#777" stroke-width="0.6"/>
<text x="379.50" y="354.30" font-family="Liberation Sans, sans-serif" font-size="5.4" fill="#333" stroke="#333" stroke-width="0.12" text-anchor="end">20</text>
<line x1="379.59999999999997" y1="339.80" x2="381.4" y2="339.80" stroke="#777" stroke-width="0.6"/>
<text x="379.50" y="341.60" font-family="Liberation Sans, sans-serif" font-size="5.4" fill="#333" stroke="#333" stroke-width="0.12" text-anchor="end">40</text>
<line x1="379.59999999999997" y1="327.10" x2="381.4" y2="327.10" stroke="#777" stroke-width="0.6"/>
<text x="379.50" y="328.90" font-family="Liberation Sans, sans-serif" font-size="5.4" fill="#333" stroke="#333" stroke-width="0.12" text-anchor="end">60</text>
<line x1="379.59999999999997" y1="314.40" x2="381.4" y2="314.40" stroke="#777" stroke-width="0.6"/>
<text x="379.50" y="316.20" font-family="Liberation Sans, sans-serif" font-size="5.4" fill="#333" stroke="#333" stroke-width="0.12" text-anchor="end">80</text>
<line x1="379.59999999999997" y1="301.70" x2="381.4" y2="301.70" stroke="#777" stroke-width="0.6"/>
<text x="379.50" y="303.50" font-family="Liberation Sans, sans-serif" font-size="5.4" fill="#333" stroke="#333" stroke-width="0.12" text-anchor="end">100</text>
<line x1="380.5" y1="358.85" x2="381.4" y2="358.85" stroke="#999" stroke-width="0.5"/>
<line x1="380.5" y1="346.15" x2="381.4" y2="346.15" stroke="#999" stroke-width="0.5"/>
<line x1="380.5" y1="333.45" x2="381.4" y2="333.45" stroke="#999" stroke-width="0.5"/>
<line x1="380.5" y1="320.75" x2="381.4" y2="320.75" stroke="#999" stroke-width="0.5"/>
<line x1="380.5" y1="308.05" x2="381.4" y2="308.05" stroke="#999" stroke-width="0.5"/>
<line x1="381.40" y1="365.2" x2="381.40" y2="367.0" stroke="#777" stroke-width="0.6"/>
<text x="377.80" y="372.20" font-family="Liberation Sans, sans-serif" font-size="5.4" fill="#333" stroke="#333" stroke-width="0.12">10<tspan font-size="3.6" dy="-2">0</tspan></text>
<line x1="386.19" y1="365.2" x2="386.19" y2="366.09999999999997" stroke="#999" stroke-width="0.5"/>
<line x1="389.00" y1="365.2" x2="389.00" y2="366.09999999999997" stroke="#999" stroke-width="0.5"/>
<line x1="390.99" y1="365.2" x2="390.99" y2="366.09999999999997" stroke="#999" stroke-width="0.5"/>
<line x1="392.53" y1="365.2" x2="392.53" y2="366.09999999999997" stroke="#999" stroke-width="0.5"/>
<line x1="393.79" y1="365.2" x2="393.79" y2="366.09999999999997" stroke="#999" stroke-width="0.5"/>
<line x1="394.86" y1="365.2" x2="394.86" y2="366.09999999999997" stroke="#999" stroke-width="0.5"/>
<line x1="395.78" y1="365.2" x2="395.78" y2="366.09999999999997" stroke="#999" stroke-width="0.5"/>
<line x1="396.60" y1="365.2" x2="396.60" y2="366.09999999999997" stroke="#999" stroke-width="0.5"/>
<line x1="397.32" y1="365.2" x2="397.32" y2="367.0" stroke="#777" stroke-width="0.6"/>
<text x="393.72" y="372.20" font-family="Liberation Sans, sans-serif" font-size="5.4" fill="#333" stroke="#333" stroke-width="0.12">10<tspan font-size="3.6" dy="-2">1</tspan></text>
<line x1="402.12" y1="365.2" x2="402.12" y2="366.09999999999997" stroke="#999" stroke-width="0.5"/>
<line x1="404.92" y1="365.2" x2="404.92" y2="366.09999999999997" stroke="#999" stroke-width="0.5"/>
<line x1="406.91" y1="365.2" x2="406.91" y2="366.09999999999997" stroke="#999" stroke-width="0.5"/>
<line x1="408.46" y1="365.2" x2="408.46" y2="366.09999999999997" stroke="#999" stroke-width="0.5"/>
<line x1="409.72" y1="365.2" x2="409.72" y2="366.09999999999997" stroke="#999" stroke-width="0.5"/>
<line x1="410.78" y1="365.2" x2="410.78" y2="366.09999999999997" stroke="#999" stroke-width="0.5"/>
<line x1="411.71" y1="365.2" x2="411.71" y2="366.09999999999997" stroke="#999" stroke-width="0.5"/>
<line x1="412.52" y1="365.2" x2="412.52" y2="366.09999999999997" stroke="#999" stroke-width="0.5"/>
<line x1="413.25" y1="365.2" x2="413.25" y2="367.0" stroke="#777" stroke-width="0.6"/>
<text x="409.65" y="372.20" font-family="Liberation Sans, sans-serif" font-size="5.4" fill="#333" stroke="#333" stroke-width="0.12">10<tspan font-size="3.6" dy="-2">2</tspan></text>
<line x1="418.04" y1="365.2" x2="418.04" y2="366.09999999999997" stroke="#999" stroke-width="0.5"/>
<line x1="420.85" y1="365.2" x2="420.85" y2="366.09999999999997" stroke="#999" stroke-width="0.5"/>
<line x1="422.84" y1="365.2" x2="422.84" y2="366.09999999999997" stroke="#999" stroke-width="0.5"/>
<line x1="424.38" y1="365.2" x2="424.38" y2="366.09999999999997" stroke="#999" stroke-width="0.5"/>
<line x1="425.64" y1="365.2" x2="425.64" y2="366.09999999999997" stroke="#999" stroke-width="0.5"/>
<line x1="426.71" y1="365.2" x2="426.71" y2="366.09999999999997" stroke="#999" stroke-width="0.5"/>
<line x1="427.63" y1="365.2" x2="427.63" y2="366.09999999999997" stroke="#999" stroke-width="0.5"/>
<line x1="428.45" y1="365.2" x2="428.45" y2="366.09999999999997" stroke="#999" stroke-width="0.5"/>
<line x1="429.17" y1="365.2" x2="429.17" y2="367.0" stroke="#777" stroke-width="0.6"/>
<text x="425.57" y="372.20" font-family="Liberation Sans, sans-serif" font-size="5.4" fill="#333" stroke="#333" stroke-width="0.12">10<tspan font-size="3.6" dy="-2">3</tspan></text>
<line x1="433.97" y1="365.2" x2="433.97" y2="366.09999999999997" stroke="#999" stroke-width="0.5"/>
<line x1="436.77" y1="365.2" x2="436.77" y2="366.09999999999997" stroke="#999" stroke-width="0.5"/>
<line x1="438.76" y1="365.2" x2="438.76" y2="366.09999999999997" stroke="#999" stroke-width="0.5"/>
<line x1="440.31" y1="365.2" x2="440.31" y2="366.09999999999997" stroke="#999" stroke-width="0.5"/>
<line x1="441.57" y1="365.2" x2="441.57" y2="366.09999999999997" stroke="#999" stroke-width="0.5"/>
<line x1="442.63" y1="365.2" x2="442.63" y2="366.09999999999997" stroke="#999" stroke-width="0.5"/>
<line x1="443.56" y1="365.2" x2="443.56" y2="366.09999999999997" stroke="#999" stroke-width="0.5"/>
<line x1="444.37" y1="365.2" x2="444.37" y2="366.09999999999997" stroke="#999" stroke-width="0.5"/>
<line x1="445.10" y1="365.2" x2="445.10" y2="367.0" stroke="#777" stroke-width="0.6"/>
<text x="441.50" y="372.20" font-family="Liberation Sans, sans-serif" font-size="5.4" fill="#333" stroke="#333" stroke-width="0.12">10<tspan font-size="3.6" dy="-2">4</tspan></text>
<polyline points="294.00,286.76 294.36,286.47 294.85,286.04 295.44,285.34 296.07,284.53 296.39,283.82 296.72,282.86 297.05,282.52 297.39,281.11 297.64,280.99 297.89,280.39 298.14,279.74 298.39,278.43 298.65,278.23 298.90,277.72 299.09,276.47 299.27,275.63 299.46,275.30 299.65,275.18 299.82,273.53 299.99,272.71 300.16,272.59 300.33,272.14 300.46,271.68 300.58,270.58 300.70,270.73 300.83,269.21 300.95,269.24 301.06,267.77 301.18,267.03 301.29,266.48 301.41,265.72 301.52,265.58 301.63,264.94 301.74,263.79 301.85,263.99 301.96,262.60 302.07,261.64 302.17,260.97 302.28,260.94 302.39,260.46 302.50,258.85 302.60,257.98 302.71,258.22 302.82,256.91 302.93,257.14 303.04,255.90 303.15,255.40 303.26,254.40 303.37,254.31 303.48,253.26 303.60,252.45 303.71,252.51 303.82,250.90 303.94,251.01 304.05,249.56 304.17,249.61 304.28,248.67 304.39,248.61 304.51,247.02 304.62,247.00 304.73,246.20 304.84,246.18 304.98,245.50 305.11,244.40 305.24,243.21 305.38,242.53 305.50,241.92 305.62,241.51 305.74,240.65 305.86,240.00 306.00,239.98 306.14,239.16 306.28,238.07 306.47,238.06 306.66,236.28 306.84,235.99 307.01,234.78 307.17,235.02 307.34,234.42 307.67,232.63 307.99,232.13 308.31,231.15 308.61,229.71 308.90,229.49 309.17,230.14 309.30,231.31 309.43,231.11 309.51,232.42 309.59,233.01 309.67,233.53 309.73,234.33 309.79,235.35 309.85,235.19 309.90,236.65 309.96,236.75 310.02,237.99 310.08,238.82 310.14,238.74 310.19,240.17 310.23,240.94 310.28,240.72 310.33,241.00 310.38,241.72 310.43,243.42 310.47,242.93 310.52,244.68 310.57,244.44 310.62,245.81 310.65,245.66 310.69,246.37 310.73,247.61 310.77,247.53 310.80,248.45 310.84,249.77 310.88,250.18 310.92,251.03 310.96,251.81 311.00,251.33 311.04,252.23 311.08,253.55 311.12,254.08 311.17,253.95 311.22,255.17 311.26,255.50 311.31,256.39 311.35,256.65 311.41,257.17 311.46,258.95 311.52,258.76 311.57,260.06 311.63,259.77 311.69,260.82 311.75,261.00 311.82,261.95 311.88,262.25 311.95,263.46 312.01,263.42 312.08,264.73 312.15,265.05 312.22,265.18 312.30,266.08 312.37,266.85 312.44,267.96 312.51,267.89 312.61,268.42 312.71,270.03 312.80,270.62 312.90,271.14 312.99,271.29 313.10,271.82 313.20,272.57 313.31,272.98 313.41,273.59 313.52,274.79 313.66,275.36 313.81,276.23 313.95,276.70 314.10,276.97 314.31,278.55 314.53,279.27 314.74,279.90 314.98,280.55 315.22,281.36 315.45,282.35 315.83,283.02 316.20,283.64 316.58,283.93 316.97,284.52 317.34,285.23 317.71,286.43 318.41,286.74 319.06,287.39 319.74,287.86 320.51,288.09 321.43,288.88 322.21,288.92 322.79,289.49 323.63,289.87 324.40,289.90 325.18,290.10 325.85,290.12 326.52,290.15 327.19,290.20 327.86,290.24 328.52,290.36 329.18,290.38 329.84,290.41 330.50,290.31 331.16,290.42 331.81,290.39 332.47,290.45 333.10,290.44 333.72,290.42 334.35,290.52 334.97,290.38 335.59,290.50 336.22,290.52 336.84,290.47 337.47,290.49 338.09,290.56 338.71,290.45 339.32,290.51 339.93,290.53 340.54,290.48 341.15,290.52 341.76,290.48 342.37,290.50 342.98,290.51 343.59,290.52 344.19,290.47 344.80,290.52 345.41,290.51 346.08,290.46 346.74,290.52 347.41,290.47 348.07,290.56 348.74,290.49 349.40,290.53 350.07,290.50 350.73,290.49 351.40,290.45 352.08,290.44 352.76,290.56 353.44,290.50 354.13,290.50 354.81,290.50 355.49,290.50" fill="none" stroke="#a0a0a0" stroke-width="0.9" stroke-linejoin="round"/>
<polyline points="294.00,286.76 294.36,286.47 294.85,286.04 295.44,285.34 296.07,284.53 296.39,283.82 296.72,282.86 297.05,282.52 297.39,281.11 297.64,280.99 297.89,280.39 298.14,279.74 298.39,278.43 298.65,278.23 298.90,277.72 299.09,276.47 299.27,275.63 299.46,275.30 299.65,275.18 299.82,273.53 299.99,272.71 300.16,272.59 300.33,272.14 300.46,271.68 300.58,270.58 300.70,270.73 300.83,269.21 300.95,269.24 301.06,267.77 301.18,267.03 301.29,266.48 301.41,265.72 301.52,265.58 301.63,264.94 301.74,263.79 301.85,263.99 301.96,262.60 302.07,261.64 302.17,260.97 302.28,260.94 302.39,260.46 302.50,258.85 302.60,257.98 302.71,258.22 302.82,256.91 302.93,257.14 303.04,255.90 303.15,255.40 303.26,254.40 303.37,254.31 303.48,253.26 303.60,252.45 303.71,252.51 303.82,250.90 303.94,251.01 304.05,249.56 304.17,249.61 304.28,248.67 304.39,248.61 304.51,247.02 304.62,247.00 304.73,246.20 304.84,246.18 304.98,245.50 305.11,244.40 305.24,243.21 305.38,242.53 305.50,241.92 305.62,241.51 305.74,240.65 305.86,240.00 306.00,239.98 306.14,239.16 306.28,238.07 306.47,238.06 306.66,236.28 306.84,235.99 307.01,234.78 307.17,235.02 307.34,234.42 307.67,232.63 307.99,232.13 308.31,231.15 308.61,229.71 308.90,229.49 309.17,230.14 309.30,231.31 309.43,231.11 309.51,232.42 309.59,233.01 309.67,233.53 309.73,234.33 309.79,235.35 309.85,235.19 309.90,236.65 309.96,236.75 310.02,237.99 310.08,238.82 310.14,238.74 310.19,240.17 310.23,240.94 310.28,240.72 310.33,241.00 310.38,241.72 310.43,243.42 310.47,242.93 310.52,244.68 310.57,244.44 310.62,245.81 310.65,245.66 310.69,246.37 310.73,247.61 310.77,247.53 310.80,248.45 310.84,249.77 310.88,250.18 310.92,251.03 310.96,251.81 311.00,251.33 311.04,252.23 311.08,253.55 311.12,254.08 311.17,253.95 311.22,255.17 311.26,255.50 311.31,256.39 311.35,256.65 311.41,257.17 311.46,258.95 311.52,258.76 311.57,260.06 311.63,259.77 311.69,260.82 311.75,261.00 311.82,261.95 311.88,262.25 311.95,263.46 312.01,263.42 312.08,264.73 312.15,265.05 312.22,265.18 312.30,266.08 312.37,266.85 312.44,267.96 312.51,267.89 312.61,268.42 312.71,270.03 312.80,270.62 312.90,271.14 312.99,271.29 313.10,271.82 313.20,272.57 313.31,272.98 313.41,273.59 313.52,274.79 313.66,275.36 313.81,276.23 313.95,276.70 314.10,276.97 314.31,278.55 314.53,279.27 314.74,279.90 314.98,280.55 315.22,281.36 315.45,282.35 315.83,283.02 316.20,283.64 316.58,283.93 316.97,284.52 317.34,285.23 317.71,286.43 318.41,286.74 319.06,287.39 319.74,287.86 320.51,288.09 321.43,288.88 322.21,288.92 322.79,289.49 323.63,289.87 324.40,289.90 325.18,290.10 325.85,290.12 326.52,290.15 327.19,290.20 327.86,290.24 328.52,290.36 329.18,290.38 329.84,290.41 330.50,290.31 331.16,290.42 331.81,290.39 332.47,290.45 333.10,290.44 333.72,290.42 334.35,290.52 334.97,290.38 335.59,290.50 336.22,290.52 336.84,290.47 337.47,290.49 338.09,290.56 338.71,290.45 339.32,290.51 339.93,290.53 340.54,290.48 341.15,290.52 341.76,290.48 342.37,290.50 342.98,290.51 343.59,290.52 344.19,290.47 344.80,290.52 345.41,290.51 346.08,290.46 346.74,290.52 347.41,290.47 348.07,290.56 348.74,290.49 349.40,290.53 350.07,290.50 350.73,290.49 351.40,290.45 352.08,290.44 352.76,290.56 353.44,290.50 354.13,290.50 354.81,290.50 355.49,290.50" fill="none" stroke="#4a4a4a" stroke-width="0.9" stroke-linejoin="round" stroke-dasharray="3 2"/>
<polyline points="294.00,290.55 294.60,289.77 295.02,289.26 295.44,289.01 295.93,288.29 296.43,287.83 296.95,287.36 297.48,286.82 298.00,286.14 298.52,284.45 298.89,284.34 299.25,284.37 299.61,283.84 300.01,282.45 300.40,281.93 300.80,281.49 301.20,280.69 301.60,280.39 301.99,280.31 302.37,279.29 302.74,278.53 303.11,277.41 303.34,277.21 303.58,277.36 303.81,276.42 304.05,275.56 304.23,274.94 304.42,274.67 304.60,273.97 304.79,272.59 304.94,272.50 305.08,271.40 305.23,270.85 305.38,269.79 305.48,269.33 305.58,268.68 305.68,268.11 305.78,267.06 305.88,266.66 305.97,266.48 306.06,265.24 306.15,264.75 306.23,264.78 306.32,263.62 306.41,263.07 306.50,262.36 306.59,262.46 306.67,260.96 306.76,261.00 306.85,260.66 306.94,259.27 307.02,258.93 307.11,258.77 307.20,257.95 307.28,257.04 307.36,256.03 307.44,255.89 307.52,255.18 307.59,254.97 307.67,253.86 307.74,253.38 307.81,253.06 307.88,252.64 307.96,251.47 308.04,250.78 308.12,250.27 308.20,249.95 308.28,248.33 308.35,248.58 308.43,247.58 308.50,246.49 308.57,246.16 308.63,245.11 308.69,244.15 308.75,244.33 308.81,243.23 308.86,242.79 308.90,242.13 308.95,241.99 309.00,241.20 309.05,239.55 309.10,239.46 309.16,238.53 309.21,237.84 309.26,237.60 309.31,236.40 309.39,235.59 309.48,235.21 309.56,233.90 309.65,233.19 309.73,232.52 309.82,232.20 309.99,230.95 310.17,230.43 310.38,230.04 310.61,230.29 310.73,231.68 310.85,232.15 310.98,233.27 311.11,234.14 311.20,234.08 311.29,234.93 311.39,235.48 311.46,237.00 311.54,236.77 311.61,237.39 311.69,238.82 311.75,239.21 311.81,239.22 311.88,240.59 311.94,241.24 312.01,241.58 312.06,241.69 312.12,243.06 312.18,243.35 312.23,244.16 312.29,245.28 312.34,245.67 312.40,246.40 312.46,246.20 312.52,247.09 312.58,247.98 312.64,248.03 312.70,249.88 312.77,249.69 312.83,250.35 312.90,251.08 312.96,251.68 313.02,253.07 313.09,253.38 313.15,253.95 313.22,254.47 313.29,254.65 313.36,255.58 313.43,256.88 313.49,257.43 313.57,258.09 313.64,257.97 313.71,258.50 313.79,258.92 313.86,260.10 313.93,260.50 314.01,261.20 314.09,261.83 314.17,262.55 314.25,262.88 314.32,264.01 314.40,263.88 314.50,265.44 314.60,265.70 314.70,265.79 314.79,266.80 314.89,267.76 314.99,268.26 315.09,269.09 315.19,269.44 315.29,270.03 315.39,271.30 315.52,271.41 315.65,272.62 315.78,273.44 315.91,273.89 316.03,274.33 316.15,275.50 316.28,275.51 316.40,276.63 316.56,276.32 316.72,277.45 316.88,278.37 317.05,278.25 317.21,279.82 317.38,279.46 317.67,280.88 317.95,281.17 318.28,282.82 318.62,283.13 319.03,284.13 319.44,284.48 319.90,285.33 320.37,285.96 320.87,286.12 321.37,286.63 321.85,287.63 322.34,287.63 322.79,288.49 323.24,288.54 323.64,289.15 323.60,289.59 323.73,289.98 324.64,290.19 325.41,290.17 326.19,290.26 326.96,290.26 327.61,290.37 328.27,290.36 328.92,290.30 329.57,290.31 330.23,290.42 330.88,290.35 331.53,290.48 332.18,290.41 332.82,290.40 333.46,290.46 334.10,290.43 334.74,290.47 335.39,290.42 336.03,290.53 336.67,290.45 337.31,290.53 337.95,290.44 338.59,290.53 339.23,290.56 339.86,290.48 340.50,290.43 341.13,290.48 341.77,290.52 342.40,290.46 343.04,290.51 343.67,290.44 344.31,290.50 344.94,290.53 345.57,290.49 346.20,290.53 346.82,290.44 347.45,290.55 348.08,290.44 348.71,290.56 349.33,290.57 349.96,290.56 350.59,290.50 351.21,290.46 351.83,290.47 352.44,290.53 353.05,290.50 353.66,290.56 354.27,290.44 354.88,290.50 355.49,290.50" fill="none" stroke="#8a8a8a" stroke-width="0.9" stroke-linejoin="round"/>
<polyline points="294.00,290.55 294.60,289.77 295.02,289.26 295.44,289.01 295.93,288.29 296.43,287.83 296.95,287.36 297.48,286.82 298.00,286.14 298.52,284.45 298.89,284.34 299.25,284.37 299.61,283.84 300.01,282.45 300.40,281.93 300.80,281.49 301.20,280.69 301.60,280.39 301.99,280.31 302.37,279.29 302.74,278.53 303.11,277.41 303.34,277.21 303.58,277.36 303.81,276.42 304.05,275.56 304.23,274.94 304.42,274.67 304.60,273.97 304.79,272.59 304.94,272.50 305.08,271.40 305.23,270.85 305.38,269.79 305.48,269.33 305.58,268.68 305.68,268.11 305.78,267.06 305.88,266.66 305.97,266.48 306.06,265.24 306.15,264.75 306.23,264.78 306.32,263.62 306.41,263.07 306.50,262.36 306.59,262.46 306.67,260.96 306.76,261.00 306.85,260.66 306.94,259.27 307.02,258.93 307.11,258.77 307.20,257.95 307.28,257.04 307.36,256.03 307.44,255.89 307.52,255.18 307.59,254.97 307.67,253.86 307.74,253.38 307.81,253.06 307.88,252.64 307.96,251.47 308.04,250.78 308.12,250.27 308.20,249.95 308.28,248.33 308.35,248.58 308.43,247.58 308.50,246.49 308.57,246.16 308.63,245.11 308.69,244.15 308.75,244.33 308.81,243.23 308.86,242.79 308.90,242.13 308.95,241.99 309.00,241.20 309.05,239.55 309.10,239.46 309.16,238.53 309.21,237.84 309.26,237.60 309.31,236.40 309.39,235.59 309.48,235.21 309.56,233.90 309.65,233.19 309.73,232.52 309.82,232.20 309.99,230.95 310.17,230.43 310.38,230.04 310.61,230.29 310.73,231.68 310.85,232.15 310.98,233.27 311.11,234.14 311.20,234.08 311.29,234.93 311.39,235.48 311.46,237.00 311.54,236.77 311.61,237.39 311.69,238.82 311.75,239.21 311.81,239.22 311.88,240.59 311.94,241.24 312.01,241.58 312.06,241.69 312.12,243.06 312.18,243.35 312.23,244.16 312.29,245.28 312.34,245.67 312.40,246.40 312.46,246.20 312.52,247.09 312.58,247.98 312.64,248.03 312.70,249.88 312.77,249.69 312.83,250.35 312.90,251.08 312.96,251.68 313.02,253.07 313.09,253.38 313.15,253.95 313.22,254.47 313.29,254.65 313.36,255.58 313.43,256.88 313.49,257.43 313.57,258.09 313.64,257.97 313.71,258.50 313.79,258.92 313.86,260.10 313.93,260.50 314.01,261.20 314.09,261.83 314.17,262.55 314.25,262.88 314.32,264.01 314.40,263.88 314.50,265.44 314.60,265.70 314.70,265.79 314.79,266.80 314.89,267.76 314.99,268.26 315.09,269.09 315.19,269.44 315.29,270.03 315.39,271.30 315.52,271.41 315.65,272.62 315.78,273.44 315.91,273.89 316.03,274.33 316.15,275.50 316.28,275.51 316.40,276.63 316.56,276.32 316.72,277.45 316.88,278.37 317.05,278.25 317.21,279.82 317.38,279.46 317.67,280.88 317.95,281.17 318.28,282.82 318.62,283.13 319.03,284.13 319.44,284.48 319.90,285.33 320.37,285.96 320.87,286.12 321.37,286.63 321.85,287.63 322.34,287.63 322.79,288.49 323.24,288.54 323.64,289.15 323.60,289.59 323.73,289.98 324.64,290.19 325.41,290.17 326.19,290.26 326.96,290.26 327.61,290.37 328.27,290.36 328.92,290.30 329.57,290.31 330.23,290.42 330.88,290.35 331.53,290.48 332.18,290.41 332.82,290.40 333.46,290.46 334.10,290.43 334.74,290.47 335.39,290.42 336.03,290.53 336.67,290.45 337.31,290.53 337.95,290.44 338.59,290.53 339.23,290.56 339.86,290.48 340.50,290.43 341.13,290.48 341.77,290.52 342.40,290.46 343.04,290.51 343.67,290.44 344.31,290.50 344.94,290.53 345.57,290.49 346.20,290.53 346.82,290.44 347.45,290.55 348.08,290.44 348.71,290.56 349.33,290.57 349.96,290.56 350.59,290.50 351.21,290.46 351.83,290.47 352.44,290.53 353.05,290.50 353.66,290.56 354.27,290.44 354.88,290.50 355.49,290.50" fill="none" stroke="#333" stroke-width="0.9" stroke-linejoin="round" stroke-dasharray="3 2"/>
<polyline points="381.80,283.50 382.19,282.52 382.72,281.58 383.04,280.49 383.36,280.00 383.70,279.50 384.04,279.58 384.38,278.75 384.72,277.23 384.95,277.46 385.18,275.78 385.41,275.86 385.65,275.60 385.90,274.16 386.15,274.19 386.34,273.27 386.53,271.97 386.72,271.74 386.91,271.31 387.09,270.45 387.28,270.43 387.46,269.14 387.65,269.26 387.82,268.03 387.99,267.11 388.16,267.06 388.33,265.86 388.49,265.73 388.64,265.33 388.80,264.42 388.95,263.59 389.10,262.35 389.25,262.20 389.39,260.98 389.54,260.92 389.65,259.70 389.76,259.63 389.87,258.75 389.98,258.18 390.10,257.92 390.20,256.70 390.31,256.08 390.42,256.39 390.52,255.03 390.63,255.03 390.73,254.43 390.84,253.33 390.94,252.30 391.04,251.61 391.15,251.92 391.25,250.32 391.35,250.09 391.45,249.45 391.55,248.27 391.66,248.00 391.74,247.02 391.82,246.85 391.91,246.19 391.99,245.40 392.07,244.58 392.15,244.21 392.23,243.36 392.31,242.65 392.39,242.17 392.47,242.32 392.55,241.26 392.63,241.12 392.72,239.40 392.80,239.86 392.89,238.65 392.98,238.35 393.07,237.43 393.16,236.92 393.26,235.72 393.36,235.70 393.46,234.33 393.57,233.84 393.67,232.94 393.78,232.75 393.92,232.21 394.05,231.26 394.29,231.08 394.52,229.67 394.76,230.25 395.02,230.27 395.28,231.59 395.41,232.48 395.54,233.06 395.67,233.15 395.80,234.24 395.89,235.38 395.98,236.55 396.07,236.13 396.14,237.48 396.21,238.23 396.27,239.03 396.34,239.13 396.40,240.32 396.45,240.53 396.51,241.71 396.56,241.24 396.62,242.99 396.68,243.05 396.73,243.75 396.79,244.06 396.84,244.95 396.90,246.24 396.95,246.79 397.00,246.77 397.04,247.62 397.09,247.99 397.14,248.68 397.19,249.32 397.23,250.08 397.28,251.48 397.33,252.13 397.38,252.50 397.43,252.75 397.48,253.40 397.52,254.40 397.57,255.23 397.62,255.71 397.67,256.24 397.72,256.39 397.77,257.57 397.81,258.46 397.85,259.02 397.89,258.82 397.93,260.20 397.97,260.38 398.02,260.79 398.06,262.38 398.10,262.66 398.14,263.38 398.18,263.28 398.23,264.75 398.27,265.51 398.31,266.11 398.35,266.55 398.40,267.34 398.46,267.98 398.51,268.42 398.56,268.91 398.61,270.07 398.66,270.70 398.72,271.49 398.79,271.49 398.85,272.97 398.92,273.14 398.98,274.32 399.06,273.98 399.14,275.67 399.22,276.11 399.30,276.13 399.41,277.53 399.52,277.50 399.62,278.15 399.79,279.31 399.96,279.90 400.15,280.94 400.34,282.17 400.57,282.59 400.79,283.31 401.06,283.56 401.32,284.67 401.91,285.72 402.55,286.44 403.22,287.40 403.91,287.97 404.10,288.38 403.81,288.88 403.79,289.59 404.81,290.02 405.52,290.03 406.22,290.15 406.92,290.26 407.62,290.34 408.26,290.25 408.89,290.34 409.52,290.29 410.15,290.33 410.78,290.45 411.42,290.41 412.05,290.46 412.68,290.46 413.31,290.47 413.93,290.45 414.55,290.48 415.17,290.56 415.79,290.53 416.42,290.49 417.04,290.46 417.66,290.49 418.28,290.56 418.90,290.53 419.52,290.56 420.14,290.59 420.76,290.50 421.38,290.58 422.01,290.49 422.64,290.60 423.26,290.51 423.89,290.52 424.52,290.62 425.15,290.53 425.78,290.51 426.41,290.61 427.04,290.57 427.67,290.61 428.30,290.53 428.93,290.55 429.56,290.61 430.18,290.55 430.79,290.61 431.40,290.50 432.01,290.58 432.62,290.49 433.23,290.54 433.84,290.46 434.45,290.48 435.06,290.59 435.66,290.51 436.27,290.56 436.88,290.48 437.49,290.49 438.10,290.45 438.77,290.52 439.45,290.56 440.12,290.51 440.80,290.49 441.47,290.57 442.14,290.56 442.82,290.53 443.49,290.50" fill="none" stroke="#a0a0a0" stroke-width="0.9" stroke-linejoin="round"/>
<polyline points="381.80,283.50 382.19,282.52 382.72,281.58 383.04,280.49 383.36,280.00 383.70,279.50 384.04,279.58 384.38,278.75 384.72,277.23 384.95,277.46 385.18,275.78 385.41,275.86 385.65,275.60 385.90,274.16 386.15,274.19 386.34,273.27 386.53,271.97 386.72,271.74 386.91,271.31 387.09,270.45 387.28,270.43 387.46,269.14 387.65,269.26 387.82,268.03 387.99,267.11 388.16,267.06 388.33,265.86 388.49,265.73 388.64,265.33 388.80,264.42 388.95,263.59 389.10,262.35 389.25,262.20 389.39,260.98 389.54,260.92 389.65,259.70 389.76,259.63 389.87,258.75 389.98,258.18 390.10,257.92 390.20,256.70 390.31,256.08 390.42,256.39 390.52,255.03 390.63,255.03 390.73,254.43 390.84,253.33 390.94,252.30 391.04,251.61 391.15,251.92 391.25,250.32 391.35,250.09 391.45,249.45 391.55,248.27 391.66,248.00 391.74,247.02 391.82,246.85 391.91,246.19 391.99,245.40 392.07,244.58 392.15,244.21 392.23,243.36 392.31,242.65 392.39,242.17 392.47,242.32 392.55,241.26 392.63,241.12 392.72,239.40 392.80,239.86 392.89,238.65 392.98,238.35 393.07,237.43 393.16,236.92 393.26,235.72 393.36,235.70 393.46,234.33 393.57,233.84 393.67,232.94 393.78,232.75 393.92,232.21 394.05,231.26 394.29,231.08 394.52,229.67 394.76,230.25 395.02,230.27 395.28,231.59 395.41,232.48 395.54,233.06 395.67,233.15 395.80,234.24 395.89,235.38 395.98,236.55 396.07,236.13 396.14,237.48 396.21,238.23 396.27,239.03 396.34,239.13 396.40,240.32 396.45,240.53 396.51,241.71 396.56,241.24 396.62,242.99 396.68,243.05 396.73,243.75 396.79,244.06 396.84,244.95 396.90,246.24 396.95,246.79 397.00,246.77 397.04,247.62 397.09,247.99 397.14,248.68 397.19,249.32 397.23,250.08 397.28,251.48 397.33,252.13 397.38,252.50 397.43,252.75 397.48,253.40 397.52,254.40 397.57,255.23 397.62,255.71 397.67,256.24 397.72,256.39 397.77,257.57 397.81,258.46 397.85,259.02 397.89,258.82 397.93,260.20 397.97,260.38 398.02,260.79 398.06,262.38 398.10,262.66 398.14,263.38 398.18,263.28 398.23,264.75 398.27,265.51 398.31,266.11 398.35,266.55 398.40,267.34 398.46,267.98 398.51,268.42 398.56,268.91 398.61,270.07 398.66,270.70 398.72,271.49 398.79,271.49 398.85,272.97 398.92,273.14 398.98,274.32 399.06,273.98 399.14,275.67 399.22,276.11 399.30,276.13 399.41,277.53 399.52,277.50 399.62,278.15 399.79,279.31 399.96,279.90 400.15,280.94 400.34,282.17 400.57,282.59 400.79,283.31 401.06,283.56 401.32,284.67 401.91,285.72 402.55,286.44 403.22,287.40 403.91,287.97 404.10,288.38 403.81,288.88 403.79,289.59 404.81,290.02 405.52,290.03 406.22,290.15 406.92,290.26 407.62,290.34 408.26,290.25 408.89,290.34 409.52,290.29 410.15,290.33 410.78,290.45 411.42,290.41 412.05,290.46 412.68,290.46 413.31,290.47 413.93,290.45 414.55,290.48 415.17,290.56 415.79,290.53 416.42,290.49 417.04,290.46 417.66,290.49 418.28,290.56 418.90,290.53 419.52,290.56 420.14,290.59 420.76,290.50 421.38,290.58 422.01,290.49 422.64,290.60 423.26,290.51 423.89,290.52 424.52,290.62 425.15,290.53 425.78,290.51 426.41,290.61 427.04,290.57 427.67,290.61 428.30,290.53 428.93,290.55 429.56,290.61 430.18,290.55 430.79,290.61 431.40,290.50 432.01,290.58 432.62,290.49 433.23,290.54 433.84,290.46 434.45,290.48 435.06,290.59 435.66,290.51 436.27,290.56 436.88,290.48 437.49,290.49 438.10,290.45 438.77,290.52 439.45,290.56 440.12,290.51 440.80,290.49 441.47,290.57 442.14,290.56 442.82,290.53 443.49,290.50" fill="none" stroke="#4a4a4a" stroke-width="0.9" stroke-linejoin="round" stroke-dasharray="3 2"/>
<polyline points="381.80,290.44 382.17,290.20 382.68,289.77 383.29,289.39 383.98,288.52 384.72,287.85 385.13,287.36 385.54,286.65 386.02,286.22 386.49,285.84 386.98,285.48 387.47,284.34 387.95,283.45 388.42,283.45 388.69,281.80 388.96,282.18 389.24,281.44 389.47,280.67 389.70,279.92 389.92,279.66 390.13,279.14 390.33,278.25 390.53,277.59 390.72,275.99 390.90,275.59 391.08,274.61 391.20,274.99 391.33,274.32 391.45,272.82 391.58,272.76 391.70,272.11 391.81,270.84 391.93,270.62 392.05,270.41 392.16,269.61 392.27,268.50 392.37,268.40 392.48,267.16 392.58,266.74 392.67,265.87 392.77,265.82 392.87,264.70 392.93,264.28 393.00,263.52 393.07,262.56 393.14,262.66 393.21,261.75 393.28,261.11 393.34,259.99 393.41,259.23 393.47,259.10 393.54,258.78 393.60,258.11 393.67,256.94 393.73,256.06 393.79,255.88 393.86,255.69 393.92,254.15 393.98,254.16 394.05,252.81 394.11,252.30 394.17,251.31 394.22,250.99 394.27,250.49 394.32,250.58 394.37,249.96 394.42,248.42 394.47,247.96 394.52,248.12 394.56,246.62 394.61,246.16 394.66,245.69 394.70,244.69 394.75,244.27 394.80,243.77 394.86,243.09 394.91,243.12 394.96,241.62 395.02,240.88 395.08,241.05 395.14,239.82 395.20,239.60 395.27,238.68 395.34,238.09 395.41,236.77 395.49,235.82 395.55,235.86 395.62,234.84 395.69,234.26 395.78,233.62 395.87,232.94 396.06,231.56 396.27,231.83 396.38,233.18 396.49,233.41 396.55,233.73 396.61,234.74 396.67,234.90 396.72,236.12 396.77,235.87 396.82,237.44 396.87,237.75 396.91,238.13 396.96,239.45 397.01,239.35 397.06,240.02 397.11,240.51 397.16,241.79 397.21,242.73 397.26,243.35 397.32,243.73 397.37,244.91 397.42,244.79 397.48,245.73 397.52,246.76 397.57,247.78 397.62,248.01 397.67,248.71 397.71,249.44 397.76,249.62 397.80,250.88 397.85,251.25 397.89,251.38 397.94,252.05 397.98,253.15 398.02,253.21 398.07,253.63 398.11,255.08 398.16,255.30 398.20,255.92 398.25,256.72 398.29,257.63 398.34,257.34 398.38,258.22 398.42,258.49 398.47,259.51 398.51,260.22 398.56,261.25 398.60,261.63 398.65,262.12 398.69,262.52 398.74,263.34 398.79,263.60 398.84,264.90 398.89,265.45 398.93,266.13 398.98,265.92 399.03,267.19 399.08,267.92 399.13,268.25 399.18,269.37 399.23,270.01 399.29,270.54 399.34,271.35 399.40,271.86 399.45,272.86 399.51,272.61 399.56,273.94 399.62,274.59 399.67,275.13 399.76,275.50 399.85,276.02 399.94,277.44 400.06,278.40 400.17,278.43 400.29,279.05 400.43,279.66 400.58,280.10 400.73,281.40 400.98,282.51 401.23,283.06 401.51,283.16 401.78,284.19 402.08,283.97 402.38,285.42 403.00,285.72 403.64,286.13 404.29,287.14 404.99,287.03 405.76,287.35 406.62,287.46 407.60,287.95 408.69,288.18 409.84,288.45 411.01,288.22 412.14,288.81 412.93,288.83 413.38,289.26 414.00,289.74 414.63,289.86 415.27,290.03 415.87,290.12 416.47,290.13 417.07,290.28 417.67,290.25 418.28,290.36 418.89,290.38 419.50,290.36 420.12,290.31 420.73,290.43 421.34,290.34 421.95,290.43 422.60,290.43 423.24,290.38 423.89,290.47 424.54,290.49 425.19,290.48 425.83,290.46 426.48,290.48 427.13,290.50 427.78,290.45 428.40,290.54 429.03,290.56 429.66,290.54 430.29,290.56 430.91,290.47 431.54,290.57 432.17,290.44 432.79,290.50 433.42,290.45 434.05,290.50 434.67,290.53 435.29,290.53 435.92,290.49 436.54,290.48 437.16,290.45 437.79,290.48 438.41,290.47 439.03,290.45 439.66,290.53 440.30,290.50 440.93,290.49 441.57,290.45 442.21,290.53 442.85,290.46 443.49,290.50" fill="none" stroke="#8a8a8a" stroke-width="0.9" stroke-linejoin="round"/>
<polyline points="381.80,290.44 382.17,290.20 382.68,289.77 383.29,289.39 383.98,288.52 384.72,287.85 385.13,287.36 385.54,286.65 386.02,286.22 386.49,285.84 386.98,285.48 387.47,284.34 387.95,283.45 388.42,283.45 388.69,281.80 388.96,282.18 389.24,281.44 389.47,280.67 389.70,279.92 389.92,279.66 390.13,279.14 390.33,278.25 390.53,277.59 390.72,275.99 390.90,275.59 391.08,274.61 391.20,274.99 391.33,274.32 391.45,272.82 391.58,272.76 391.70,272.11 391.81,270.84 391.93,270.62 392.05,270.41 392.16,269.61 392.27,268.50 392.37,268.40 392.48,267.16 392.58,266.74 392.67,265.87 392.77,265.82 392.87,264.70 392.93,264.28 393.00,263.52 393.07,262.56 393.14,262.66 393.21,261.75 393.28,261.11 393.34,259.99 393.41,259.23 393.47,259.10 393.54,258.78 393.60,258.11 393.67,256.94 393.73,256.06 393.79,255.88 393.86,255.69 393.92,254.15 393.98,254.16 394.05,252.81 394.11,252.30 394.17,251.31 394.22,250.99 394.27,250.49 394.32,250.58 394.37,249.96 394.42,248.42 394.47,247.96 394.52,248.12 394.56,246.62 394.61,246.16 394.66,245.69 394.70,244.69 394.75,244.27 394.80,243.77 394.86,243.09 394.91,243.12 394.96,241.62 395.02,240.88 395.08,241.05 395.14,239.82 395.20,239.60 395.27,238.68 395.34,238.09 395.41,236.77 395.49,235.82 395.55,235.86 395.62,234.84 395.69,234.26 395.78,233.62 395.87,232.94 396.06,231.56 396.27,231.83 396.38,233.18 396.49,233.41 396.55,233.73 396.61,234.74 396.67,234.90 396.72,236.12 396.77,235.87 396.82,237.44 396.87,237.75 396.91,238.13 396.96,239.45 397.01,239.35 397.06,240.02 397.11,240.51 397.16,241.79 397.21,242.73 397.26,243.35 397.32,243.73 397.37,244.91 397.42,244.79 397.48,245.73 397.52,246.76 397.57,247.78 397.62,248.01 397.67,248.71 397.71,249.44 397.76,249.62 397.80,250.88 397.85,251.25 397.89,251.38 397.94,252.05 397.98,253.15 398.02,253.21 398.07,253.63 398.11,255.08 398.16,255.30 398.20,255.92 398.25,256.72 398.29,257.63 398.34,257.34 398.38,258.22 398.42,258.49 398.47,259.51 398.51,260.22 398.56,261.25 398.60,261.63 398.65,262.12 398.69,262.52 398.74,263.34 398.79,263.60 398.84,264.90 398.89,265.45 398.93,266.13 398.98,265.92 399.03,267.19 399.08,267.92 399.13,268.25 399.18,269.37 399.23,270.01 399.29,270.54 399.34,271.35 399.40,271.86 399.45,272.86 399.51,272.61 399.56,273.94 399.62,274.59 399.67,275.13 399.76,275.50 399.85,276.02 399.94,277.44 400.06,278.40 400.17,278.43 400.29,279.05 400.43,279.66 400.58,280.10 400.73,281.40 400.98,282.51 401.23,283.06 401.51,283.16 401.78,284.19 402.08,283.97 402.38,285.42 403.00,285.72 403.64,286.13 404.29,287.14 404.99,287.03 405.76,287.35 406.62,287.46 407.60,287.95 408.69,288.18 409.84,288.45 411.01,288.22 412.14,288.81 412.93,288.83 413.38,289.26 414.00,289.74 414.63,289.86 415.27,290.03 415.87,290.12 416.47,290.13 417.07,290.28 417.67,290.25 418.28,290.36 418.89,290.38 419.50,290.36 420.12,290.31 420.73,290.43 421.34,290.34 421.95,290.43 422.60,290.43 423.24,290.38 423.89,290.47 424.54,290.49 425.19,290.48 425.83,290.46 426.48,290.48 427.13,290.50 427.78,290.45 428.40,290.54 429.03,290.56 429.66,290.54 430.29,290.56 430.91,290.47 431.54,290.57 432.17,290.44 432.79,290.50 433.42,290.45 434.05,290.50 434.67,290.53 435.29,290.53 435.92,290.49 436.54,290.48 437.16,290.45 437.79,290.48 438.41,290.47 439.03,290.45 439.66,290.53 440.30,290.50 440.93,290.49 441.57,290.45 442.21,290.53 442.85,290.46 443.49,290.50" fill="none" stroke="#333" stroke-width="0.9" stroke-linejoin="round" stroke-dasharray="3 2"/>
<polyline points="294.00,354.08 294.12,353.73 294.23,353.19 294.34,352.87 294.45,351.96 294.55,351.55 294.68,350.74 294.81,349.72 294.94,348.94 295.04,347.50 295.15,347.02 295.26,346.14 295.36,346.51 295.47,345.65 295.59,344.85 295.70,343.73 295.81,343.15 295.91,342.31 296.01,342.27 296.11,342.09 296.21,340.66 296.30,339.74 296.41,339.21 296.52,338.74 296.63,338.71 296.75,337.91 296.86,336.81 296.95,335.79 297.05,335.20 297.14,334.66 297.24,334.82 297.34,333.85 297.43,333.88 297.55,333.09 297.66,332.25 297.77,331.17 297.89,330.89 298.00,329.35 298.10,328.69 298.21,328.60 298.31,327.90 298.42,326.90 298.52,326.32 298.65,325.31 298.77,325.65 298.89,324.69 299.01,324.24 299.13,323.59 299.25,322.24 299.37,321.90 299.48,320.79 299.60,320.65 299.71,320.03 299.82,318.53 299.93,317.73 300.04,317.37 300.14,317.22 300.25,316.37 300.35,315.32 300.48,315.59 300.61,314.82 300.73,313.71 300.85,312.52 300.96,312.84 301.07,311.73 301.17,310.51 301.27,310.14 301.37,309.84 301.50,309.30 301.64,307.97 301.77,307.56 301.89,306.45 302.14,306.05 302.37,307.63 302.44,307.62 302.51,307.91 302.58,309.11 302.64,309.29 302.71,310.12 302.78,311.16 302.85,311.93 302.92,312.60 302.99,313.29 303.25,313.68 303.56,312.22 303.67,312.26 303.79,310.71 303.91,310.46 304.00,309.73 304.09,309.42 304.18,308.82 304.27,307.61 304.39,307.44 304.51,306.83 304.63,305.91 304.95,305.02 305.10,306.59 305.24,306.88 305.31,306.86 305.37,307.70 305.44,309.23 305.50,308.94 305.55,309.79 305.60,310.91 305.65,311.60 305.70,312.02 305.75,312.80 305.80,312.66 305.85,313.43 305.90,315.19 305.95,315.68 306.00,315.46 306.05,316.14 306.10,317.03 306.16,318.52 306.21,318.32 306.26,319.53 306.31,320.48 306.37,320.77 306.42,321.75 306.48,321.60 306.53,322.11 306.58,322.63 306.64,324.21 306.69,324.11 306.74,325.83 306.80,326.20 306.85,326.27 306.91,327.71 306.96,327.63 307.02,328.75 307.07,328.95 307.13,330.45 307.19,331.25 307.24,331.95 307.30,331.53 307.36,333.23 307.42,333.50 307.48,334.44 307.54,334.68 307.61,335.45 307.67,336.04 307.75,337.01 307.83,336.86 307.92,337.55 308.00,338.86 308.09,339.23 308.18,340.04 308.27,340.25 308.36,341.81 308.45,341.59 308.54,343.20 308.63,343.82 308.73,344.04 308.82,344.24 308.91,345.48 309.01,345.56 309.10,346.43 309.23,346.81 309.35,348.61 309.48,348.85 309.60,349.33 309.72,349.73 309.84,351.20 309.96,352.01 310.08,352.67 310.19,352.44 310.32,353.37 310.44,353.91 310.56,355.08 310.75,355.19 310.95,356.59 311.17,357.81 311.38,358.33 311.60,358.12 311.82,358.91 312.02,359.60 312.23,360.91 312.47,361.36 312.71,361.84 313.30,362.76 314.10,363.54 314.69,364.18 315.03,364.53 315.72,364.78 316.54,364.82 317.36,364.90 317.99,364.95 318.62,364.96 319.26,364.97 319.89,364.90 320.53,365.02 321.16,365.06 321.80,365.01 322.44,365.09 323.07,365.01 323.71,365.13 324.35,365.07 324.98,365.12 325.62,365.07 326.25,365.09 326.86,365.10 327.47,365.10 328.07,365.07 328.68,365.13 329.29,365.21 329.89,365.17 330.50,365.21 331.11,365.19 331.71,365.21 332.32,365.23 332.92,365.20 333.53,365.14 334.14,365.14 334.75,365.16 335.35,365.11 335.96,365.14 336.57,365.24 337.18,365.24 337.79,365.16 338.40,365.22 339.00,365.22 339.61,365.24 340.22,365.23 340.83,365.19 341.44,365.13 342.05,365.24 342.65,365.17 343.29,365.21 343.93,365.17 344.56,365.20 345.20,365.26 345.83,365.14 346.47,365.20 347.10,365.21 347.74,365.20 348.37,365.25 349.01,365.18 349.65,365.25 350.28,365.22 350.93,365.26 351.58,365.13 352.24,365.15 352.89,365.17 353.54,365.26 354.19,365.13 354.84,365.16 355.49,365.20" fill="none" stroke="#a0a0a0" stroke-width="0.9" stroke-linejoin="round"/>
<polyline points="294.00,354.08 294.12,353.73 294.23,353.19 294.34,352.87 294.45,351.96 294.55,351.55 294.68,350.74 294.81,349.72 294.94,348.94 295.04,347.50 295.15,347.02 295.26,346.14 295.36,346.51 295.47,345.65 295.59,344.85 295.70,343.73 295.81,343.15 295.91,342.31 296.01,342.27 296.11,342.09 296.21,340.66 296.30,339.74 296.41,339.21 296.52,338.74 296.63,338.71 296.75,337.91 296.86,336.81 296.95,335.79 297.05,335.20 297.14,334.66 297.24,334.82 297.34,333.85 297.43,333.88 297.55,333.09 297.66,332.25 297.77,331.17 297.89,330.89 298.00,329.35 298.10,328.69 298.21,328.60 298.31,327.90 298.42,326.90 298.52,326.32 298.65,325.31 298.77,325.65 298.89,324.69 299.01,324.24 299.13,323.59 299.25,322.24 299.37,321.90 299.48,320.79 299.60,320.65 299.71,320.03 299.82,318.53 299.93,317.73 300.04,317.37 300.14,317.22 300.25,316.37 300.35,315.32 300.48,315.59 300.61,314.82 300.73,313.71 300.85,312.52 300.96,312.84 301.07,311.73 301.17,310.51 301.27,310.14 301.37,309.84 301.50,309.30 301.64,307.97 301.77,307.56 301.89,306.45 302.14,306.05 302.37,307.63 302.44,307.62 302.51,307.91 302.58,309.11 302.64,309.29 302.71,310.12 302.78,311.16 302.85,311.93 302.92,312.60 302.99,313.29 303.25,313.68 303.56,312.22 303.67,312.26 303.79,310.71 303.91,310.46 304.00,309.73 304.09,309.42 304.18,308.82 304.27,307.61 304.39,307.44 304.51,306.83 304.63,305.91 304.95,305.02 305.10,306.59 305.24,306.88 305.31,306.86 305.37,307.70 305.44,309.23 305.50,308.94 305.55,309.79 305.60,310.91 305.65,311.60 305.70,312.02 305.75,312.80 305.80,312.66 305.85,313.43 305.90,315.19 305.95,315.68 306.00,315.46 306.05,316.14 306.10,317.03 306.16,318.52 306.21,318.32 306.26,319.53 306.31,320.48 306.37,320.77 306.42,321.75 306.48,321.60 306.53,322.11 306.58,322.63 306.64,324.21 306.69,324.11 306.74,325.83 306.80,326.20 306.85,326.27 306.91,327.71 306.96,327.63 307.02,328.75 307.07,328.95 307.13,330.45 307.19,331.25 307.24,331.95 307.30,331.53 307.36,333.23 307.42,333.50 307.48,334.44 307.54,334.68 307.61,335.45 307.67,336.04 307.75,337.01 307.83,336.86 307.92,337.55 308.00,338.86 308.09,339.23 308.18,340.04 308.27,340.25 308.36,341.81 308.45,341.59 308.54,343.20 308.63,343.82 308.73,344.04 308.82,344.24 308.91,345.48 309.01,345.56 309.10,346.43 309.23,346.81 309.35,348.61 309.48,348.85 309.60,349.33 309.72,349.73 309.84,351.20 309.96,352.01 310.08,352.67 310.19,352.44 310.32,353.37 310.44,353.91 310.56,355.08 310.75,355.19 310.95,356.59 311.17,357.81 311.38,358.33 311.60,358.12 311.82,358.91 312.02,359.60 312.23,360.91 312.47,361.36 312.71,361.84 313.30,362.76 314.10,363.54 314.69,364.18 315.03,364.53 315.72,364.78 316.54,364.82 317.36,364.90 317.99,364.95 318.62,364.96 319.26,364.97 319.89,364.90 320.53,365.02 321.16,365.06 321.80,365.01 322.44,365.09 323.07,365.01 323.71,365.13 324.35,365.07 324.98,365.12 325.62,365.07 326.25,365.09 326.86,365.10 327.47,365.10 328.07,365.07 328.68,365.13 329.29,365.21 329.89,365.17 330.50,365.21 331.11,365.19 331.71,365.21 332.32,365.23 332.92,365.20 333.53,365.14 334.14,365.14 334.75,365.16 335.35,365.11 335.96,365.14 336.57,365.24 337.18,365.24 337.79,365.16 338.40,365.22 339.00,365.22 339.61,365.24 340.22,365.23 340.83,365.19 341.44,365.13 342.05,365.24 342.65,365.17 343.29,365.21 343.93,365.17 344.56,365.20 345.20,365.26 345.83,365.14 346.47,365.20 347.10,365.21 347.74,365.20 348.37,365.25 349.01,365.18 349.65,365.25 350.28,365.22 350.93,365.26 351.58,365.13 352.24,365.15 352.89,365.17 353.54,365.26 354.19,365.13 354.84,365.16 355.49,365.20" fill="none" stroke="#4a4a4a" stroke-width="0.9" stroke-linejoin="round" stroke-dasharray="3 2"/>
<polyline points="294.00,362.78 294.74,362.93 295.47,362.53 296.18,362.69 296.90,362.83 297.61,362.85 298.21,362.89 298.81,362.90 299.41,362.67 300.01,362.68 300.77,362.56 301.53,362.88 302.29,362.64 303.17,362.61 304.05,362.91 305.18,362.52 305.96,362.18 306.52,361.84 307.04,361.38 307.67,361.02 308.42,360.19 309.20,359.47 309.97,358.95 310.70,358.28 311.38,357.87 311.99,356.79 312.54,355.80 313.06,355.12 313.32,354.99 313.57,354.10 313.83,353.00 314.10,352.81 314.38,351.45 314.65,350.60 314.94,349.95 315.23,349.21 315.41,348.88 315.60,348.02 315.79,347.69 315.97,346.39 316.15,346.56 316.33,345.31 316.49,345.09 316.65,343.57 316.81,343.65 316.95,342.27 317.09,342.11 317.23,341.27 317.32,340.50 317.41,339.47 317.50,338.56 317.59,338.10 317.68,338.14 317.76,336.73 317.85,336.56 317.93,335.81 318.01,335.21 318.10,334.05 318.18,333.34 318.27,332.61 318.35,332.83 318.44,331.57 318.53,331.18 318.62,330.43 318.71,329.43 318.80,328.62 318.90,327.92 318.99,328.10 319.08,326.73 319.17,326.90 319.27,325.65 319.36,325.35 319.45,324.11 319.55,324.11 319.64,322.92 319.74,322.38 319.83,321.89 319.93,320.83 320.03,320.32 320.13,320.22 320.23,319.08 320.33,318.54 320.43,318.29 320.53,317.12 320.64,316.39 320.75,315.71 320.85,315.18 320.96,314.45 321.06,314.11 321.15,313.32 321.24,313.10 321.34,311.66 321.43,311.65 321.55,311.10 321.66,309.77 321.78,308.84 321.90,308.53 322.05,307.48 322.19,307.10 322.34,306.62 322.74,305.04 323.06,305.57 323.20,306.76 323.34,307.27 323.40,307.93 323.47,308.74 323.53,309.02 323.59,309.57 323.66,310.55 323.72,311.36 323.79,312.52 323.85,312.84 323.92,313.05 324.00,313.90 324.07,315.12 324.14,315.64 324.23,316.68 324.31,317.51 324.40,318.13 324.48,318.12 324.55,319.62 324.62,319.87 324.69,320.25 324.76,320.84 324.83,322.20 324.91,322.26 324.98,322.83 325.06,323.72 325.13,325.08 325.20,325.32 325.28,326.29 325.35,326.34 325.43,327.42 325.50,327.99 325.58,328.58 325.65,329.70 325.73,330.06 325.80,330.48 325.88,332.01 325.95,332.17 326.03,332.49 326.10,332.95 326.18,334.22 326.25,334.71 326.33,334.84 326.41,335.91 326.48,336.80 326.56,337.21 326.64,337.53 326.71,338.41 326.79,339.12 326.87,339.76 326.95,339.86 327.02,341.12 327.10,341.86 327.20,342.37 327.29,343.20 327.39,343.43 327.49,344.68 327.58,344.64 327.67,345.35 327.77,346.40 327.86,347.37 327.95,347.19 328.05,347.96 328.14,348.42 328.23,349.46 328.32,349.77 328.41,350.43 328.50,351.60 328.59,352.05 328.71,353.16 328.83,353.38 328.95,354.41 329.07,354.42 329.19,356.04 329.31,356.00 329.49,357.12 329.67,358.02 329.84,359.15 330.00,359.38 330.30,360.92 330.62,361.37 331.00,361.80 331.48,362.84 331.84,363.20 332.03,364.01 332.42,364.32 333.36,364.67 333.97,364.86 334.59,364.88 335.20,364.99 335.86,365.01 336.53,365.09 337.19,365.05 337.86,365.13 338.52,365.14 339.17,365.23 339.83,365.14 340.48,365.22 341.13,365.18 341.79,365.22 342.44,365.24 343.10,365.27 343.71,365.20 344.33,365.21 344.95,365.19 345.57,365.29 346.19,365.20 346.80,365.19 347.42,365.24 348.04,365.25 348.67,365.28 349.30,365.17 349.94,365.19 350.57,365.18 351.20,365.23 351.83,365.20 352.47,365.20 353.07,365.25 353.68,365.22 354.28,365.25 354.89,365.26 355.49,365.20" fill="none" stroke="#8a8a8a" stroke-width="0.9" stroke-linejoin="round"/>
<polyline points="294.00,362.78 294.74,362.93 295.47,362.53 296.18,362.69 296.90,362.83 297.61,362.85 298.21,362.89 298.81,362.90 299.41,362.67 300.01,362.68 300.77,362.56 301.53,362.88 302.29,362.64 303.17,362.61 304.05,362.91 305.18,362.52 305.96,362.18 306.52,361.84 307.04,361.38 307.67,361.02 308.42,360.19 309.20,359.47 309.97,358.95 310.70,358.28 311.38,357.87 311.99,356.79 312.54,355.80 313.06,355.12 313.32,354.99 313.57,354.10 313.83,353.00 314.10,352.81 314.38,351.45 314.65,350.60 314.94,349.95 315.23,349.21 315.41,348.88 315.60,348.02 315.79,347.69 315.97,346.39 316.15,346.56 316.33,345.31 316.49,345.09 316.65,343.57 316.81,343.65 316.95,342.27 317.09,342.11 317.23,341.27 317.32,340.50 317.41,339.47 317.50,338.56 317.59,338.10 317.68,338.14 317.76,336.73 317.85,336.56 317.93,335.81 318.01,335.21 318.10,334.05 318.18,333.34 318.27,332.61 318.35,332.83 318.44,331.57 318.53,331.18 318.62,330.43 318.71,329.43 318.80,328.62 318.90,327.92 318.99,328.10 319.08,326.73 319.17,326.90 319.27,325.65 319.36,325.35 319.45,324.11 319.55,324.11 319.64,322.92 319.74,322.38 319.83,321.89 319.93,320.83 320.03,320.32 320.13,320.22 320.23,319.08 320.33,318.54 320.43,318.29 320.53,317.12 320.64,316.39 320.75,315.71 320.85,315.18 320.96,314.45 321.06,314.11 321.15,313.32 321.24,313.10 321.34,311.66 321.43,311.65 321.55,311.10 321.66,309.77 321.78,308.84 321.90,308.53 322.05,307.48 322.19,307.10 322.34,306.62 322.74,305.04 323.06,305.57 323.20,306.76 323.34,307.27 323.40,307.93 323.47,308.74 323.53,309.02 323.59,309.57 323.66,310.55 323.72,311.36 323.79,312.52 323.85,312.84 323.92,313.05 324.00,313.90 324.07,315.12 324.14,315.64 324.23,316.68 324.31,317.51 324.40,318.13 324.48,318.12 324.55,319.62 324.62,319.87 324.69,320.25 324.76,320.84 324.83,322.20 324.91,322.26 324.98,322.83 325.06,323.72 325.13,325.08 325.20,325.32 325.28,326.29 325.35,326.34 325.43,327.42 325.50,327.99 325.58,328.58 325.65,329.70 325.73,330.06 325.80,330.48 325.88,332.01 325.95,332.17 326.03,332.49 326.10,332.95 326.18,334.22 326.25,334.71 326.33,334.84 326.41,335.91 326.48,336.80 326.56,337.21 326.64,337.53 326.71,338.41 326.79,339.12 326.87,339.76 326.95,339.86 327.02,341.12 327.10,341.86 327.20,342.37 327.29,343.20 327.39,343.43 327.49,344.68 327.58,344.64 327.67,345.35 327.77,346.40 327.86,347.37 327.95,347.19 328.05,347.96 328.14,348.42 328.23,349.46 328.32,349.77 328.41,350.43 328.50,351.60 328.59,352.05 328.71,353.16 328.83,353.38 328.95,354.41 329.07,354.42 329.19,356.04 329.31,356.00 329.49,357.12 329.67,358.02 329.84,359.15 330.00,359.38 330.30,360.92 330.62,361.37 331.00,361.80 331.48,362.84 331.84,363.20 332.03,364.01 332.42,364.32 333.36,364.67 333.97,364.86 334.59,364.88 335.20,364.99 335.86,365.01 336.53,365.09 337.19,365.05 337.86,365.13 338.52,365.14 339.17,365.23 339.83,365.14 340.48,365.22 341.13,365.18 341.79,365.22 342.44,365.24 343.10,365.27 343.71,365.20 344.33,365.21 344.95,365.19 345.57,365.29 346.19,365.20 346.80,365.19 347.42,365.24 348.04,365.25 348.67,365.28 349.30,365.17 349.94,365.19 350.57,365.18 351.20,365.23 351.83,365.20 352.47,365.20 353.07,365.25 353.68,365.22 354.28,365.25 354.89,365.26 355.49,365.20" fill="none" stroke="#333" stroke-width="0.9" stroke-linejoin="round" stroke-dasharray="3 2"/>
<polyline points="381.80,357.73 382.19,357.89 382.73,356.38 383.05,355.41 383.37,355.90 383.71,354.27 384.05,353.51 384.39,353.06 384.73,352.29 384.96,352.50 385.19,351.78 385.43,350.64 385.67,350.08 385.92,349.77 386.17,349.04 386.36,348.28 386.55,347.54 386.75,346.50 386.94,346.08 387.12,345.97 387.31,345.28 387.49,344.92 387.68,344.43 387.85,343.87 388.02,342.31 388.19,341.53 388.37,341.88 388.52,340.80 388.67,339.64 388.83,339.56 388.98,338.35 389.10,337.73 389.21,337.29 389.33,336.88 389.44,336.47 389.56,335.14 389.67,335.33 389.78,334.57 389.89,333.77 390.00,333.39 390.11,332.92 390.22,331.36 390.32,331.31 390.43,330.94 390.54,330.37 390.65,329.68 390.78,328.40 390.92,328.61 391.06,327.68 391.19,326.29 391.33,325.84 391.47,325.78 391.61,324.19 391.75,323.74 391.89,323.72 392.03,322.96 392.17,321.47 392.31,321.39 392.45,320.28 392.59,319.99 392.73,319.46 392.87,318.03 393.00,317.52 393.14,316.90 393.27,316.34 393.41,315.44 393.58,314.81 393.75,314.39 393.92,313.66 394.08,312.49 394.25,312.33 394.41,312.01 394.57,310.79 394.73,309.74 394.90,309.37 395.05,308.38 395.20,307.38 395.35,307.07 395.56,305.84 395.77,305.95 396.14,305.04 396.43,306.28 396.51,307.66 396.58,308.10 396.66,308.86 396.71,309.30 396.75,309.97 396.80,310.74 396.85,311.73 396.89,311.43 396.93,312.73 396.96,312.79 397.00,313.35 397.04,314.65 397.08,315.01 397.12,315.94 397.16,316.59 397.21,316.88 397.25,317.04 397.29,317.48 397.34,318.77 397.38,319.66 397.43,319.78 397.47,320.20 397.51,320.74 397.55,321.56 397.58,322.81 397.62,322.60 397.66,323.49 397.69,324.15 397.73,325.33 397.77,326.32 397.81,325.81 397.84,326.57 397.88,328.21 397.92,328.90 397.96,328.57 398.00,329.44 398.05,330.32 398.09,330.73 398.13,331.49 398.17,332.22 398.22,332.57 398.27,332.94 398.32,333.59 398.36,334.30 398.41,334.83 398.46,336.08 398.53,336.88 398.59,337.07 398.66,338.42 398.72,339.06 398.79,339.30 398.86,340.20 398.93,340.55 399.00,342.15 399.07,342.43 399.14,342.53 399.21,343.34 399.29,344.68 399.37,345.00 399.44,346.09 399.52,346.20 399.60,347.52 399.68,348.16 399.77,347.96 399.85,349.19 399.93,349.35 400.04,350.68 400.16,351.50 400.27,352.19 400.38,352.22 400.50,352.66 400.62,353.94 400.74,354.43 400.86,354.52 401.03,355.28 401.20,356.45 401.37,356.58 401.55,357.81 401.73,357.94 401.91,358.57 402.20,359.54 402.49,360.45 402.80,361.31 403.10,361.36 403.24,362.97 402.89,363.52 402.84,364.15 403.86,364.66 404.58,364.76 405.30,364.83 406.02,364.97 406.74,364.95 407.39,365.00 408.04,365.07 408.69,365.04 409.34,365.05 410.00,365.09 410.65,365.20 411.30,365.23 411.95,365.24 412.60,365.30 413.24,365.28 413.88,365.22 414.52,365.23 415.17,365.29 415.81,365.20 416.45,365.28 417.09,365.21 417.73,365.21 418.37,365.29 419.01,365.24 419.65,365.36 420.29,365.36 420.93,365.30 421.54,365.26 422.14,365.25 422.75,365.30 423.36,365.30 423.96,365.28 424.57,365.33 425.18,365.30 425.78,365.33 426.39,365.23 427.00,365.23 427.60,365.27 428.21,365.28 428.82,365.25 429.42,365.31 430.03,365.24 430.66,365.25 431.29,365.27 431.92,365.30 432.55,365.30 433.18,365.24 433.81,365.24 434.44,365.31 435.07,365.31 435.70,365.26 436.33,365.18 436.96,365.22 437.58,365.25 438.21,365.19 438.83,365.15 439.45,365.29 440.07,365.27 440.69,365.16 441.31,365.20 441.93,365.22 442.55,365.18 443.17,365.14 443.79,365.20" fill="none" stroke="#a0a0a0" stroke-width="0.9" stroke-linejoin="round"/>
<polyline points="381.80,357.73 382.19,357.89 382.73,356.38 383.05,355.41 383.37,355.90 383.71,354.27 384.05,353.51 384.39,353.06 384.73,352.29 384.96,352.50 385.19,351.78 385.43,350.64 385.67,350.08 385.92,349.77 386.17,349.04 386.36,348.28 386.55,347.54 386.75,346.50 386.94,346.08 387.12,345.97 387.31,345.28 387.49,344.92 387.68,344.43 387.85,343.87 388.02,342.31 388.19,341.53 388.37,341.88 388.52,340.80 388.67,339.64 388.83,339.56 388.98,338.35 389.10,337.73 389.21,337.29 389.33,336.88 389.44,336.47 389.56,335.14 389.67,335.33 389.78,334.57 389.89,333.77 390.00,333.39 390.11,332.92 390.22,331.36 390.32,331.31 390.43,330.94 390.54,330.37 390.65,329.68 390.78,328.40 390.92,328.61 391.06,327.68 391.19,326.29 391.33,325.84 391.47,325.78 391.61,324.19 391.75,323.74 391.89,323.72 392.03,322.96 392.17,321.47 392.31,321.39 392.45,320.28 392.59,319.99 392.73,319.46 392.87,318.03 393.00,317.52 393.14,316.90 393.27,316.34 393.41,315.44 393.58,314.81 393.75,314.39 393.92,313.66 394.08,312.49 394.25,312.33 394.41,312.01 394.57,310.79 394.73,309.74 394.90,309.37 395.05,308.38 395.20,307.38 395.35,307.07 395.56,305.84 395.77,305.95 396.14,305.04 396.43,306.28 396.51,307.66 396.58,308.10 396.66,308.86 396.71,309.30 396.75,309.97 396.80,310.74 396.85,311.73 396.89,311.43 396.93,312.73 396.96,312.79 397.00,313.35 397.04,314.65 397.08,315.01 397.12,315.94 397.16,316.59 397.21,316.88 397.25,317.04 397.29,317.48 397.34,318.77 397.38,319.66 397.43,319.78 397.47,320.20 397.51,320.74 397.55,321.56 397.58,322.81 397.62,322.60 397.66,323.49 397.69,324.15 397.73,325.33 397.77,326.32 397.81,325.81 397.84,326.57 397.88,328.21 397.92,328.90 397.96,328.57 398.00,329.44 398.05,330.32 398.09,330.73 398.13,331.49 398.17,332.22 398.22,332.57 398.27,332.94 398.32,333.59 398.36,334.30 398.41,334.83 398.46,336.08 398.53,336.88 398.59,337.07 398.66,338.42 398.72,339.06 398.79,339.30 398.86,340.20 398.93,340.55 399.00,342.15 399.07,342.43 399.14,342.53 399.21,343.34 399.29,344.68 399.37,345.00 399.44,346.09 399.52,346.20 399.60,347.52 399.68,348.16 399.77,347.96 399.85,349.19 399.93,349.35 400.04,350.68 400.16,351.50 400.27,352.19 400.38,352.22 400.50,352.66 400.62,353.94 400.74,354.43 400.86,354.52 401.03,355.28 401.20,356.45 401.37,356.58 401.55,357.81 401.73,357.94 401.91,358.57 402.20,359.54 402.49,360.45 402.80,361.31 403.10,361.36 403.24,362.97 402.89,363.52 402.84,364.15 403.86,364.66 404.58,364.76 405.30,364.83 406.02,364.97 406.74,364.95 407.39,365.00 408.04,365.07 408.69,365.04 409.34,365.05 410.00,365.09 410.65,365.20 411.30,365.23 411.95,365.24 412.60,365.30 413.24,365.28 413.88,365.22 414.52,365.23 415.17,365.29 415.81,365.20 416.45,365.28 417.09,365.21 417.73,365.21 418.37,365.29 419.01,365.24 419.65,365.36 420.29,365.36 420.93,365.30 421.54,365.26 422.14,365.25 422.75,365.30 423.36,365.30 423.96,365.28 424.57,365.33 425.18,365.30 425.78,365.33 426.39,365.23 427.00,365.23 427.60,365.27 428.21,365.28 428.82,365.25 429.42,365.31 430.03,365.24 430.66,365.25 431.29,365.27 431.92,365.30 432.55,365.30 433.18,365.24 433.81,365.24 434.44,365.31 435.07,365.31 435.70,365.26 436.33,365.18 436.96,365.22 437.58,365.25 438.21,365.19 438.83,365.15 439.45,365.29 440.07,365.27 440.69,365.16 441.31,365.20 441.93,365.22 442.55,365.18 443.17,365.14 443.79,365.20" fill="none" stroke="#4a4a4a" stroke-width="0.9" stroke-linejoin="round" stroke-dasharray="3 2"/>
<polyline points="381.80,365.24 382.19,364.83 382.73,364.25 383.37,363.42 384.05,362.69 384.39,361.97 384.73,362.14 385.08,360.76 385.43,360.39 385.80,360.31 386.17,358.91 386.55,358.16 386.94,357.40 387.18,356.96 387.43,356.85 387.68,356.66 387.91,355.23 388.14,354.60 388.37,354.68 388.57,353.54 388.78,352.70 388.98,351.70 389.13,351.23 389.27,351.48 389.42,349.83 389.56,349.38 389.70,349.28 389.83,348.80 389.97,348.14 390.11,346.95 390.24,346.84 390.38,345.72 390.51,344.64 390.65,344.16 390.78,343.76 390.92,343.08 391.06,341.66 391.19,341.03 391.33,341.22 391.48,339.46 391.62,339.58 391.76,338.28 391.87,337.54 391.99,336.93 392.10,336.56 392.22,336.56 392.33,334.93 392.45,335.15 392.56,333.88 392.67,333.08 392.78,333.14 392.90,332.02 393.00,331.25 393.11,330.93 393.22,330.82 393.33,330.27 393.43,329.33 393.55,328.00 393.68,328.24 393.80,327.40 393.92,327.09 394.06,326.42 394.20,324.93 394.34,324.82 394.46,324.14 394.59,322.84 394.71,322.32 394.88,321.47 395.05,320.57 395.22,319.78 395.39,318.63 395.56,317.92 395.74,317.89 395.86,316.61 395.98,316.20 396.10,315.82 396.23,314.89 396.35,313.50 396.48,313.54 396.60,312.69 396.72,312.20 396.85,311.18 397.03,310.48 397.21,309.81 397.55,308.80 397.88,310.34 397.98,310.73 398.09,312.00 398.19,311.88 398.26,313.07 398.34,313.54 398.41,314.83 398.49,314.96 398.55,316.18 398.61,316.80 398.66,317.46 398.72,317.18 398.78,318.76 398.85,319.25 398.92,319.90 399.00,320.60 399.07,320.60 399.13,322.29 399.20,322.59 399.27,323.18 399.33,323.74 399.40,325.00 399.46,325.74 399.52,326.58 399.58,326.52 399.63,327.28 399.68,327.78 399.73,328.20 399.78,329.08 399.83,329.32 399.88,330.86 399.93,330.78 399.98,331.20 400.04,331.81 400.09,333.23 400.15,333.17 400.20,334.09 400.26,334.62 400.32,335.70 400.38,336.48 400.44,336.30 400.51,337.29 400.57,338.21 400.63,338.30 400.70,339.41 400.76,339.82 400.83,339.93 400.89,341.21 400.96,341.46 401.03,341.51 401.10,342.69 401.17,343.59 401.24,343.82 401.31,344.38 401.38,344.90 401.48,346.19 401.57,346.65 401.67,346.83 401.77,347.74 401.87,348.42 401.98,349.81 402.09,350.17 402.20,350.17 402.31,351.76 402.42,351.36 402.54,352.67 402.65,353.13 402.77,354.11 402.89,354.40 403.01,354.63 403.13,355.78 403.26,356.73 403.39,357.28 403.52,357.35 403.65,357.78 403.85,359.09 404.04,359.84 404.24,359.82 404.58,361.35 404.92,362.16 405.31,362.23 405.70,362.72 406.55,363.44 407.48,363.77 408.49,363.66 409.57,363.93 410.40,364.24 411.00,364.55 411.82,364.66 412.58,364.79 413.34,364.87 414.01,364.92 414.68,364.88 415.36,365.03 416.03,365.07 416.69,365.02 417.35,365.07 418.01,364.99 418.67,365.11 419.34,365.07 420.00,365.12 420.66,365.15 421.29,365.08 421.91,365.16 422.54,365.07 423.17,365.05 423.79,365.12 424.42,365.18 425.05,365.19 425.68,365.20 426.30,365.14 426.93,365.21 427.54,365.16 428.15,365.10 428.77,365.17 429.38,365.20 429.99,365.15 430.60,365.18 431.21,365.13 431.82,365.13 432.44,365.16 433.05,365.17 433.66,365.17 434.26,365.12 434.86,365.10 435.46,365.15 436.06,365.21 436.67,365.21 437.27,365.14 437.87,365.15 438.47,365.19 439.07,365.14 439.67,365.20 440.36,365.25 441.04,365.15 441.73,365.21 442.42,365.23 443.10,365.23 443.79,365.20" fill="none" stroke="#8a8a8a" stroke-width="0.9" stroke-linejoin="round"/>
<polyline points="381.80,365.24 382.19,364.83 382.73,364.25 383.37,363.42 384.05,362.69 384.39,361.97 384.73,362.14 385.08,360.76 385.43,360.39 385.80,360.31 386.17,358.91 386.55,358.16 386.94,357.40 387.18,356.96 387.43,356.85 387.68,356.66 387.91,355.23 388.14,354.60 388.37,354.68 388.57,353.54 388.78,352.70 388.98,351.70 389.13,351.23 389.27,351.48 389.42,349.83 389.56,349.38 389.70,349.28 389.83,348.80 389.97,348.14 390.11,346.95 390.24,346.84 390.38,345.72 390.51,344.64 390.65,344.16 390.78,343.76 390.92,343.08 391.06,341.66 391.19,341.03 391.33,341.22 391.48,339.46 391.62,339.58 391.76,338.28 391.87,337.54 391.99,336.93 392.10,336.56 392.22,336.56 392.33,334.93 392.45,335.15 392.56,333.88 392.67,333.08 392.78,333.14 392.90,332.02 393.00,331.25 393.11,330.93 393.22,330.82 393.33,330.27 393.43,329.33 393.55,328.00 393.68,328.24 393.80,327.40 393.92,327.09 394.06,326.42 394.20,324.93 394.34,324.82 394.46,324.14 394.59,322.84 394.71,322.32 394.88,321.47 395.05,320.57 395.22,319.78 395.39,318.63 395.56,317.92 395.74,317.89 395.86,316.61 395.98,316.20 396.10,315.82 396.23,314.89 396.35,313.50 396.48,313.54 396.60,312.69 396.72,312.20 396.85,311.18 397.03,310.48 397.21,309.81 397.55,308.80 397.88,310.34 397.98,310.73 398.09,312.00 398.19,311.88 398.26,313.07 398.34,313.54 398.41,314.83 398.49,314.96 398.55,316.18 398.61,316.80 398.66,317.46 398.72,317.18 398.78,318.76 398.85,319.25 398.92,319.90 399.00,320.60 399.07,320.60 399.13,322.29 399.20,322.59 399.27,323.18 399.33,323.74 399.40,325.00 399.46,325.74 399.52,326.58 399.58,326.52 399.63,327.28 399.68,327.78 399.73,328.20 399.78,329.08 399.83,329.32 399.88,330.86 399.93,330.78 399.98,331.20 400.04,331.81 400.09,333.23 400.15,333.17 400.20,334.09 400.26,334.62 400.32,335.70 400.38,336.48 400.44,336.30 400.51,337.29 400.57,338.21 400.63,338.30 400.70,339.41 400.76,339.82 400.83,339.93 400.89,341.21 400.96,341.46 401.03,341.51 401.10,342.69 401.17,343.59 401.24,343.82 401.31,344.38 401.38,344.90 401.48,346.19 401.57,346.65 401.67,346.83 401.77,347.74 401.87,348.42 401.98,349.81 402.09,350.17 402.20,350.17 402.31,351.76 402.42,351.36 402.54,352.67 402.65,353.13 402.77,354.11 402.89,354.40 403.01,354.63 403.13,355.78 403.26,356.73 403.39,357.28 403.52,357.35 403.65,357.78 403.85,359.09 404.04,359.84 404.24,359.82 404.58,361.35 404.92,362.16 405.31,362.23 405.70,362.72 406.55,363.44 407.48,363.77 408.49,363.66 409.57,363.93 410.40,364.24 411.00,364.55 411.82,364.66 412.58,364.79 413.34,364.87 414.01,364.92 414.68,364.88 415.36,365.03 416.03,365.07 416.69,365.02 417.35,365.07 418.01,364.99 418.67,365.11 419.34,365.07 420.00,365.12 420.66,365.15 421.29,365.08 421.91,365.16 422.54,365.07 423.17,365.05 423.79,365.12 424.42,365.18 425.05,365.19 425.68,365.20 426.30,365.14 426.93,365.21 427.54,365.16 428.15,365.10 428.77,365.17 429.38,365.20 429.99,365.15 430.60,365.18 431.21,365.13 431.82,365.13 432.44,365.16 433.05,365.17 433.66,365.17 434.26,365.12 434.86,365.10 435.46,365.15 436.06,365.21 436.67,365.21 437.27,365.14 437.87,365.15 438.47,365.19 439.07,365.14 439.67,365.20 440.36,365.25 441.04,365.15 441.73,365.21 442.42,365.23 443.10,365.23 443.79,365.20" fill="none" stroke="#333" stroke-width="0.9" stroke-linejoin="round" stroke-dasharray="3 2"/>
<text x="0" y="0" transform="translate(246.8,203.9)" font-family="Liberation Sans, sans-serif" font-size="17.8" font-weight="bold">D</text>
<text transform="translate(320.7,215.6) scale(0.9,1)" font-family="Liberation Sans, sans-serif" font-size="10.4" text-anchor="middle" fill="#111" stroke="#111" stroke-width="0.15">LAP</text>
<text transform="translate(386.3,215.6) scale(0.9,1)" font-family="Liberation Sans, sans-serif" font-size="10.4" fill="#111" stroke="#111" stroke-width="0.15">mTGF-beta<tspan font-size="7.6" dy="2.8">123</tspan></text>
<text transform="translate(267.9,263.1) rotate(-90) scale(0.84,1)" font-family="Liberation Sans, sans-serif" font-size="11" font-weight="bold" text-anchor="middle">CD25-</text>
<text transform="translate(268.8,331.9) rotate(-90) scale(0.84,1)" font-family="Liberation Sans, sans-serif" font-size="11" font-weight="bold" text-anchor="middle">CD25 (+)</text>
</svg></body></html>
